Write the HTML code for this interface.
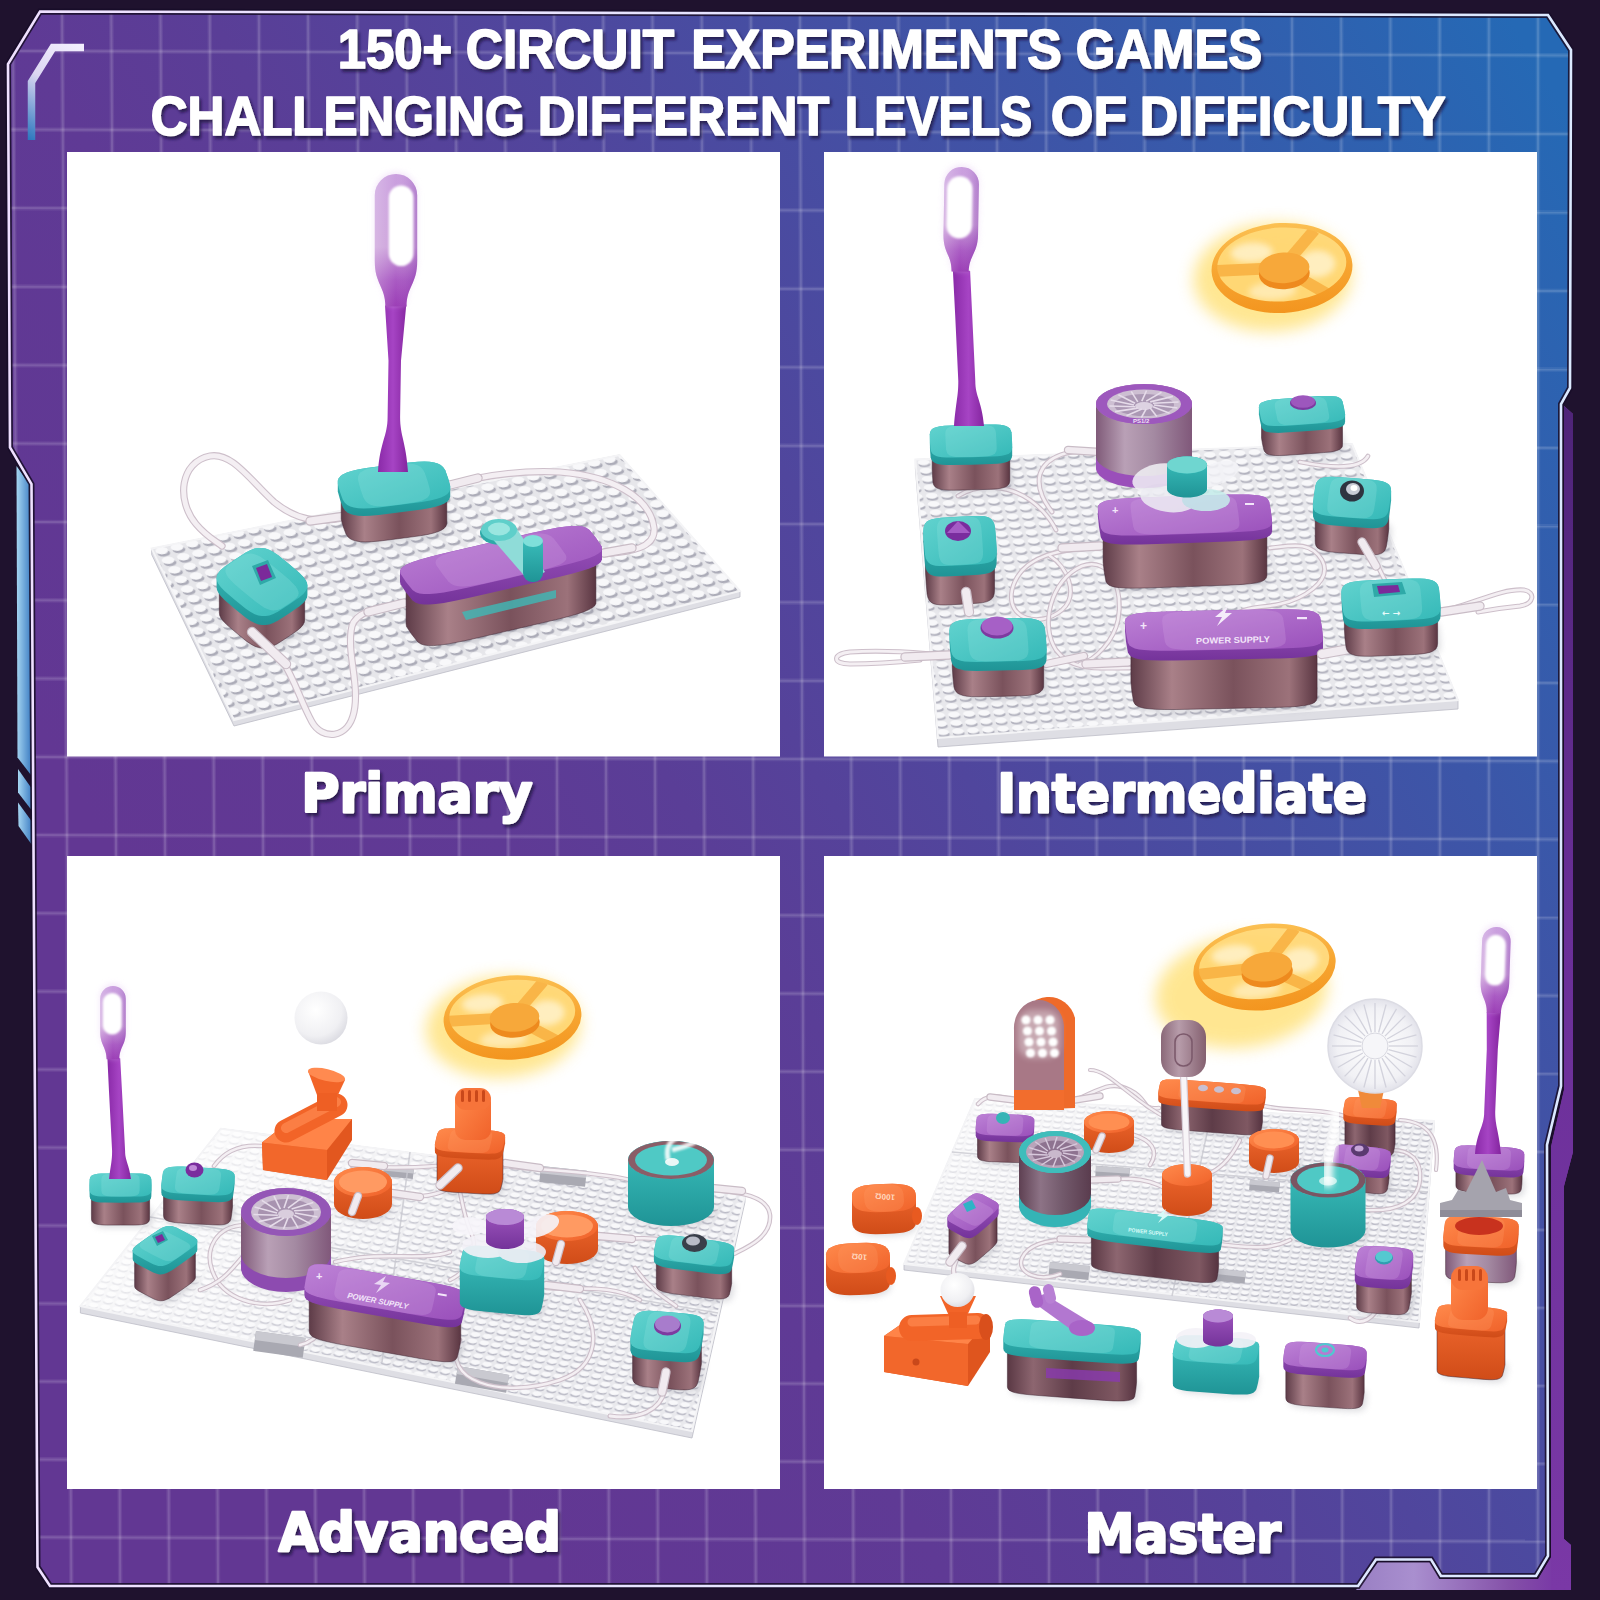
<!DOCTYPE html>
<html lang="en"><head><meta charset="utf-8"><title>150+ Circuit Experiments Games</title>
<style>
html,body{margin:0;padding:0;background:#1f122e;}
body{width:1600px;height:1600px;overflow:hidden;position:relative;font-family:"Liberation Sans",sans-serif;}
svg{position:absolute;left:0;top:0;display:block;}
.t{font-family:"Liberation Sans",sans-serif;font-weight:bold;fill:#fff;}
.lbl{font-family:"DejaVu Sans","Liberation Sans",sans-serif;font-weight:bold;fill:#fff;}
</style></head><body>
<svg width="1600" height="1600" viewBox="0 0 1600 1600">
<defs>
<linearGradient id="bgG" gradientUnits="userSpaceOnUse" x1="-294.1" y1="176.5" x2="1102.9" y2="-661.8">
<stop offset="0.000" stop-color="#623793"/><stop offset="0.211" stop-color="#5f3a95"/><stop offset="0.316" stop-color="#5a3e97"/><stop offset="0.474" stop-color="#50469d"/><stop offset="0.737" stop-color="#3c56a8"/><stop offset="1.000" stop-color="#2569b5"/>
</linearGradient>
<linearGradient id="edgeG" gradientUnits="userSpaceOnUse" x1="0" y1="0" x2="1600" y2="0">
<stop offset="0" stop-color="#efe0ff"/><stop offset="1" stop-color="#dbe9ff"/>
</linearGradient>
<clipPath id="frameClip"><polygon points="40,11.5 1548,15 1571,50 1570,388 1561,404 1561,1086 1547,1145 1548,1556 1536,1576 1441,1576 1431,1559.5 1376,1559.5 1358,1586 50,1586 37.5,1567 31.5,484 10,447.5 8,64"/></clipPath>
<linearGradient id="blueStrip" x1="0" y1="0" x2="1" y2="0">
<stop offset="0" stop-color="#a6d6f2"/><stop offset="1" stop-color="#3f7fc4"/>
</linearGradient>
<linearGradient id="brk" gradientUnits="userSpaceOnUse" x1="85" y1="45" x2="30" y2="140">
<stop offset="0" stop-color="#f4f0ff"/><stop offset="0.45" stop-color="#dcd6f2"/><stop offset="1" stop-color="#2d78be"/>
</linearGradient>
<linearGradient id="purStrip" gradientUnits="userSpaceOnUse" x1="1360" y1="0" x2="1575" y2="0">
<stop offset="0" stop-color="#9a80c4"/><stop offset="0.25" stop-color="#a98fcf"/><stop offset="0.7" stop-color="#8450a8"/><stop offset="0.89" stop-color="#7a3aa6"/><stop offset="1" stop-color="#7a38a6"/>
</linearGradient>
<linearGradient id="purV" gradientUnits="userSpaceOnUse" x1="0" y1="400" x2="0" y2="1590"><stop offset="0" stop-color="#4e2478"/><stop offset="0.45" stop-color="#6a2f98"/><stop offset="1" stop-color="#7a38a6"/></linearGradient>
<filter id="ts" x="-5%" y="-20%" width="110%" height="150%">
<feDropShadow dx="2" dy="3" stdDeviation="1.6" flood-color="#1a0a3a" flood-opacity="0.75"/>
</filter>
<filter id="blur1" x="-30%" y="-30%" width="160%" height="160%"><feGaussianBlur stdDeviation="1.2"/></filter>
<filter id="blur3" x="-30%" y="-30%" width="160%" height="160%"><feGaussianBlur stdDeviation="3"/></filter>
<filter id="blur8" x="-40%" y="-40%" width="180%" height="180%"><feGaussianBlur stdDeviation="8"/></filter>
<linearGradient id="gTealT" x1="0" y1="0" x2="1" y2="1"><stop offset="0" stop-color="#62d3cf"/><stop offset="1" stop-color="#35b9b8"/></linearGradient>
<linearGradient id="gTealS" x1="0" y1="0" x2="0" y2="1"><stop offset="0" stop-color="#3cc0bd"/><stop offset="1" stop-color="#1f9496"/></linearGradient>
<linearGradient id="gPurT" x1="0" y1="0" x2="1" y2="1"><stop offset="0" stop-color="#bd82d6"/><stop offset="1" stop-color="#9a50bb"/></linearGradient>
<linearGradient id="gPurS" x1="0" y1="0" x2="0" y2="1"><stop offset="0" stop-color="#a158c0"/><stop offset="1" stop-color="#74339a"/></linearGradient>
<linearGradient id="gOrT" x1="0" y1="0" x2="1" y2="1"><stop offset="0" stop-color="#ff8a4c"/><stop offset="1" stop-color="#f0622a"/></linearGradient>
<linearGradient id="gOrS" x1="0" y1="0" x2="0" y2="1"><stop offset="0" stop-color="#f26a30"/><stop offset="1" stop-color="#d04c18"/></linearGradient>
<linearGradient id="gBrown" x1="0" y1="0" x2="1" y2="0"><stop offset="0" stop-color="#5e3c48"/><stop offset="0.22" stop-color="#a98088"/><stop offset="0.55" stop-color="#7a525c"/><stop offset="0.85" stop-color="#9c727a"/><stop offset="1" stop-color="#5a3642"/></linearGradient>
<linearGradient id="gLampStem" x1="0" y1="0" x2="1" y2="0"><stop offset="0" stop-color="#8a2aa8"/><stop offset="0.5" stop-color="#a644c4"/><stop offset="1" stop-color="#84259f"/></linearGradient>
<linearGradient id="gMauve" x1="0" y1="0" x2="1" y2="0"><stop offset="0" stop-color="#7f5a78"/><stop offset="0.3" stop-color="#b9a0b6"/><stop offset="0.6" stop-color="#a48aa2"/><stop offset="1" stop-color="#80587a"/></linearGradient>
<radialGradient id="gBall" cx="0.4" cy="0.35" r="0.7"><stop offset="0" stop-color="#ffffff"/><stop offset="0.7" stop-color="#f0f0f3"/><stop offset="1" stop-color="#d9d9e0"/></radialGradient>
<linearGradient id="gMauveD" x1="0" y1="0" x2="1" y2="0"><stop offset="0" stop-color="#5e4052"/><stop offset="0.3" stop-color="#8d7386"/><stop offset="0.6" stop-color="#735a6c"/><stop offset="1" stop-color="#5a3c4e"/></linearGradient>
<linearGradient id="gBrownD" x1="0" y1="0" x2="1" y2="0"><stop offset="0" stop-color="#5a3844"/><stop offset="0.2" stop-color="#8d6670"/><stop offset="0.5" stop-color="#5e3c48"/><stop offset="0.85" stop-color="#7f5862"/><stop offset="1" stop-color="#553340"/></linearGradient>
<radialGradient id="gFanW" cx="0.5" cy="0.5" r="0.5"><stop offset="0" stop-color="#ffffff"/><stop offset="0.8" stop-color="#f1f1f5"/><stop offset="1" stop-color="#e2e2ea"/></radialGradient>
<linearGradient id="gMic" x1="0" y1="0" x2="1" y2="0"><stop offset="0" stop-color="#8a6878"/><stop offset="0.4" stop-color="#b79caa"/><stop offset="1" stop-color="#84606f"/></linearGradient>
<linearGradient id="gDisc" x1="0" y1="0" x2="0" y2="1"><stop offset="0" stop-color="#fbc052"/><stop offset="0.5" stop-color="#f7a632"/><stop offset="1" stop-color="#f3951f"/></linearGradient>
<linearGradient id="gLampHead" x1="0" y1="0" x2="0" y2="1"><stop offset="0" stop-color="#c79add"/><stop offset="0.55" stop-color="#c89ad8"/><stop offset="0.8" stop-color="#a552c0"/><stop offset="1" stop-color="#9634b2"/></linearGradient>
<linearGradient id="gLampHeadX" x1="0" y1="0" x2="1" y2="0"><stop offset="0" stop-color="#ffffff" stop-opacity="0.28"/><stop offset="0.5" stop-color="#ffffff" stop-opacity="0.05"/><stop offset="1" stop-color="#6a1f9a" stop-opacity="0.22"/></linearGradient>

</defs>
<rect width="1600" height="1600" fill="#1f122e"/>
<!-- outer purple strip right/bottom -->
<path d="M1564,406 L1573,414 L1573,1152 L1564,1186 L1564,1539 L1571,1545 L1571,1590 L1356,1590 L1378,1562 L1430,1562 L1440,1579 L1538,1579 L1551,1557 L1551,1147 L1564,1090 Z" fill="url(#purStrip)"/>
<path d="M1564,406 L1573,414 L1573,1152 L1564,1186 L1564,1539 L1571,1545 L1571,1590 L1551,1590 L1551,1557 L1551,1147 L1564,1090 Z" fill="url(#purV)"/>
<!-- left blue strip -->
<path d="M16.5,466 L29.5,484 L31,775 L17.5,757.5 Z" fill="url(#blueStrip)"/>
<path d="M18,769 L31,787.5 L31.5,810 L18,792.5 Z" fill="url(#blueStrip)"/>
<path d="M18,802.5 L31.5,821 L32,845 L18.5,826 Z" fill="url(#blueStrip)"/>
<!-- main frame -->
<polygon points="40,11.5 1548,15 1571,50 1570,388 1561,404 1561,1086 1547,1145 1548,1556 1536,1576 1441,1576 1431,1559.5 1376,1559.5 1358,1586 50,1586 37.5,1567 31.5,484 10,447.5 8,64" fill="url(#bgG)"/>
<g clip-path="url(#frameClip)" stroke="#ffffff" stroke-opacity="0.075" stroke-width="4.6">
<line x1="12.8" y1="0" x2="22.6" y2="1600"/>
<line x1="62.0" y1="0" x2="71.4" y2="1600"/>
<line x1="111.2" y1="0" x2="120.3" y2="1600"/>
<line x1="160.4" y1="0" x2="169.2" y2="1600"/>
<line x1="209.6" y1="0" x2="218.1" y2="1600"/>
<line x1="258.8" y1="0" x2="267.0" y2="1600"/>
<line x1="308.0" y1="0" x2="315.8" y2="1600"/>
<line x1="357.2" y1="0" x2="364.7" y2="1600"/>
<line x1="406.4" y1="0" x2="413.6" y2="1600"/>
<line x1="455.6" y1="0" x2="462.5" y2="1600"/>
<line x1="504.8" y1="0" x2="511.4" y2="1600"/>
<line x1="554.0" y1="0" x2="560.2" y2="1600"/>
<line x1="603.2" y1="0" x2="609.1" y2="1600"/>
<line x1="652.4" y1="0" x2="658.0" y2="1600"/>
<line x1="701.6" y1="0" x2="706.9" y2="1600"/>
<line x1="750.8" y1="0" x2="755.8" y2="1600"/>
<line x1="800.0" y1="0" x2="804.6" y2="1600"/>
<line x1="849.2" y1="0" x2="853.5" y2="1600"/>
<line x1="898.4" y1="0" x2="902.4" y2="1600"/>
<line x1="947.6" y1="0" x2="951.3" y2="1600"/>
<line x1="996.8" y1="0" x2="1000.2" y2="1600"/>
<line x1="1046.0" y1="0" x2="1049.0" y2="1600"/>
<line x1="1095.2" y1="0" x2="1097.9" y2="1600"/>
<line x1="1144.4" y1="0" x2="1146.8" y2="1600"/>
<line x1="1193.6" y1="0" x2="1195.7" y2="1600"/>
<line x1="1242.8" y1="0" x2="1244.6" y2="1600"/>
<line x1="1292.0" y1="0" x2="1293.4" y2="1600"/>
<line x1="1341.2" y1="0" x2="1342.3" y2="1600"/>
<line x1="1390.4" y1="0" x2="1391.2" y2="1600"/>
<line x1="1439.6" y1="0" x2="1440.1" y2="1600"/>
<line x1="1488.8" y1="0" x2="1489.0" y2="1600"/>
<line x1="1538.0" y1="0" x2="1537.8" y2="1600"/>
<line x1="1587.2" y1="0" x2="1586.7" y2="1600"/>
<line x1="0" y1="51.0" x2="1600" y2="55.5"/>
<line x1="0" y1="129.6" x2="1600" y2="134.1"/>
<line x1="0" y1="208.1" x2="1600" y2="212.6"/>
<line x1="0" y1="286.6" x2="1600" y2="291.1"/>
<line x1="0" y1="365.1" x2="1600" y2="369.6"/>
<line x1="0" y1="443.5" x2="1600" y2="448.0"/>
<line x1="0" y1="521.9" x2="1600" y2="526.4"/>
<line x1="0" y1="600.2" x2="1600" y2="604.7"/>
<line x1="0" y1="678.5" x2="1600" y2="683.0"/>
<line x1="0" y1="756.8" x2="1600" y2="761.3"/>
<line x1="0" y1="835.0" x2="1600" y2="839.5"/>
<line x1="0" y1="913.2" x2="1600" y2="917.7"/>
<line x1="0" y1="991.3" x2="1600" y2="995.8"/>
<line x1="0" y1="1069.4" x2="1600" y2="1073.9"/>
<line x1="0" y1="1147.5" x2="1600" y2="1152.0"/>
<line x1="0" y1="1225.5" x2="1600" y2="1230.0"/>
<line x1="0" y1="1303.5" x2="1600" y2="1308.0"/>
<line x1="0" y1="1381.4" x2="1600" y2="1385.9"/>
<line x1="0" y1="1459.3" x2="1600" y2="1463.8"/>
<line x1="0" y1="1537.2" x2="1600" y2="1541.7"/>
</g>
<g clip-path="url(#frameClip)" stroke="#ffffff" stroke-opacity="0.115" stroke-width="2">
<line x1="12.8" y1="0" x2="22.6" y2="1600"/>
<line x1="62.0" y1="0" x2="71.4" y2="1600"/>
<line x1="111.2" y1="0" x2="120.3" y2="1600"/>
<line x1="160.4" y1="0" x2="169.2" y2="1600"/>
<line x1="209.6" y1="0" x2="218.1" y2="1600"/>
<line x1="258.8" y1="0" x2="267.0" y2="1600"/>
<line x1="308.0" y1="0" x2="315.8" y2="1600"/>
<line x1="357.2" y1="0" x2="364.7" y2="1600"/>
<line x1="406.4" y1="0" x2="413.6" y2="1600"/>
<line x1="455.6" y1="0" x2="462.5" y2="1600"/>
<line x1="504.8" y1="0" x2="511.4" y2="1600"/>
<line x1="554.0" y1="0" x2="560.2" y2="1600"/>
<line x1="603.2" y1="0" x2="609.1" y2="1600"/>
<line x1="652.4" y1="0" x2="658.0" y2="1600"/>
<line x1="701.6" y1="0" x2="706.9" y2="1600"/>
<line x1="750.8" y1="0" x2="755.8" y2="1600"/>
<line x1="800.0" y1="0" x2="804.6" y2="1600"/>
<line x1="849.2" y1="0" x2="853.5" y2="1600"/>
<line x1="898.4" y1="0" x2="902.4" y2="1600"/>
<line x1="947.6" y1="0" x2="951.3" y2="1600"/>
<line x1="996.8" y1="0" x2="1000.2" y2="1600"/>
<line x1="1046.0" y1="0" x2="1049.0" y2="1600"/>
<line x1="1095.2" y1="0" x2="1097.9" y2="1600"/>
<line x1="1144.4" y1="0" x2="1146.8" y2="1600"/>
<line x1="1193.6" y1="0" x2="1195.7" y2="1600"/>
<line x1="1242.8" y1="0" x2="1244.6" y2="1600"/>
<line x1="1292.0" y1="0" x2="1293.4" y2="1600"/>
<line x1="1341.2" y1="0" x2="1342.3" y2="1600"/>
<line x1="1390.4" y1="0" x2="1391.2" y2="1600"/>
<line x1="1439.6" y1="0" x2="1440.1" y2="1600"/>
<line x1="1488.8" y1="0" x2="1489.0" y2="1600"/>
<line x1="1538.0" y1="0" x2="1537.8" y2="1600"/>
<line x1="1587.2" y1="0" x2="1586.7" y2="1600"/>
<line x1="0" y1="51.0" x2="1600" y2="55.5"/>
<line x1="0" y1="129.6" x2="1600" y2="134.1"/>
<line x1="0" y1="208.1" x2="1600" y2="212.6"/>
<line x1="0" y1="286.6" x2="1600" y2="291.1"/>
<line x1="0" y1="365.1" x2="1600" y2="369.6"/>
<line x1="0" y1="443.5" x2="1600" y2="448.0"/>
<line x1="0" y1="521.9" x2="1600" y2="526.4"/>
<line x1="0" y1="600.2" x2="1600" y2="604.7"/>
<line x1="0" y1="678.5" x2="1600" y2="683.0"/>
<line x1="0" y1="756.8" x2="1600" y2="761.3"/>
<line x1="0" y1="835.0" x2="1600" y2="839.5"/>
<line x1="0" y1="913.2" x2="1600" y2="917.7"/>
<line x1="0" y1="991.3" x2="1600" y2="995.8"/>
<line x1="0" y1="1069.4" x2="1600" y2="1073.9"/>
<line x1="0" y1="1147.5" x2="1600" y2="1152.0"/>
<line x1="0" y1="1225.5" x2="1600" y2="1230.0"/>
<line x1="0" y1="1303.5" x2="1600" y2="1308.0"/>
<line x1="0" y1="1381.4" x2="1600" y2="1385.9"/>
<line x1="0" y1="1459.3" x2="1600" y2="1463.8"/>
<line x1="0" y1="1537.2" x2="1600" y2="1541.7"/>
</g>
<polygon points="40,11.5 1548,15 1571,50 1570,388 1561,404 1561,1086 1547,1145 1548,1556 1536,1576 1441,1576 1431,1559.5 1376,1559.5 1358,1586 50,1586 37.5,1567 31.5,484 10,447.5 8,64" fill="none" stroke="#170d28" stroke-width="6" stroke-linejoin="miter" opacity="0.85"/>
<polygon points="40,11.5 1548,15 1571,50 1570,388 1561,404 1561,1086 1547,1145 1548,1556 1536,1576 1441,1576 1431,1559.5 1376,1559.5 1358,1586 50,1586 37.5,1567 31.5,484 10,447.5 8,64" fill="none" stroke="url(#edgeG)" stroke-width="2.6" stroke-linejoin="miter"/>
<!-- corner bracket -->
<polyline points="84,47.5 53,47.5 31.5,82 31.5,140" fill="none" stroke="url(#brk)" stroke-width="7.5" stroke-linejoin="miter"/>
<!-- white panels -->
<rect x="67" y="152" width="713" height="604.5" fill="#fff"/>
<rect x="824" y="152" width="713" height="604.5" fill="#fff"/>
<rect x="67" y="856" width="713" height="633" fill="#fff"/>
<rect x="824" y="856" width="713" height="633" fill="#fff"/>
<!-- PANEL CONTENT -->
<svg x="67" y="152" width="713" height="604.5" viewBox="67 152 713 604.5"><pattern id="st1" width="10" height="10" patternUnits="userSpaceOnUse" patternTransform="matrix(1.5217 -0.3478 0.6334 0.9606 151.7 548.6)"><rect width="10" height="10" fill="#e6e6ea"/><rect x="1.3" y="3.6" width="7.8" height="6.2" rx="3.6" fill="#acacb8"/><ellipse cx="5" cy="3.9" rx="3.9" ry="3.5" fill="#f8f8fa"/></pattern><polygon points="151.7,548.6 619.6,455 740,591 740,597 234,726 151.7,554.6" fill="#dedee4" /><polygon points="151.7,548.6 619.6,455 740,591 740,597 234,726 151.7,554.6" fill="none" stroke="#bdbdc6" stroke-width="0.8"/><polygon points="151.7,548.6 619.6,455 740,591 234,720" fill="url(#st1)" /><polygon points="151.7,548.6 619.6,455 740,591 234,720" fill="none" stroke="#f4f4f6" stroke-width="2"/><path d="M346,517 C318,524 296,520 274,502 C250,480 232,452 210,456 C180,462 176,500 196,524 C206,536 214,540 222,546" fill="none" stroke="#cdbfca" stroke-width="7.199999999999999" stroke-linecap="round" stroke-linejoin="round"/><path d="M346,517 C318,524 296,520 274,502 C250,480 232,452 210,456 C180,462 176,500 196,524 C206,536 214,540 222,546" fill="none" stroke="#f4eff3" stroke-width="5.0" stroke-linecap="round" stroke-linejoin="round"/><line x1="310" y1="521" x2="346" y2="516" stroke="#c9bcc6" stroke-width="9.4" stroke-linecap="round"/><line x1="310" y1="521" x2="346" y2="516" stroke="#f1ebf0" stroke-width="7" stroke-linecap="round"/><path d="M446,486 C480,476 520,470 560,472 C610,476 650,496 654,528 C656,548 630,552 604,554" fill="none" stroke="#cdbfca" stroke-width="7.199999999999999" stroke-linecap="round" stroke-linejoin="round"/><path d="M446,486 C480,476 520,470 560,472 C610,476 650,496 654,528 C656,548 630,552 604,554" fill="none" stroke="#f4eff3" stroke-width="5.0" stroke-linecap="round" stroke-linejoin="round"/><line x1="446" y1="486" x2="478" y2="478" stroke="#c9bcc6" stroke-width="9.4" stroke-linecap="round"/><line x1="446" y1="486" x2="478" y2="478" stroke="#f1ebf0" stroke-width="7" stroke-linecap="round"/><line x1="604" y1="553" x2="632" y2="548" stroke="#c9bcc6" stroke-width="9.4" stroke-linecap="round"/><line x1="604" y1="553" x2="632" y2="548" stroke="#f1ebf0" stroke-width="7" stroke-linecap="round"/><polygon points="344.2,519 345.1,516.6 346.8,514.6 349.3,512.8 352.8,511.2 357.2,509.8 363,508.4 371,507 391.1,504.3 411.2,501.8 419.4,501.1 425.6,500.9 430.6,501.1 434.7,501.7 438.1,502.7 440.9,504.2 443.2,506.1 445.1,509 447.8,516.3 449.8,523.7 449.8,526.8 448.9,529.2 447.2,531.3 444.7,533 441.2,534.6 436.8,536 431,537.4 423,538.8 402.9,541.5 382.8,544 374.6,544.7 368.4,544.9 363.4,544.7 359.3,544.1 355.9,543.1 353.1,541.7 350.8,539.7 348.9,536.8 346.2,529.5 344.2,522.1" fill="#8a8a96" opacity="0.28" filter="url(#blur3)"/><polygon points="341.2,485.6 342.1,483.2 343.8,481.1 346.3,479.4 349.8,477.8 354.2,476.4 360,475 368,473.6 388.1,470.9 408.2,468.4 416.4,467.7 422.6,467.5 427.6,467.7 431.7,468.3 435.1,469.3 437.9,470.8 440.2,472.7 442.1,475.6 444.8,482.9 446.8,490.3 446.8,523.8 445.9,526.2 444.2,528.3 441.7,530 438.2,531.6 433.8,533 428,534.4 420,535.8 399.9,538.5 379.8,541 371.6,541.7 365.4,541.9 360.4,541.7 356.3,541.1 352.9,540.1 350.1,538.7 347.8,536.7 345.9,533.8 343.2,526.5 341.2,519.1" fill="url(#gBrown)" stroke="#3d2330" stroke-width="0.9" stroke-opacity="0.55"/><polygon points="337.8,480.8 338.8,478.3 340.6,476.1 343.3,474.2 346.9,472.6 351.7,471 357.8,469.6 366.4,468.1 387.7,465.2 409.1,462.6 417.9,461.8 424.4,461.6 429.7,461.8 434.1,462.5 437.7,463.5 440.7,465.1 443.2,467.2 445.2,470.2 448,478 450.2,485.9 450.2,496.7 449.2,499.2 447.4,501.4 444.7,503.3 441.1,504.9 436.3,506.5 430.2,507.9 421.6,509.4 400.3,512.3 378.9,515 370.1,515.7 363.6,515.9 358.3,515.7 353.9,515 350.3,514 347.3,512.5 344.8,510.3 342.8,507.3 340,499.5 337.8,491.6" fill="url(#gTealS)" /><polygon points="448,478 450.2,485.9 450.2,489.2 449.2,491.7 447.4,493.9 444.7,495.8 441.1,497.4 436.3,499 430.2,500.4 421.6,501.9 400.3,504.8 378.9,507.4 370.1,508.2 363.6,508.4 358.3,508.2 353.9,507.5 350.3,506.5 347.3,504.9 344.8,502.8 342.8,499.8 340,492 337.8,484.1 337.8,480.8 338.8,478.3 340.6,476.1 343.3,474.2 346.9,472.6 351.7,471 357.8,469.6 366.4,468.1 387.7,465.2 409.1,462.6 417.9,461.8 424.4,461.6 429.7,461.8 434.1,462.5 437.7,463.5 440.7,465.1 443.2,467.2 445.2,470.2" fill="url(#gTealT)" /><polygon points="427.5,480.7 429.7,488.4 430.1,491.6 429.8,494 428.8,496 427.3,497.7 425.2,499.1 422.4,500.4 418.6,501.5 413.4,502.6 400.2,504.4 386.9,506 381.4,506.3 377.3,506.2 373.9,505.8 371,505 368.6,503.8 366.6,502.2 364.8,500 363.2,497 360.5,489.3 358.3,481.6 357.9,478.4 358.2,476 359.2,474 360.7,472.3 362.8,470.9 365.6,469.6 369.4,468.5 374.6,467.4 387.8,465.6 401.1,464 406.6,463.7 410.7,463.8 414.1,464.2 417,465 419.4,466.2 421.4,467.8 423.2,470 424.8,473" fill="#8fe4df" opacity="0.28"/><path d="M282,660 C296,682 300,700 312,722 C322,740 348,740 354,712 C360,684 346,652 352,626 C356,612 380,606 404,604" fill="none" stroke="#cdbfca" stroke-width="7.199999999999999" stroke-linecap="round" stroke-linejoin="round"/><path d="M282,660 C296,682 300,700 312,722 C322,740 348,740 354,712 C360,684 346,652 352,626 C356,612 380,606 404,604" fill="none" stroke="#f4eff3" stroke-width="5.0" stroke-linecap="round" stroke-linejoin="round"/><line x1="368" y1="612" x2="404" y2="603" stroke="#c9bcc6" stroke-width="9.4" stroke-linecap="round"/><line x1="368" y1="612" x2="404" y2="603" stroke="#f1ebf0" stroke-width="7" stroke-linecap="round"/><polygon points="409.1,626.9 410.1,624.7 412.4,622.7 415.9,620.7 420.9,618.6 427.6,616.4 436.6,613.8 449.7,610.5 492.2,600.6 534.7,590.8 548.2,588 557.8,586.2 565.3,585.2 571.4,584.7 576.5,584.7 580.6,585.2 584.1,586.3 587.2,588.4 593.3,596 598.5,603.7 598.9,606.4 597.9,608.6 595.6,610.6 592,612.6 587.1,614.7 580.4,616.9 571.4,619.5 558.3,622.8 515.8,632.7 473.3,642.5 459.8,645.3 450.2,647.1 442.7,648.1 436.6,648.6 431.5,648.6 427.4,648.1 423.9,647 420.8,644.9 414.7,637.3 409.5,629.6" fill="#8a8a96" opacity="0.28" filter="url(#blur3)"/><polygon points="406.1,576.5 407.1,574.3 409.4,572.3 412.9,570.3 417.9,568.2 424.6,566 433.6,563.5 446.7,560.1 489.2,550.2 531.7,540.5 545.2,537.6 554.8,535.9 562.3,534.8 568.4,534.3 573.5,534.3 577.6,534.8 581.1,536 584.2,538.1 590.3,545.6 595.5,553.4 595.9,556.1 595.9,603.4 594.9,605.6 592.6,607.6 589,609.6 584.1,611.7 577.4,613.9 568.4,616.5 555.3,619.8 512.8,629.7 470.3,639.5 456.8,642.3 447.2,644.1 439.7,645.1 433.6,645.6 428.5,645.6 424.4,645.1 420.9,644 417.8,641.9 411.7,634.3 406.5,626.6 406.1,623.9" fill="url(#gBrown)" stroke="#3d2330" stroke-width="0.9" stroke-opacity="0.55"/><polygon points="400,570.9 401.1,568.5 403.5,566.4 407.3,564.3 412.6,562.1 419.7,559.7 429.3,557 443.2,553.5 488.4,542.9 533.7,532.5 548,529.5 558.2,527.6 566.2,526.5 572.7,526 578.1,526 582.5,526.5 586.2,527.8 589.5,530 596,538 601.5,546.2 602,549.1 602,559.6 600.9,562 598.5,564.1 594.7,566.2 589.4,568.4 582.3,570.8 572.7,573.5 558.8,577 513.6,587.6 468.3,598 454,601 443.8,602.9 435.8,604 429.3,604.5 423.9,604.5 419.5,604 415.8,602.8 412.5,600.5 406,592.5 400.5,584.2 400,581.4" fill="url(#gPurS)" /><polygon points="596,538 601.5,546.3 602,549.1 600.9,551.5 598.5,553.6 594.7,555.7 589.4,557.9 582.3,560.3 572.7,563 558.8,566.5 513.6,577.1 468.3,587.5 454,590.5 443.8,592.4 435.8,593.5 429.3,594 423.9,594 419.5,593.5 415.8,592.3 412.5,590 406,582 400.5,573.7 400,570.9 401.1,568.5 403.5,566.4 407.3,564.3 412.6,562.1 419.7,559.7 429.3,557 443.2,553.5 488.4,542.9 533.7,532.5 548,529.5 558.2,527.6 566.2,526.5 572.7,526 578.1,526 582.5,526.5 586.2,527.7 589.5,530" fill="url(#gPurT)" /><polygon points="559.9,546.4 565.5,554.4 566.4,557.1 566.2,559.2 565.1,561 563,562.7 560,564.4 555.7,566.1 549.9,567.9 541.3,570.2 513.3,576.8 485.2,583.2 476.3,585 469.8,585.9 464.7,586.4 460.5,586.5 456.9,586.1 453.8,585.2 451,583.8 448.3,581.6 442.1,573.6 436.5,565.6 435.6,562.9 435.8,560.8 436.9,559 439,557.3 442,555.6 446.3,553.9 452.1,552.1 460.7,549.8 488.7,543.2 516.8,536.8 525.7,535 532.2,534.1 537.3,533.6 541.5,533.5 545.1,533.9 548.2,534.8 551,536.2 553.7,538.4" fill="#cfa0e4" opacity="0.28"/><ellipse cx="499" cy="533" rx="19" ry="11.5" fill="#2fa9a8"/><path d="M483,528 L515,526 L545,572 L528,580 Z" fill="#8fdcd8"/><ellipse cx="499" cy="530" rx="18" ry="11" fill="#5fcfca"/><ellipse cx="499" cy="529" rx="11" ry="6.5" fill="#9ae6e0"/><rect x="523" y="536" width="20" height="46" rx="9" fill="url(#gTealS)"/><ellipse cx="533" cy="541" rx="10" ry="6" fill="#7fe0da"/><path d="M462,612 L556,590 L556,598 L466,620 Z" fill="#3fb9b6" opacity="0.8"/><polygon points="222.3,615.6 222.7,613.1 223.9,610.6 226.1,608 229.7,604.9 239.6,598 249.8,591.5 254.4,589.1 258.1,587.8 261.6,587.2 265,587.2 268.4,587.7 271.9,589 275.6,590.9 280.2,594 290.4,602.2 300.3,610.7 303.9,614.4 306.1,617.5 307.3,620.2 307.7,622.7 307.3,625.2 306.1,627.7 303.9,630.4 300.3,633.5 290.4,640.3 280.2,646.9 275.6,649.2 271.9,650.5 268.4,651.2 265,651.2 261.6,650.6 258.1,649.4 254.4,647.4 249.8,644.4 239.6,636.1 229.7,627.6 226.1,623.9 223.9,620.9 222.7,618.2" fill="#8a8a96" opacity="0.28" filter="url(#blur3)"/><polygon points="219.3,583.8 219.7,581.4 220.9,578.8 223.1,576.2 226.7,573.1 236.6,566.2 246.8,559.7 251.4,557.4 255.1,556 258.6,555.4 262,555.4 265.4,556 268.9,557.2 272.6,559.1 277.2,562.2 287.4,570.5 297.3,579 300.9,582.7 303.1,585.7 304.3,588.4 304.7,591 304.7,619.7 304.3,622.2 303.1,624.7 300.9,627.4 297.3,630.5 287.4,637.3 277.2,643.9 272.6,646.2 268.9,647.5 265.4,648.2 262,648.2 258.6,647.6 255.1,646.4 251.4,644.4 246.8,641.4 236.6,633.1 226.7,624.6 223.1,620.9 220.9,617.9 219.7,615.2 219.3,612.6" fill="url(#gBrown)" stroke="#3d2330" stroke-width="0.9" stroke-opacity="0.55"/><polygon points="216.6,578.2 217,575.6 218.3,572.9 220.7,570.1 224.5,566.8 235,559.5 245.8,552.5 250.7,550 254.7,548.6 258.4,548 262,547.9 265.6,548.6 269.3,549.9 273.3,551.9 278.1,555.2 289,564 299.5,573 303.3,577 305.7,580.2 307,583.1 307.4,585.8 307.4,594.8 307,597.4 305.7,600.1 303.3,602.9 299.5,606.2 289,613.5 278.1,620.5 273.3,623 269.3,624.4 265.6,625 262,625.1 258.4,624.4 254.7,623.1 250.7,621.1 245.8,617.8 235,609 224.5,600 220.7,596 218.3,592.8 217,589.9 216.6,587.2" fill="url(#gTealS)" /><polygon points="289,564 299.5,573 303.3,577 305.7,580.2 307,583.1 307.4,585.8 307,588.4 305.7,591.1 303.3,593.9 299.5,597.2 289,604.5 278.2,611.5 273.3,613.9 269.3,615.4 265.6,616 262,616.1 258.4,615.4 254.7,614.2 250.7,612.1 245.8,608.8 235,600 224.5,591 220.7,587 218.3,583.8 217,580.9 216.6,578.2 217,575.6 218.3,572.9 220.7,570.1 224.5,566.8 235,559.5 245.8,552.5 250.7,550.1 254.7,548.6 258.4,548 262,547.9 265.6,548.6 269.3,549.8 273.3,551.9 278.2,555.2" fill="url(#gTealT)" /><polygon points="278.7,570.8 289.1,579.6 293,583.4 295.6,586.3 297.3,588.9 298.3,591.2 298.6,593.3 298.3,595.3 297.1,597.3 294.9,599.5 288.5,604 281.7,608.3 278.5,609.7 275.7,610.3 273,610.4 270.2,609.9 267.2,608.9 264,607.4 260.4,605.1 255.8,601.8 245.3,593.2 234.9,584.4 231,580.6 228.4,577.7 226.7,575.1 225.7,572.8 225.4,570.7 225.7,568.7 226.9,566.7 229.1,564.5 235.5,560 242.3,555.7 245.5,554.3 248.3,553.7 251,553.6 253.8,554.1 256.8,555.1 260,556.6 263.6,558.9 268.2,562.2" fill="#8fe4df" opacity="0.28"/><polygon points="252,566 268,560 276,578 260,585" fill="#2fa9a8"/><polygon points="256,568 267,564 272,577 261,581" fill="#7b2a9a"/><line x1="252" y1="632" x2="286" y2="664" stroke="#c9bcc6" stroke-width="10.4" stroke-linecap="round"/><line x1="252" y1="632" x2="286" y2="664" stroke="#f1ebf0" stroke-width="8" stroke-linecap="round"/><path d="M378,472 C380,441.8 387.6,436.2 387.6,417 L388.5,360.8 L385,305.5 L406.2,305.5 L401,360.8 L400.1,417 C400.1,436.2 406,441.8 408,472 Z" fill="url(#gLampStem)"/><g><path d="M374.8,195.2 A21.2,21.2 0 0 1 417.2,195.2 L417.2,260.9 C417.2,284.2 406.6,286.4 406.6,306.5 L385.4,306.5 C385.4,286.4 374.8,284.2 374.8,260.9 Z" fill="#ecd6f6" opacity="0.6" filter="url(#blur3)" transform="translate(0 -2)"/><path d="M374.8,195.2 A21.2,21.2 0 0 1 417.2,195.2 L417.2,260.9 C417.2,284.2 406.6,286.4 406.6,306.5 L385.4,306.5 C385.4,286.4 374.8,284.2 374.8,260.9 Z" fill="url(#gLampHead)"/><path d="M374.8,195.2 A21.2,21.2 0 0 1 417.2,195.2 L417.2,260.9 C417.2,284.2 406.6,286.4 406.6,306.5 L385.4,306.5 C385.4,286.4 374.8,284.2 374.8,260.9 Z" fill="url(#gLampHeadX)"/><rect x="388.8" y="185.5" width="24.6" height="80.5" rx="12.3" fill="#ffffff" filter="url(#blur1)"/></g></svg>
<svg x="824" y="152" width="713" height="604.5" viewBox="824 152 713 604.5"><pattern id="st2" width="10" height="10" patternUnits="userSpaceOnUse" patternTransform="matrix(1.4947 -0.0836 0.2009 0.8352 915.4 459.5)"><rect width="10" height="10" fill="#e8e8ec"/><rect x="1.3" y="3.6" width="7.8" height="6.2" rx="3.6" fill="#b2b2be"/><ellipse cx="5" cy="3.9" rx="3.9" ry="3.5" fill="#f8f8fa"/></pattern><polygon points="915.4,459.5 1352,444 1458,700 1458,709 938,747 915.4,468.5" fill="#dedee4" /><polygon points="915.4,459.5 1352,444 1458,700 1458,709 938,747 915.4,468.5" fill="none" stroke="#bdbdc6" stroke-width="0.8"/><polygon points="915.4,459.5 1352,444 1458,700 938,738" fill="url(#st2)" /><polygon points="915.4,459.5 1352,444 1458,700 938,738" fill="none" stroke="#f4f4f6" stroke-width="2"/><path d="M949,656 C920,652 880,650 850,652 C832,654 832,664 850,664 C880,664 900,662 920,660" fill="none" stroke="#cdbfca" stroke-width="5.0" stroke-linecap="round" stroke-linejoin="round"/><path d="M949,656 C920,652 880,650 850,652 C832,654 832,664 850,664 C880,664 900,662 920,660" fill="none" stroke="#f4eff3" stroke-width="2.8" stroke-linecap="round" stroke-linejoin="round"/><line x1="905" y1="657" x2="949" y2="655" stroke="#c9bcc6" stroke-width="9.4" stroke-linecap="round"/><line x1="905" y1="657" x2="949" y2="655" stroke="#f1ebf0" stroke-width="7" stroke-linecap="round"/><path d="M1441,611 C1470,606 1500,588 1524,590 C1536,592 1534,604 1520,606 C1500,608 1490,610 1478,612" fill="none" stroke="#cdbfca" stroke-width="5.0" stroke-linecap="round" stroke-linejoin="round"/><path d="M1441,611 C1470,606 1500,588 1524,590 C1536,592 1534,604 1520,606 C1500,608 1490,610 1478,612" fill="none" stroke="#f4eff3" stroke-width="2.8" stroke-linecap="round" stroke-linejoin="round"/><line x1="1441" y1="612" x2="1480" y2="606" stroke="#c9bcc6" stroke-width="9.4" stroke-linecap="round"/><line x1="1441" y1="612" x2="1480" y2="606" stroke="#f1ebf0" stroke-width="7" stroke-linecap="round"/><path d="M1100,452 C1070,448 1046,456 1040,474 C1036,490 1046,504 1052,512" fill="none" stroke="#cdbfca" stroke-width="5.0" stroke-linecap="round" stroke-linejoin="round"/><path d="M1100,452 C1070,448 1046,456 1040,474 C1036,490 1046,504 1052,512" fill="none" stroke="#f4eff3" stroke-width="2.8" stroke-linecap="round" stroke-linejoin="round"/><line x1="1068" y1="450" x2="1100" y2="452" stroke="#c9bcc6" stroke-width="8.4" stroke-linecap="round"/><line x1="1068" y1="450" x2="1100" y2="452" stroke="#f1ebf0" stroke-width="6" stroke-linecap="round"/><path d="M958,496 C980,482 1010,486 1030,500 C1044,510 1052,522 1056,530" fill="none" stroke="#cdbfca" stroke-width="4.800000000000001" stroke-linecap="round" stroke-linejoin="round"/><path d="M958,496 C980,482 1010,486 1030,500 C1044,510 1052,522 1056,530" fill="none" stroke="#f4eff3" stroke-width="2.6" stroke-linecap="round" stroke-linejoin="round"/><path d="M1100,548 C1060,548 1020,556 1012,590 C1006,620 1040,628 1062,610 C1080,594 1066,566 1050,556" fill="none" stroke="#cdbfca" stroke-width="4.800000000000001" stroke-linecap="round" stroke-linejoin="round"/><path d="M1100,548 C1060,548 1020,556 1012,590 C1006,620 1040,628 1062,610 C1080,594 1066,566 1050,556" fill="none" stroke="#f4eff3" stroke-width="2.6" stroke-linecap="round" stroke-linejoin="round"/><path d="M1130,668 C1100,668 1072,672 1056,650 C1040,626 1050,580 1082,566 C1110,556 1124,590 1118,620 C1114,640 1096,660 1080,664" fill="none" stroke="#cdbfca" stroke-width="4.800000000000001" stroke-linecap="round" stroke-linejoin="round"/><path d="M1130,668 C1100,668 1072,672 1056,650 C1040,626 1050,580 1082,566 C1110,556 1124,590 1118,620 C1114,640 1096,660 1080,664" fill="none" stroke="#f4eff3" stroke-width="2.6" stroke-linecap="round" stroke-linejoin="round"/><line x1="1062" y1="548" x2="1100" y2="546" stroke="#c9bcc6" stroke-width="9.4" stroke-linecap="round"/><line x1="1062" y1="548" x2="1100" y2="546" stroke="#f1ebf0" stroke-width="7" stroke-linecap="round"/><line x1="1086" y1="664" x2="1128" y2="662" stroke="#c9bcc6" stroke-width="9.4" stroke-linecap="round"/><line x1="1086" y1="664" x2="1128" y2="662" stroke="#f1ebf0" stroke-width="7" stroke-linecap="round"/><line x1="1046" y1="664" x2="1084" y2="656" stroke="#c9bcc6" stroke-width="8.4" stroke-linecap="round"/><line x1="1046" y1="664" x2="1084" y2="656" stroke="#f1ebf0" stroke-width="6" stroke-linecap="round"/><path d="M1270,548 C1290,546 1310,540 1322,560 C1334,582 1300,600 1280,604 C1262,608 1250,606 1240,612" fill="none" stroke="#cdbfca" stroke-width="4.800000000000001" stroke-linecap="round" stroke-linejoin="round"/><path d="M1270,548 C1290,546 1310,540 1322,560 C1334,582 1300,600 1280,604 C1262,608 1250,606 1240,612" fill="none" stroke="#f4eff3" stroke-width="2.6" stroke-linecap="round" stroke-linejoin="round"/><path d="M1300,462 C1330,468 1360,470 1368,456" fill="none" stroke="#cdbfca" stroke-width="4.800000000000001" stroke-linecap="round" stroke-linejoin="round"/><path d="M1300,462 C1330,468 1360,470 1368,456" fill="none" stroke="#f4eff3" stroke-width="2.6" stroke-linecap="round" stroke-linejoin="round"/><path d="M1375,560 C1384,580 1392,592 1394,600" fill="none" stroke="#cdbfca" stroke-width="5.0" stroke-linecap="round" stroke-linejoin="round"/><path d="M1375,560 C1384,580 1392,592 1394,600" fill="none" stroke="#f4eff3" stroke-width="2.8" stroke-linecap="round" stroke-linejoin="round"/><polygon points="1099,469 1099.7,465.5 1101.9,462.2 1105.4,459 1110.2,456.1 1116.2,453.7 1123,451.7 1130.6,450.2 1138.7,449.3 1147,449 1155.3,449.3 1163.4,450.2 1171,451.7 1177.8,453.7 1183.8,456.1 1188.6,459 1192.1,462.2 1194.3,465.5 1195,469 1194.3,472.5 1192.1,475.8 1188.6,479 1183.8,481.9 1177.8,484.3 1171,486.3 1163.4,487.8 1155.3,488.7 1147,489 1138.7,488.7 1130.6,487.8 1123,486.3 1116.2,484.3 1110.2,481.9 1105.4,479 1101.9,475.8 1099.7,472.5" fill="#8a8a96" opacity="0.22" filter="url(#blur3)"/><polygon points="1096,404 1096.7,400.5 1098.9,397.2 1102.4,394 1107.2,391.1 1113.2,388.7 1120,386.7 1127.6,385.2 1135.7,384.3 1144,384 1152.3,384.3 1160.4,385.2 1168,386.7 1174.8,388.7 1180.8,391.1 1185.6,394 1189.1,397.2 1191.3,400.5 1192,404 1192,466 1191.3,469.5 1189.1,472.8 1185.6,476 1180.8,478.9 1174.8,481.3 1168,483.3 1160.4,484.8 1152.3,485.7 1144,486 1135.7,485.7 1127.6,484.8 1120,483.3 1113.2,481.3 1107.2,478.9 1102.4,476 1098.9,472.8 1096.7,469.5 1096,466" fill="url(#gMauve)" /><polygon points="1192,404 1191.3,407.5 1189.1,410.8 1185.6,414 1180.8,416.9 1174.9,419.3 1168,421.3 1160.4,422.8 1152.3,423.7 1144,424 1135.7,423.7 1127.6,422.8 1120,421.3 1113.1,419.3 1107.2,416.9 1102.4,414 1098.9,410.8 1096.7,407.5 1096,404 1096.7,400.5 1098.9,397.2 1102.4,394 1107.2,391.1 1113.1,388.7 1120,386.7 1127.6,385.2 1135.7,384.3 1144,384 1152.3,384.3 1160.4,385.2 1168,386.7 1174.9,388.7 1180.8,391.1 1185.6,394 1189.1,397.2 1191.3,400.5" fill="url(#gPurT)" /><path d="M1096,456 A48,20 0 0 0 1192,456 L1192,468 A48,20 0 0 1 1096,468 Z" fill="#9a4fba"/><ellipse cx="1144" cy="404" rx="48" ry="20" fill="#9d58bd"/><ellipse cx="1144" cy="404" rx="37" ry="14.5" fill="#cdbfd2"/><ellipse cx="1144" cy="405" rx="30" ry="11" fill="#ab98b4"/><ellipse cx="1144" cy="406" rx="9" ry="4" fill="#ddd2e2"/><line x1="1154" y1="405" x2="1177.4" y2="408" stroke="#e6dcea" stroke-width="1.6"/><line x1="1153" y1="406.7" x2="1169.6" y2="413.2" stroke="#e6dcea" stroke-width="1.6"/><line x1="1150.2" y1="408.1" x2="1156.8" y2="416.6" stroke="#e6dcea" stroke-width="1.6"/><line x1="1146.2" y1="408.9" x2="1141.4" y2="417.5" stroke="#e6dcea" stroke-width="1.6"/><line x1="1141.8" y1="408.9" x2="1126.5" y2="415.7" stroke="#e6dcea" stroke-width="1.6"/><line x1="1137.8" y1="408.1" x2="1115.1" y2="411.6" stroke="#e6dcea" stroke-width="1.6"/><line x1="1135" y1="406.7" x2="1109.4" y2="406" stroke="#e6dcea" stroke-width="1.6"/><line x1="1134" y1="405" x2="1110.6" y2="400" stroke="#e6dcea" stroke-width="1.6"/><line x1="1135" y1="403.3" x2="1118.4" y2="394.8" stroke="#e6dcea" stroke-width="1.6"/><line x1="1137.8" y1="401.9" x2="1131.2" y2="391.4" stroke="#e6dcea" stroke-width="1.6"/><line x1="1141.8" y1="401.1" x2="1146.6" y2="390.5" stroke="#e6dcea" stroke-width="1.6"/><line x1="1146.2" y1="401.1" x2="1161.5" y2="392.3" stroke="#e6dcea" stroke-width="1.6"/><line x1="1150.2" y1="401.9" x2="1172.9" y2="396.4" stroke="#e6dcea" stroke-width="1.6"/><line x1="1153" y1="403.3" x2="1178.6" y2="402" stroke="#e6dcea" stroke-width="1.6"/><text x="1133" y="422.5" font-family="Liberation Sans,sans-serif" font-size="6" font-weight="bold" fill="#f0e4f6">PS1/2</text><polygon points="935.2,471.2 935.7,469 936.6,467.4 937.9,466.1 939.7,465.1 942.1,464.3 945.1,463.7 949.1,463.2 954.8,462.9 973.1,462.3 991.5,462 997.3,462.1 1001.3,462.3 1004.4,462.8 1006.8,463.5 1008.7,464.4 1010.2,465.6 1011.2,467.1 1012,469.4 1012.5,476.6 1012.8,483.9 1012.3,486.2 1011.4,487.8 1010.1,489 1008.3,490 1005.9,490.8 1002.9,491.4 998.9,491.9 993.2,492.3 974.9,492.8 956.5,493.2 950.7,493.1 946.7,492.8 943.6,492.3 941.2,491.6 939.3,490.7 937.8,489.6 936.8,488 936,485.8 935.5,478.5" fill="#8a8a96" opacity="0.28" filter="url(#blur3)"/><polygon points="932.2,439.2 932.7,436.9 933.6,435.3 934.9,434.1 936.7,433.1 939.1,432.3 942.1,431.6 946.1,431.2 951.8,430.8 970.1,430.3 988.5,429.9 994.3,430 998.3,430.3 1001.4,430.8 1003.8,431.4 1005.7,432.3 1007.2,433.5 1008.2,435.1 1009,437.3 1009.5,444.6 1009.8,451.8 1009.8,480.9 1009.3,483.2 1008.4,484.8 1007.1,486 1005.3,487 1002.9,487.8 999.9,488.4 995.9,488.9 990.2,489.3 971.9,489.8 953.5,490.2 947.7,490.1 943.7,489.8 940.6,489.3 938.2,488.6 936.3,487.7 934.8,486.6 933.8,485 933,482.8 932.5,475.5 932.2,468.2" fill="url(#gBrown)" stroke="#3d2330" stroke-width="0.9" stroke-opacity="0.55"/><polygon points="929.8,434.3 930.2,431.9 931.2,430.1 932.6,428.8 934.5,427.8 937,426.9 940.2,426.3 944.5,425.8 950.6,425.4 970.1,424.8 989.6,424.4 995.8,424.5 1000,424.8 1003.3,425.3 1005.9,426 1007.9,427 1009.5,428.2 1010.6,429.9 1011.4,432.3 1012,440 1012.2,447.7 1012.2,455.2 1011.8,457.6 1010.8,459.4 1009.4,460.7 1007.5,461.7 1005,462.6 1001.8,463.2 997.5,463.8 991.4,464.1 971.9,464.7 952.4,465.1 946.2,465 942,464.7 938.7,464.2 936.1,463.5 934.1,462.5 932.5,461.3 931.4,459.6 930.6,457.2 930,449.5 929.8,441.8" fill="url(#gTealS)" /><polygon points="1012,440 1012.2,447.7 1011.7,450.1 1010.8,451.9 1009.4,453.2 1007.5,454.2 1005,455.1 1001.8,455.7 997.5,456.3 991.4,456.6 971.9,457.2 952.4,457.6 946.3,457.5 942,457.2 938.7,456.7 936.1,456 934.1,455 932.5,453.8 931.4,452.1 930.6,449.7 930,442 929.8,434.3 930.3,431.9 931.2,430.1 932.6,428.8 934.5,427.8 937,426.9 940.2,426.3 944.5,425.7 950.6,425.4 970.1,424.8 989.6,424.4 995.7,424.5 1000,424.8 1003.3,425.3 1005.9,426 1007.9,427 1009.5,428.2 1010.6,429.9 1011.4,432.3" fill="url(#gTealT)" /><polygon points="996.4,440.4 996.7,447.9 996.5,450.3 995.9,452 995.1,453.3 993.9,454.3 992.4,455.1 990.4,455.7 987.8,456.2 984,456.5 971.9,456.9 959.8,457.1 956,456.9 953.3,456.6 951.3,456.1 949.6,455.4 948.4,454.4 947.4,453.2 946.6,451.5 946.1,449.2 945.6,441.6 945.3,434.1 945.5,431.7 946.1,430 946.9,428.7 948.1,427.7 949.6,426.9 951.6,426.3 954.2,425.8 958,425.5 970.1,425.1 982.2,424.9 986,425.1 988.7,425.4 990.7,425.9 992.4,426.6 993.6,427.6 994.6,428.8 995.4,430.5 995.9,432.8" fill="#8fe4df" opacity="0.28"/><polygon points="1264.5,441.1 1264.7,439.1 1265.5,437.7 1266.7,436.6 1268.4,435.7 1270.8,434.9 1273.8,434.2 1277.8,433.6 1283.7,433 1302.5,431.6 1321.3,430.3 1327.2,430.1 1331.4,430.1 1334.6,430.4 1337.2,430.8 1339.2,431.4 1340.8,432.4 1342.1,433.6 1343.1,435.5 1344.5,441.5 1345.5,447.5 1345.3,449.5 1344.5,450.9 1343.3,452 1341.6,452.9 1339.2,453.7 1336.2,454.4 1332.2,455 1326.3,455.6 1307.5,457 1288.7,458.3 1282.8,458.5 1278.6,458.5 1275.4,458.2 1272.8,457.8 1270.8,457.2 1269.2,456.2 1267.9,455 1266.9,453.1 1265.5,447.1" fill="#8a8a96" opacity="0.28" filter="url(#blur3)"/><polygon points="1261.5,411.8 1261.7,409.9 1262.5,408.5 1263.7,407.4 1265.4,406.5 1267.8,405.7 1270.8,405 1274.8,404.4 1280.7,403.8 1299.5,402.4 1318.3,401.1 1324.2,400.9 1328.4,400.9 1331.6,401.1 1334.2,401.6 1336.2,402.2 1337.8,403.1 1339.1,404.4 1340.1,406.2 1341.5,412.2 1342.5,418.3 1342.5,444.5 1342.3,446.5 1341.5,447.9 1340.3,449 1338.6,449.9 1336.2,450.7 1333.2,451.4 1329.2,452 1323.3,452.6 1304.5,454 1285.7,455.3 1279.8,455.5 1275.6,455.5 1272.4,455.2 1269.8,454.8 1267.8,454.2 1266.2,453.2 1264.9,452 1263.9,450.1 1262.5,444.1 1261.5,438.1" fill="url(#gBrown)" stroke="#3d2330" stroke-width="0.9" stroke-opacity="0.55"/><polygon points="1258.9,407.6 1259.2,405.5 1259.9,404 1261.2,402.8 1263.1,401.9 1265.6,401 1268.8,400.3 1273.1,399.6 1279.3,399 1299.3,397.5 1319.3,396.1 1325.6,395.9 1330,395.9 1333.5,396.2 1336.2,396.6 1338.4,397.3 1340.1,398.3 1341.5,399.6 1342.5,401.6 1344,408 1345.1,414.4 1345.1,421.2 1344.8,423.2 1344.1,424.7 1342.8,425.9 1340.9,426.9 1338.4,427.7 1335.2,428.4 1330.9,429.1 1324.7,429.8 1304.7,431.2 1284.7,432.6 1278.4,432.9 1274,432.8 1270.5,432.6 1267.8,432.1 1265.6,431.4 1263.9,430.5 1262.5,429.1 1261.5,427.2 1260,420.8 1258.9,414.3" fill="url(#gTealS)" /><polygon points="1344,408 1345.1,414.4 1344.9,416.5 1344.1,418 1342.8,419.2 1340.9,420.1 1338.4,421 1335.2,421.7 1330.9,422.4 1324.7,423 1304.7,424.5 1284.7,425.9 1278.4,426.1 1274,426.1 1270.5,425.8 1267.8,425.4 1265.6,424.7 1263.9,423.7 1262.5,422.4 1261.5,420.4 1260,414 1258.9,407.6 1259.1,405.5 1259.9,404 1261.2,402.8 1263.1,401.9 1265.6,401 1268.8,400.3 1273.1,399.6 1279.3,399 1299.3,397.5 1319.3,396.1 1325.6,395.9 1330,395.9 1333.5,396.2 1336.2,396.6 1338.4,397.3 1340.1,398.3 1341.5,399.6 1342.5,401.6" fill="url(#gTealT)" /><polygon points="1328,409.1 1329.2,415.4 1329.2,417.4 1328.8,418.9 1328.1,420 1327,420.9 1325.5,421.7 1323.5,422.3 1320.9,422.8 1317,423.3 1304.6,424.2 1292.2,425.1 1288.3,425.1 1285.5,425 1283.4,424.7 1281.6,424.1 1280.2,423.4 1279.1,422.4 1278.1,421.1 1277.3,419.2 1276,412.9 1274.8,406.6 1274.8,404.6 1275.2,403.1 1275.9,402 1277,401.1 1278.5,400.3 1280.5,399.7 1283.1,399.2 1287,398.7 1299.4,397.8 1311.8,396.9 1315.7,396.9 1318.5,397 1320.6,397.3 1322.4,397.9 1323.8,398.6 1324.9,399.6 1325.9,400.9 1326.7,402.8" fill="#8fe4df" opacity="0.28"/><ellipse cx="1303" cy="403" rx="13" ry="7" fill="#7d3aa0"/><ellipse cx="1303" cy="401.5" rx="12" ry="6.3" fill="#9d57bd"/><polygon points="1106.1,565.1 1106.8,562.6 1108.3,560.9 1110.5,559.6 1113.7,558.5 1117.9,557.6 1123.4,556.9 1130.8,556.3 1141.9,555.6 1185.5,554.1 1229,552.6 1240.2,552.5 1247.7,552.6 1253.3,552.9 1257.8,553.5 1261.2,554.3 1263.8,555.5 1265.8,557 1267.1,559.5 1268.8,569 1269.9,578.6 1269.2,581.1 1267.7,582.8 1265.5,584.1 1262.3,585.1 1258.1,586 1252.6,586.8 1245.2,587.4 1234.1,588 1190.5,589.6 1147,591 1135.8,591.2 1128.3,591.1 1122.7,590.7 1118.2,590.2 1114.8,589.3 1112.2,588.2 1110.2,586.6 1108.9,584.2 1107.2,574.6" fill="#8a8a96" opacity="0.28" filter="url(#blur3)"/><polygon points="1103.1,513.6 1103.8,511.2 1105.3,509.5 1107.5,508.1 1110.7,507.1 1114.9,506.2 1120.4,505.5 1127.8,504.8 1138.9,504.2 1182.5,502.6 1226,501.2 1237.2,501 1244.7,501.1 1250.3,501.5 1254.8,502.1 1258.2,502.9 1260.8,504 1262.8,505.6 1264.1,508 1265.8,517.6 1266.9,527.2 1266.9,575.6 1266.2,578.1 1264.7,579.8 1262.5,581.1 1259.3,582.1 1255.1,583 1249.6,583.8 1242.2,584.4 1231.1,585 1187.5,586.6 1144,588 1132.8,588.2 1125.3,588.1 1119.7,587.7 1115.2,587.2 1111.8,586.3 1109.2,585.2 1107.2,583.6 1105.9,581.2 1104.2,571.6 1103.1,562.1" fill="url(#gBrown)" stroke="#3d2330" stroke-width="0.9" stroke-opacity="0.55"/><polygon points="1097.9,507.8 1098.6,505.2 1100.2,503.4 1102.6,502 1106,500.8 1110.4,499.9 1116.3,499.1 1124.2,498.4 1136,497.8 1182.3,496.1 1228.7,494.6 1240.5,494.4 1248.5,494.5 1254.5,494.9 1259.2,495.5 1262.9,496.4 1265.7,497.6 1267.8,499.3 1269.2,501.8 1271,512 1272.1,522.2 1272.1,531.2 1271.4,533.8 1269.8,535.6 1267.4,537 1264,538.2 1259.6,539.1 1253.7,539.9 1245.8,540.6 1234,541.2 1187.7,542.9 1141.3,544.4 1129.5,544.6 1121.5,544.5 1115.5,544.1 1110.8,543.5 1107.1,542.6 1104.3,541.4 1102.2,539.7 1100.8,537.2 1099,527 1097.9,516.8" fill="url(#gPurS)" /><polygon points="1271,512 1272.1,522.2 1271.4,524.8 1269.8,526.6 1267.4,528 1264,529.2 1259.6,530.1 1253.7,530.9 1245.8,531.6 1234,532.2 1187.7,533.9 1141.4,535.4 1129.5,535.6 1121.5,535.5 1115.5,535.1 1110.8,534.5 1107.1,533.6 1104.3,532.4 1102.3,530.7 1100.8,528.2 1099,518 1097.9,507.8 1098.6,505.2 1100.2,503.4 1102.6,502 1106,500.8 1110.4,499.9 1116.3,499.1 1124.2,498.4 1136,497.8 1182.3,496.1 1228.6,494.6 1240.5,494.4 1248.5,494.5 1254.5,494.9 1259.2,495.5 1262.9,496.4 1265.7,497.6 1267.7,499.3 1269.2,501.8" fill="url(#gPurT)" /><polygon points="1238.3,513.1 1239.5,523.1 1239.2,525.7 1238.3,527.4 1236.9,528.8 1234.9,529.8 1232.1,530.7 1228.5,531.4 1223.7,532 1216.4,532.4 1187.6,533.5 1158.9,534.4 1151.6,534.5 1146.6,534.3 1142.8,533.8 1139.9,533.2 1137.5,532.2 1135.7,531 1134.4,529.4 1133.3,526.8 1131.7,516.9 1130.5,506.9 1130.8,504.3 1131.7,502.6 1133.1,501.2 1135.1,500.2 1137.9,499.3 1141.5,498.6 1146.3,498 1153.6,497.6 1182.4,496.5 1211.1,495.6 1218.4,495.5 1223.4,495.7 1227.2,496.2 1230.1,496.8 1232.5,497.8 1234.3,499 1235.6,500.6 1236.7,503.2" fill="#cfa0e4" opacity="0.28"/><g opacity="0.85"><ellipse cx="1158" cy="478" rx="26" ry="14" fill="#f2f2f6" transform="rotate(-12 1158 478)"/><ellipse cx="1168" cy="498" rx="28" ry="14" fill="#eeeef4" transform="rotate(8 1168 498)"/><ellipse cx="1206" cy="500" rx="24" ry="11" fill="#c7efec"/><ellipse cx="1216" cy="474" rx="24" ry="11" fill="#f4f4f8" transform="rotate(-20 1216 474)"/></g><polygon points="1167,465 1167.3,463.5 1168.2,462.1 1169.7,460.8 1171.7,459.5 1174.1,458.5 1177,457.6 1180.2,457 1183.5,456.6 1187,456.5 1190.5,456.6 1193.8,457 1197,457.6 1199.9,458.5 1202.3,459.5 1204.3,460.8 1205.8,462.1 1206.7,463.5 1207,465 1207,489 1206.7,490.5 1205.8,491.9 1204.3,493.2 1202.3,494.5 1199.9,495.5 1197,496.4 1193.8,497 1190.5,497.4 1187,497.5 1183.5,497.4 1180.2,497 1177,496.4 1174.1,495.5 1171.7,494.5 1169.7,493.2 1168.2,491.9 1167.3,490.5 1167,489" fill="url(#gTealS)" /><polygon points="1207,465 1206.7,466.5 1205.8,467.9 1204.3,469.2 1202.3,470.5 1199.9,471.5 1197,472.4 1193.8,473 1190.5,473.4 1187,473.5 1183.5,473.4 1180.2,473 1177,472.4 1174.1,471.5 1171.7,470.5 1169.7,469.2 1168.2,467.9 1167.3,466.5 1167,465 1167.3,463.5 1168.2,462.1 1169.7,460.8 1171.7,459.5 1174.1,458.5 1177,457.6 1180.2,457 1183.5,456.6 1187,456.5 1190.5,456.6 1193.8,457 1197,457.6 1199.9,458.5 1202.3,459.5 1204.3,460.8 1205.8,462.1 1206.7,463.5" fill="url(#gTealT)" /><ellipse cx="1187" cy="465" rx="20" ry="8.5" fill="#6fd6d0"/><text x="1112" y="514" font-family="Liberation Sans,sans-serif" font-size="11" font-weight="bold" fill="#f3e6fa">+</text><rect x="1245" y="503" width="9" height="2" fill="#f3e6fa"/><polygon points="928.5,575.3 928.8,571.9 929.5,569.5 930.5,567.6 932.1,566.1 934.1,564.9 936.7,563.9 940.2,563.1 945.2,562.5 961.3,561.5 977.4,560.7 982.5,560.8 986.1,561.2 988.8,561.8 991,562.8 992.7,564.1 994.1,565.9 995.1,568.2 995.9,571.6 996.8,582.5 997.5,593.4 997.2,596.8 996.5,599.2 995.5,601.1 993.9,602.6 991.9,603.8 989.3,604.8 985.8,605.6 980.8,606.2 964.7,607.2 948.6,608 943.5,607.9 939.9,607.5 937.2,606.9 935,605.9 933.3,604.5 931.9,602.8 930.9,600.5 930.1,597.1 929.2,586.2" fill="#8a8a96" opacity="0.28" filter="url(#blur3)"/><polygon points="925.5,538.3 925.8,534.9 926.5,532.4 927.5,530.6 929.1,529 931.1,527.8 933.7,526.9 937.2,526.1 942.2,525.5 958.3,524.5 974.4,523.7 979.5,523.7 983.1,524.1 985.8,524.8 988,525.8 989.7,527.1 991.1,528.9 992.1,531.2 992.9,534.5 993.8,545.4 994.5,556.3 994.5,590.4 994.2,593.8 993.5,596.2 992.5,598.1 990.9,599.6 988.9,600.8 986.3,601.8 982.8,602.6 977.8,603.2 961.7,604.2 945.6,605 940.5,604.9 936.9,604.5 934.2,603.9 932,602.9 930.3,601.5 928.9,599.8 927.9,597.5 927.1,594.1 926.2,583.2 925.5,572.3" fill="url(#gBrown)" stroke="#3d2330" stroke-width="0.9" stroke-opacity="0.55"/><polygon points="923.3,531.4 923.6,527.8 924.3,525.2 925.5,523.2 927.1,521.6 929.2,520.3 932,519.2 935.7,518.4 941.1,517.8 958.2,516.7 975.4,515.9 980.7,515.9 984.5,516.3 987.5,517.1 989.8,518.1 991.6,519.5 993.1,521.4 994.2,523.9 995,527.4 996,539 996.7,550.6 996.7,561.1 996.4,564.7 995.7,567.3 994.5,569.3 992.9,570.9 990.8,572.2 988,573.2 984.3,574.1 978.9,574.7 961.8,575.8 944.6,576.6 939.3,576.6 935.5,576.2 932.5,575.4 930.2,574.4 928.4,573 926.9,571.1 925.8,568.6 925,565.1 924,553.5 923.3,541.9" fill="url(#gTealS)" /><polygon points="996,539 996.7,550.6 996.4,554.2 995.7,556.8 994.5,558.8 992.9,560.4 990.8,561.7 988,562.7 984.3,563.6 978.9,564.2 961.8,565.3 944.7,566.1 939.3,566.1 935.5,565.7 932.5,564.9 930.2,563.9 928.4,562.5 926.9,560.6 925.8,558.2 925,554.6 924,543 923.3,531.4 923.6,527.8 924.3,525.2 925.5,523.2 927.1,521.6 929.2,520.3 932,519.3 935.7,518.4 941.1,517.8 958.2,516.7 975.3,515.9 980.7,515.9 984.5,516.3 987.5,517.1 989.8,518.1 991.6,519.5 993.1,521.4 994.2,523.8 995,527.4" fill="url(#gTealT)" /><polygon points="982.3,539.8 983,551.1 983,554.7 982.6,557.2 981.9,559.1 981,560.7 979.7,561.9 978,562.8 975.7,563.6 972.4,564.1 961.8,564.8 951.1,565.3 947.8,565.1 945.4,564.6 943.6,563.9 942.1,562.8 940.9,561.4 940,559.5 939.2,557.1 938.6,553.6 937.7,542.2 937,530.9 937,527.3 937.4,524.8 938.1,522.9 939,521.3 940.3,520.1 942,519.2 944.3,518.4 947.6,517.9 958.2,517.2 968.9,516.7 972.2,516.9 974.6,517.4 976.4,518.1 977.9,519.2 979.1,520.6 980,522.5 980.8,524.9 981.4,528.4" fill="#8fe4df" opacity="0.28"/><ellipse cx="958" cy="531" rx="13" ry="10" fill="#7a2d9e"/><path d="M947,533 L958,521 L970,533 Z" fill="#a55cc6"/><line x1="966" y1="592" x2="969" y2="612" stroke="#c9bcc6" stroke-width="10.4" stroke-linecap="round"/><line x1="966" y1="592" x2="969" y2="612" stroke="#f1ebf0" stroke-width="8" stroke-linecap="round"/><polygon points="1318.2,544 1319.3,535.1 1320.7,526.2 1321.6,523.5 1322.7,521.6 1324.2,520.3 1326.1,519.3 1328.5,518.5 1331.4,518.1 1335.2,517.9 1340.5,518 1357.5,519.3 1374.5,520.7 1379.8,521.4 1383.5,522.2 1386.2,523.1 1388.3,524.2 1389.9,525.5 1391,527 1391.6,529 1391.8,531.9 1390.7,540.7 1389.3,549.6 1388.4,552.3 1387.3,554.2 1385.8,555.5 1383.9,556.6 1381.5,557.3 1378.6,557.7 1374.8,557.9 1369.5,557.8 1352.5,556.5 1335.5,555.1 1330.2,554.4 1326.5,553.6 1323.8,552.7 1321.7,551.7 1320.1,550.4 1319,548.8 1318.4,546.8" fill="#8a8a96" opacity="0.28" filter="url(#blur3)"/><polygon points="1315.2,509.5 1316.3,500.6 1317.7,491.7 1318.6,489 1319.7,487.1 1321.2,485.8 1323.1,484.7 1325.5,484 1328.4,483.6 1332.2,483.4 1337.5,483.5 1354.5,484.8 1371.5,486.2 1376.8,486.9 1380.5,487.7 1383.2,488.6 1385.3,489.6 1386.9,490.9 1388,492.5 1388.6,494.5 1388.8,497.3 1388.8,528.9 1387.7,537.7 1386.3,546.6 1385.4,549.3 1384.3,551.2 1382.8,552.5 1380.9,553.6 1378.5,554.3 1375.6,554.7 1371.8,554.9 1366.5,554.8 1349.5,553.5 1332.5,552.1 1327.2,551.4 1323.5,550.6 1320.8,549.7 1318.7,548.7 1317.1,547.4 1316,545.8 1315.4,543.8 1315.2,541" fill="url(#gBrown)" stroke="#3d2330" stroke-width="0.9" stroke-opacity="0.55"/><polygon points="1312.9,504.4 1314,495 1315.5,485.6 1316.4,482.7 1317.7,480.7 1319.3,479.2 1321.3,478.1 1323.8,477.4 1326.9,476.9 1330.9,476.7 1336.6,476.9 1354.7,478.2 1372.8,479.7 1378.4,480.5 1382.3,481.3 1385.2,482.2 1387.4,483.4 1389.1,484.8 1390.2,486.4 1390.9,488.6 1391.1,491.6 1391.1,500.6 1390,510 1388.5,519.4 1387.6,522.3 1386.3,524.3 1384.7,525.8 1382.7,526.9 1380.2,527.6 1377.1,528.1 1373.1,528.3 1367.4,528.1 1349.3,526.8 1331.2,525.3 1325.6,524.5 1321.7,523.7 1318.8,522.8 1316.6,521.6 1314.9,520.2 1313.8,518.6 1313.1,516.4 1312.9,513.4" fill="url(#gTealS)" /><polygon points="1390,501 1388.5,510.4 1387.6,513.3 1386.3,515.3 1384.7,516.8 1382.7,517.8 1380.2,518.6 1377.1,519.1 1373.1,519.3 1367.4,519.1 1349.3,517.8 1331.2,516.3 1325.6,515.5 1321.7,514.7 1318.8,513.8 1316.6,512.6 1314.9,511.3 1313.7,509.6 1313.1,507.4 1312.9,504.4 1314,495 1315.5,485.6 1316.4,482.7 1317.7,480.7 1319.3,479.2 1321.3,478.2 1323.8,477.4 1326.9,476.9 1330.9,476.7 1336.6,476.9 1354.7,478.2 1372.8,479.7 1378.4,480.5 1382.3,481.3 1385.2,482.2 1387.4,483.4 1389.1,484.7 1390.3,486.4 1390.9,488.6 1391.1,491.6" fill="url(#gTealT)" /><polygon points="1375.6,499.9 1374.2,509.1 1373.4,512 1372.6,513.9 1371.5,515.4 1370.2,516.5 1368.6,517.3 1366.7,517.9 1364.1,518.2 1360.6,518.2 1349.4,517.4 1338.1,516.4 1334.7,515.9 1332.3,515.2 1330.5,514.3 1329.2,513.3 1328.2,512 1327.6,510.4 1327.3,508.3 1327.3,505.4 1328.4,496.1 1329.8,486.9 1330.6,484 1331.4,482.1 1332.5,480.6 1333.8,479.5 1335.4,478.7 1337.3,478.1 1339.9,477.8 1343.4,477.8 1354.6,478.6 1365.9,479.6 1369.3,480.1 1371.7,480.8 1373.5,481.7 1374.8,482.7 1375.8,484 1376.4,485.6 1376.7,487.7 1376.7,490.6" fill="#8fe4df" opacity="0.28"/><ellipse cx="1352" cy="491" rx="12" ry="10.5" fill="#2f3440"/><ellipse cx="1353" cy="489" rx="7" ry="6" fill="#c9ccd6"/><ellipse cx="1354" cy="488" rx="3.5" ry="3" fill="#ffffff"/><line x1="1362" y1="542" x2="1376" y2="566" stroke="#c9bcc6" stroke-width="9.4" stroke-linecap="round"/><line x1="1362" y1="542" x2="1376" y2="566" stroke="#f1ebf0" stroke-width="7" stroke-linecap="round"/><polygon points="955.3,670.4 955.7,667.3 956.7,665.2 958.2,663.5 960.2,662.2 963,661.2 966.5,660.4 971.1,659.8 977.8,659.3 999.3,658.8 1020.8,658.4 1027.5,658.6 1032.3,659 1035.9,659.7 1038.8,660.6 1041.1,661.8 1042.8,663.4 1044.2,665.5 1045.1,668.5 1046.1,678.1 1046.7,687.8 1046.3,690.9 1045.3,693 1043.8,694.6 1041.8,696 1039,697 1035.5,697.8 1030.9,698.4 1024.2,698.8 1002.7,699.4 981.2,699.7 974.5,699.6 969.7,699.2 966.1,698.5 963.2,697.6 960.9,696.4 959.1,694.8 957.8,692.7 956.9,689.7 955.9,680" fill="#8a8a96" opacity="0.28" filter="url(#blur3)"/><polygon points="952.3,636.7 952.7,633.6 953.7,631.5 955.2,629.9 957.2,628.5 960,627.5 963.5,626.7 968.1,626.1 974.8,625.6 996.3,625.1 1017.8,624.8 1024.5,624.9 1029.3,625.3 1032.9,626 1035.8,626.9 1038.1,628.1 1039.8,629.7 1041.2,631.8 1042.1,634.8 1043.1,644.5 1043.7,654.1 1043.7,684.8 1043.3,687.9 1042.3,690 1040.8,691.6 1038.8,693 1036,694 1032.5,694.8 1027.9,695.4 1021.2,695.8 999.7,696.4 978.2,696.7 971.5,696.6 966.7,696.2 963.1,695.5 960.2,694.6 957.9,693.4 956.1,691.8 954.8,689.7 953.9,686.7 952.9,677 952.3,667.4" fill="url(#gBrown)" stroke="#3d2330" stroke-width="0.9" stroke-opacity="0.55"/><polygon points="949.4,630.7 949.8,627.5 950.9,625.2 952.5,623.5 954.6,622.1 957.5,621 961.3,620.1 966.2,619.5 973.4,619 996.2,618.4 1019.1,618 1026.2,618.2 1031.3,618.6 1035.2,619.4 1038.2,620.3 1040.6,621.6 1042.5,623.3 1043.9,625.5 1044.9,628.7 1046,639 1046.6,649.3 1046.6,658.3 1046.2,661.5 1045.2,663.8 1043.5,665.5 1041.3,666.9 1038.5,668 1034.7,668.9 1029.8,669.5 1022.6,670 999.8,670.6 976.9,671 969.8,670.8 964.7,670.4 960.9,669.6 957.8,668.7 955.4,667.4 953.5,665.7 952.1,663.5 951.1,660.3 950,650 949.4,639.7" fill="url(#gTealS)" /><polygon points="1046,639 1046.6,649.3 1046.2,652.5 1045.1,654.8 1043.6,656.5 1041.4,657.9 1038.5,659 1034.7,659.9 1029.8,660.5 1022.6,661 999.8,661.6 976.9,662 969.8,661.8 964.7,661.4 960.8,660.7 957.8,659.7 955.4,658.4 953.5,656.7 952.1,654.5 951.1,651.3 950,641 949.4,630.7 949.8,627.5 950.9,625.2 952.4,623.5 954.6,622.1 957.5,621 961.3,620.1 966.2,619.5 973.4,619 996.2,618.4 1019.1,618 1026.2,618.2 1031.3,618.6 1035.2,619.3 1038.2,620.3 1040.6,621.6 1042.5,623.3 1043.9,625.5 1044.9,628.7" fill="url(#gTealT)" /><polygon points="1027.8,639.4 1028.5,649.5 1028.3,652.6 1027.7,654.8 1026.8,656.5 1025.4,657.9 1023.7,658.9 1021.4,659.8 1018.3,660.4 1013.9,660.8 999.8,661.2 985.6,661.4 981.1,661.1 978,660.7 975.6,659.9 973.6,659 972.1,657.7 970.9,656 969.9,653.8 969.2,650.7 968.2,640.6 967.5,630.5 967.7,627.4 968.3,625.2 969.2,623.5 970.6,622.1 972.3,621.1 974.6,620.2 977.7,619.6 982.1,619.2 996.2,618.8 1010.4,618.6 1014.9,618.9 1018,619.3 1020.4,620.1 1022.4,621 1023.9,622.3 1025.1,624 1026.1,626.2 1026.8,629.3" fill="#8fe4df" opacity="0.28"/><ellipse cx="997" cy="628" rx="16.5" ry="10.5" fill="#7d3aa0"/><ellipse cx="997" cy="626" rx="15.5" ry="9.5" fill="#a660c6"/><polygon points="1133.9,684.8 1134.7,682.2 1136.4,680.4 1139,679.1 1142.7,678 1147.5,677.1 1153.8,676.5 1162.2,675.9 1174.8,675.4 1224.5,674.3 1274.1,673.4 1286.8,673.3 1295.4,673.6 1301.8,674 1306.8,674.7 1310.7,675.6 1313.7,676.8 1315.9,678.5 1317.4,681 1319.1,691 1320.1,701.1 1319.3,703.6 1317.6,705.4 1315,706.8 1311.3,707.8 1306.5,708.7 1300.2,709.4 1291.8,710 1279.2,710.4 1229.5,711.5 1179.9,712.5 1167.2,712.5 1158.6,712.3 1152.2,711.8 1147.2,711.2 1143.3,710.3 1140.3,709 1138.1,707.4 1136.6,704.8 1134.9,694.8" fill="#8a8a96" opacity="0.28" filter="url(#blur3)"/><polygon points="1130.9,627.7 1131.7,625.1 1133.4,623.4 1136,622 1139.7,620.9 1144.5,620.1 1150.8,619.4 1159.2,618.8 1171.8,618.3 1221.5,617.2 1271.1,616.3 1283.8,616.3 1292.4,616.5 1298.8,616.9 1303.8,617.6 1307.7,618.5 1310.7,619.7 1312.9,621.4 1314.4,624 1316.1,634 1317.1,644 1317.1,698.1 1316.3,700.6 1314.6,702.4 1312,703.8 1308.3,704.8 1303.5,705.7 1297.2,706.4 1288.8,707 1276.2,707.4 1226.5,708.5 1176.9,709.5 1164.2,709.5 1155.6,709.3 1149.2,708.8 1144.2,708.2 1140.3,707.3 1137.3,706 1135.1,704.4 1133.6,701.8 1131.9,691.8 1130.9,681.8" fill="url(#gBrown)" stroke="#3d2330" stroke-width="0.9" stroke-opacity="0.55"/><polygon points="1125,621.3 1125.8,618.6 1127.6,616.7 1130.4,615.3 1134.3,614.1 1139.4,613.2 1146.1,612.5 1155.1,611.9 1168.5,611.4 1221.3,610.2 1274.1,609.2 1287.6,609.2 1296.7,609.4 1303.6,609.9 1308.9,610.6 1313,611.5 1316.2,612.9 1318.5,614.6 1320.1,617.3 1322,628 1323,638.7 1323,648.4 1322.2,651.2 1320.4,653 1317.6,654.5 1313.7,655.6 1308.6,656.5 1301.9,657.3 1292.9,657.9 1279.5,658.4 1226.7,659.5 1173.9,660.5 1160.4,660.6 1151.3,660.3 1144.4,659.9 1139.1,659.2 1135,658.2 1131.8,656.9 1129.5,655.1 1127.9,652.4 1126,641.8 1125,631.1" fill="url(#gPurS)" /><polygon points="1322,628 1323.1,638.7 1322.2,641.4 1320.4,643.3 1317.6,644.7 1313.7,645.9 1308.6,646.8 1301.9,647.5 1292.9,648.1 1279.5,648.6 1226.7,649.8 1173.9,650.8 1160.4,650.8 1151.3,650.6 1144.4,650.1 1139.1,649.4 1134.9,648.4 1131.8,647.1 1129.5,645.4 1127.9,642.7 1126,632 1124.9,621.3 1125.8,618.6 1127.6,616.7 1130.4,615.3 1134.3,614.1 1139.4,613.2 1146.1,612.5 1155.1,611.9 1168.5,611.4 1221.3,610.2 1274.1,609.2 1287.6,609.2 1296.7,609.4 1303.6,609.9 1308.9,610.6 1313.1,611.6 1316.2,612.9 1318.5,614.6 1320.1,617.3" fill="url(#gPurT)" /><polygon points="1284.8,628.8 1285.9,639.2 1285.5,641.9 1284.5,643.7 1282.8,645.1 1280.5,646.2 1277.4,647 1273.2,647.7 1267.7,648.2 1259.4,648.7 1226.6,649.4 1193.9,650 1185.5,649.9 1179.8,649.6 1175.6,649.1 1172.2,648.4 1169.6,647.4 1167.6,646.1 1166,644.3 1164.9,641.7 1163.2,631.2 1162.1,620.8 1162.5,618.1 1163.5,616.3 1165.2,614.9 1167.5,613.8 1170.6,613 1174.8,612.3 1180.3,611.8 1188.6,611.3 1221.4,610.6 1254.1,610 1262.5,610.1 1268.2,610.4 1272.4,610.9 1275.8,611.6 1278.4,612.6 1280.4,613.9 1282,615.7 1283.1,618.3" fill="#cfa0e4" opacity="0.28"/><text x="1196" y="643" font-family="Liberation Sans,sans-serif" font-size="8.6" font-weight="bold" fill="#f3e6fa" textLength="74" lengthAdjust="spacingAndGlyphs" transform="rotate(-1.5 1233 641)">POWER SUPPLY</text><path d="M1228,606 L1215,617 L1222,617 L1217,626 L1232,613 L1225,613 Z" fill="#f5ecfa"/><text x="1140" y="630" font-family="Liberation Sans,sans-serif" font-size="12" font-weight="bold" fill="#f3e6fa">+</text><rect x="1297" y="617" width="10" height="2.2" fill="#f3e6fa"/><line x1="1322" y1="654" x2="1366" y2="646" stroke="#c9bcc6" stroke-width="10.4" stroke-linecap="round"/><line x1="1322" y1="654" x2="1366" y2="646" stroke="#f1ebf0" stroke-width="8" stroke-linecap="round"/><polygon points="1347.4,631.6 1347.8,628.7 1348.8,626.6 1350.3,625 1352.4,623.7 1355.2,622.6 1358.8,621.8 1363.5,621.1 1370.4,620.5 1392.3,619.5 1414.2,618.7 1421.1,618.8 1426,619 1429.7,619.6 1432.6,620.4 1435,621.5 1436.8,623 1438.1,625 1439,627.9 1440.1,637.1 1440.6,646.4 1440.2,649.3 1439.2,651.4 1437.7,653 1435.6,654.3 1432.8,655.4 1429.2,656.2 1424.5,656.9 1417.6,657.5 1395.7,658.5 1373.8,659.3 1366.9,659.2 1362,659 1358.3,658.4 1355.4,657.6 1353,656.5 1351.2,655 1349.9,653 1349,650.1 1347.9,640.9" fill="#8a8a96" opacity="0.28" filter="url(#blur3)"/><polygon points="1344.4,597.1 1344.8,594.2 1345.8,592.1 1347.3,590.5 1349.4,589.2 1352.2,588.1 1355.8,587.3 1360.5,586.6 1367.4,586 1389.3,585 1411.2,584.2 1418.1,584.2 1423,584.5 1426.7,585.1 1429.6,585.9 1432,587 1433.8,588.5 1435.1,590.5 1436,593.4 1437.1,602.6 1437.6,611.9 1437.6,643.4 1437.2,646.3 1436.2,648.4 1434.7,650 1432.6,651.3 1429.8,652.4 1426.2,653.2 1421.5,653.9 1414.6,654.5 1392.7,655.5 1370.8,656.3 1363.9,656.2 1359,656 1355.3,655.4 1352.4,654.6 1350,653.5 1348.2,652 1346.9,650 1346,647.1 1344.9,637.9 1344.4,628.6" fill="url(#gBrown)" stroke="#3d2330" stroke-width="0.9" stroke-opacity="0.55"/><polygon points="1341.4,592.1 1341.8,589 1342.9,586.8 1344.5,585.1 1346.8,583.7 1349.7,582.6 1353.5,581.7 1358.6,581 1365.9,580.4 1389.2,579.3 1412.5,578.5 1419.9,578.5 1425,578.8 1429,579.4 1432.1,580.2 1434.6,581.4 1436.5,583 1437.9,585.1 1438.9,588.1 1440,598 1440.6,607.9 1440.6,615.4 1440.2,618.5 1439.1,620.7 1437.5,622.4 1435.2,623.8 1432.3,624.9 1428.5,625.8 1423.4,626.5 1416.1,627.1 1392.8,628.2 1369.5,629 1362.1,629 1357,628.7 1353,628.1 1349.9,627.3 1347.4,626.1 1345.5,624.5 1344.1,622.4 1343.1,619.4 1342,609.5 1341.4,599.6" fill="url(#gTealS)" /><polygon points="1440,598 1440.6,607.9 1440.2,611 1439.1,613.2 1437.5,614.9 1435.2,616.3 1432.3,617.4 1428.4,618.3 1423.4,619 1416.1,619.6 1392.8,620.7 1369.5,621.5 1362.1,621.5 1357,621.2 1353,620.6 1349.9,619.8 1347.4,618.6 1345.5,617 1344.1,614.9 1343.1,611.8 1342,602 1341.4,592.1 1341.8,589 1342.9,586.8 1344.5,585.1 1346.8,583.7 1349.7,582.6 1353.6,581.7 1358.6,581 1365.9,580.4 1389.2,579.3 1412.5,578.5 1419.9,578.5 1425,578.8 1429,579.4 1432.1,580.2 1434.6,581.4 1436.5,583 1437.9,585.1 1438.9,588.2" fill="url(#gTealT)" /><polygon points="1421.4,598.8 1422.1,608.4 1421.9,611.5 1421.3,613.6 1420.3,615.3 1419,616.6 1417.2,617.6 1414.8,618.5 1411.7,619.1 1407.2,619.6 1392.8,620.3 1378.3,620.8 1373.7,620.7 1370.5,620.3 1368.1,619.6 1366.1,618.7 1364.5,617.5 1363.3,616 1362.3,613.9 1361.6,610.9 1360.6,601.2 1359.9,591.6 1360.1,588.5 1360.7,586.4 1361.7,584.7 1363,583.4 1364.8,582.4 1367.2,581.5 1370.3,580.9 1374.8,580.4 1389.2,579.7 1403.7,579.2 1408.3,579.3 1411.5,579.7 1413.9,580.4 1415.9,581.3 1417.5,582.5 1418.7,584 1419.7,586.1 1420.4,589.1" fill="#8fe4df" opacity="0.28"/><polygon points="1372,584 1402,582 1406,594 1374,597" fill="#2fa9a8"/><polygon points="1377,586 1398,585 1400,592 1379,594" fill="#7b2a9a"/><text x="1382" y="616" font-family="DejaVu Sans,sans-serif" font-size="9" font-weight="bold" fill="#e6fbfa">← →</text><path d="M954,426 C956,401.2 958.3,396.8 958.3,381 L955.2,315.6 L952.9,270.7 L970.1,270.7 L972.2,315.6 L975.3,381 C975.3,396.8 982,401.2 984,426 Z" fill="url(#gLampStem)"/><g transform="rotate(1 960.5 250)"><path d="M943.2,184.2 A17.2,17.2 0 0 1 977.8,184.2 L977.8,234.5 C977.8,253.4 969.1,255.2 969.1,271.7 L951.9,271.7 C951.9,255.2 943.2,253.4 943.2,234.5 Z" fill="#ecd6f6" opacity="0.6" filter="url(#blur3)" transform="translate(0 -2)"/><path d="M943.2,184.2 A17.2,17.2 0 0 1 977.8,184.2 L977.8,234.5 C977.8,253.4 969.1,255.2 969.1,271.7 L951.9,271.7 C951.9,255.2 943.2,253.4 943.2,234.5 Z" fill="url(#gLampHead)"/><path d="M943.2,184.2 A17.2,17.2 0 0 1 977.8,184.2 L977.8,234.5 C977.8,253.4 969.1,255.2 969.1,271.7 L951.9,271.7 C951.9,255.2 943.2,253.4 943.2,234.5 Z" fill="url(#gLampHeadX)"/><rect x="946" y="176.3" width="25.5" height="62.3" rx="12.8" fill="#ffffff" filter="url(#blur1)"/></g><g transform="rotate(-3 1282 268)"><ellipse cx="1272" cy="277" rx="79" ry="54" fill="#ffd84f" opacity="0.62" filter="url(#blur8)"/><ellipse cx="1282" cy="268" rx="68.4" ry="42.8" fill="#ffd672" opacity="0.92"/><ellipse cx="1252.4" cy="250.9" rx="21.1" ry="9.9" fill="#fff6d8" opacity="0.75" filter="url(#blur3)"/><ellipse cx="1317.2" cy="265.8" rx="18.3" ry="13.5" fill="#fff6d8" opacity="0.75" filter="url(#blur3)"/><ellipse cx="1271.4" cy="290.5" rx="24" ry="9" fill="#fff6d8" opacity="0.6" filter="url(#blur3)"/><line x1="1282" y1="268" x2="1217.2" y2="267.4" stroke="#f8b040" stroke-width="11.7" opacity="0.85"/><line x1="1282" y1="268" x2="1316.4" y2="231.7" stroke="#f8b040" stroke-width="11.7" opacity="0.85"/><line x1="1282" y1="268" x2="1325.4" y2="296.1" stroke="#f8b040" stroke-width="11.7" opacity="0.85"/><path fill-rule="evenodd" fill="url(#gDisc)" d="M1211.5,268 a70.5,45 0 1 0 141,0 a70.5,45 0 1 0 -141,0 Z M1217.5,264.5 a64.5,37 0 1 0 129,0 a64.5,37 0 1 0 -129,0 Z"/><ellipse cx="1284" cy="274" rx="25.4" ry="15.3" fill="#ee8a1e"/><ellipse cx="1284" cy="268" rx="25.4" ry="15.3" fill="#f7a83a"/></g></svg>
<svg x="67" y="856" width="713" height="633" viewBox="67 856 713 633"><pattern id="st3" width="10" height="10" patternUnits="userSpaceOnUse" patternTransform="matrix(1.1832 0.1993 -0.3020 0.6458 220.7 1128.7)"><rect width="10" height="10" fill="#e9e9ed"/><rect x="1.3" y="3.6" width="7.8" height="6.2" rx="3.6" fill="#babac6"/><ellipse cx="5" cy="3.9" rx="3.9" ry="3.5" fill="#f8f8fa"/></pattern><polygon points="80.4,1306 220.7,1128.7 745,1195 745,1202 692,1438 80.4,1313" fill="#dedee4" /><polygon points="80.4,1306 220.7,1128.7 745,1195 745,1202 692,1438 80.4,1313" fill="none" stroke="#bdbdc6" stroke-width="0.8"/><polygon points="220.7,1128.7 745,1195 692,1431 80.4,1306" fill="url(#st3)" /><linearGradient id="st3f" gradientUnits="userSpaceOnUse" x1="230" y1="1120" x2="420" y2="1330"><stop offset="0" stop-color="#fff" stop-opacity="0.8"/><stop offset="1" stop-color="#fff" stop-opacity="0"/></linearGradient><polygon points="220.7,1128.7 745,1195 692,1431 80.4,1306" fill="url(#st3f)" /><polygon points="220.7,1128.7 745,1195 692,1431 80.4,1306" fill="none" stroke="#f4f4f6" stroke-width="2"/><rect x="541" y="1166" width="46" height="16" fill="#a9a9b2" transform="rotate(6 541 1166)"/><rect x="541" y="1166" width="46" height="7.2" fill="#c9c9d0" transform="rotate(6 541 1166)"/><rect x="256" y="1331" width="50" height="20" fill="#a9a9b2" transform="rotate(8 256 1331)"/><rect x="256" y="1331" width="50" height="9.0" fill="#c9c9d0" transform="rotate(8 256 1331)"/><rect x="458" y="1366" width="52" height="18" fill="#a9a9b2" transform="rotate(10 458 1366)"/><rect x="458" y="1366" width="52" height="8.1" fill="#c9c9d0" transform="rotate(10 458 1366)"/><rect x="384" y="1166" width="30" height="10" fill="#a9a9b2" transform="rotate(6 384 1166)"/><rect x="384" y="1166" width="30" height="4.5" fill="#c9c9d0" transform="rotate(6 384 1166)"/><path d="M150,1217 L718,1313 M410,1152 L382,1362" stroke="#c8c8d0" stroke-width="1.6" fill="none" opacity="0.8"/><g transform="rotate(-4 512.5 1017.5)"><ellipse cx="502.5" cy="1026.5" rx="77.3" ry="50.4" fill="#ffd84f" opacity="0.62" filter="url(#blur8)"/><ellipse cx="512.5" cy="1017.5" rx="66.9" ry="39.9" fill="#ffd672" opacity="0.92"/><ellipse cx="483.5" cy="1001.5" rx="20.7" ry="9.2" fill="#fff6d8" opacity="0.75" filter="url(#blur3)"/><ellipse cx="547" cy="1015.4" rx="17.9" ry="12.6" fill="#fff6d8" opacity="0.75" filter="url(#blur3)"/><ellipse cx="502.1" cy="1038.5" rx="23.5" ry="8.4" fill="#fff6d8" opacity="0.6" filter="url(#blur3)"/><line x1="512.5" y1="1017.5" x2="449.1" y2="1016.8" stroke="#f8b040" stroke-width="10.9" opacity="0.85"/><line x1="512.5" y1="1017.5" x2="546.1" y2="983.4" stroke="#f8b040" stroke-width="10.9" opacity="0.85"/><line x1="512.5" y1="1017.5" x2="555" y2="1043.6" stroke="#f8b040" stroke-width="10.9" opacity="0.85"/><path fill-rule="evenodd" fill="url(#gDisc)" d="M443.5,1017.5 a69,42 0 1 0 138,0 a69,42 0 1 0 -138,0 Z M449.5,1014 a63,34 0 1 0 126,0 a63,34 0 1 0 -126,0 Z"/><ellipse cx="514.5" cy="1023.5" rx="24.8" ry="14.3" fill="#ee8a1e"/><ellipse cx="514.5" cy="1017.5" rx="24.8" ry="14.3" fill="#f7a83a"/></g><path d="M262,1146 C240,1144 224,1152 214,1166" fill="none" stroke="#cdbfca" stroke-width="4.6" stroke-linecap="round" stroke-linejoin="round"/><path d="M262,1146 C240,1144 224,1152 214,1166" fill="none" stroke="#f4eff3" stroke-width="2.4" stroke-linecap="round" stroke-linejoin="round"/><path d="M352,1166 C380,1168 410,1168 436,1166" fill="none" stroke="#cdbfca" stroke-width="4.6" stroke-linecap="round" stroke-linejoin="round"/><path d="M352,1166 C380,1168 410,1168 436,1166" fill="none" stroke="#f4eff3" stroke-width="2.4" stroke-linecap="round" stroke-linejoin="round"/><line x1="352" y1="1163" x2="384" y2="1166" stroke="#c9bcc6" stroke-width="8.4" stroke-linecap="round"/><line x1="352" y1="1163" x2="384" y2="1166" stroke="#f1ebf0" stroke-width="6" stroke-linecap="round"/><path d="M505,1166 C540,1170 600,1172 630,1180" fill="none" stroke="#cdbfca" stroke-width="4.6" stroke-linecap="round" stroke-linejoin="round"/><path d="M505,1166 C540,1170 600,1172 630,1180" fill="none" stroke="#f4eff3" stroke-width="2.4" stroke-linecap="round" stroke-linejoin="round"/><line x1="505" y1="1163" x2="540" y2="1168" stroke="#c9bcc6" stroke-width="8.4" stroke-linecap="round"/><line x1="505" y1="1163" x2="540" y2="1168" stroke="#f1ebf0" stroke-width="6" stroke-linecap="round"/><path d="M712,1190 C740,1192 768,1196 770,1215 C772,1240 740,1250 730,1256" fill="none" stroke="#cdbfca" stroke-width="4.6" stroke-linecap="round" stroke-linejoin="round"/><path d="M712,1190 C740,1192 768,1196 770,1215 C772,1240 740,1250 730,1256" fill="none" stroke="#f4eff3" stroke-width="2.4" stroke-linecap="round" stroke-linejoin="round"/><line x1="712" y1="1188" x2="742" y2="1191" stroke="#c9bcc6" stroke-width="8.4" stroke-linecap="round"/><line x1="712" y1="1188" x2="742" y2="1191" stroke="#f1ebf0" stroke-width="6" stroke-linecap="round"/><path d="M392,1196 C420,1198 440,1196 452,1186 C462,1176 458,1200 470,1230 C480,1250 470,1270 450,1280" fill="none" stroke="#cdbfca" stroke-width="4.6" stroke-linecap="round" stroke-linejoin="round"/><path d="M392,1196 C420,1198 440,1196 452,1186 C462,1176 458,1200 470,1230 C480,1250 470,1270 450,1280" fill="none" stroke="#f4eff3" stroke-width="2.4" stroke-linecap="round" stroke-linejoin="round"/><line x1="392" y1="1193" x2="420" y2="1197" stroke="#c9bcc6" stroke-width="8.4" stroke-linecap="round"/><line x1="392" y1="1193" x2="420" y2="1197" stroke="#f1ebf0" stroke-width="6" stroke-linecap="round"/><path d="M245,1225 C215,1226 205,1250 212,1270 C222,1300 260,1310 290,1300" fill="none" stroke="#cdbfca" stroke-width="4.6" stroke-linecap="round" stroke-linejoin="round"/><path d="M245,1225 C215,1226 205,1250 212,1270 C222,1300 260,1310 290,1300" fill="none" stroke="#f4eff3" stroke-width="2.4" stroke-linecap="round" stroke-linejoin="round"/><path d="M200,1290 C230,1280 236,1260 250,1250" fill="none" stroke="#cdbfca" stroke-width="4.6" stroke-linecap="round" stroke-linejoin="round"/><path d="M200,1290 C230,1280 236,1260 250,1250" fill="none" stroke="#f4eff3" stroke-width="2.4" stroke-linecap="round" stroke-linejoin="round"/><path d="M335,1262 C380,1250 420,1262 450,1252" fill="none" stroke="#cdbfca" stroke-width="4.6" stroke-linecap="round" stroke-linejoin="round"/><path d="M335,1262 C380,1250 420,1262 450,1252" fill="none" stroke="#f4eff3" stroke-width="2.4" stroke-linecap="round" stroke-linejoin="round"/><path d="M598,1238 C640,1240 650,1236 660,1240" fill="none" stroke="#cdbfca" stroke-width="4.6" stroke-linecap="round" stroke-linejoin="round"/><path d="M598,1238 C640,1240 650,1236 660,1240" fill="none" stroke="#f4eff3" stroke-width="2.4" stroke-linecap="round" stroke-linejoin="round"/><line x1="598" y1="1236" x2="632" y2="1239" stroke="#c9bcc6" stroke-width="8.4" stroke-linecap="round"/><line x1="598" y1="1236" x2="632" y2="1239" stroke="#f1ebf0" stroke-width="6" stroke-linecap="round"/><path d="M546,1288 C580,1290 610,1284 640,1300" fill="none" stroke="#cdbfca" stroke-width="4.6" stroke-linecap="round" stroke-linejoin="round"/><path d="M546,1288 C580,1290 610,1284 640,1300" fill="none" stroke="#f4eff3" stroke-width="2.4" stroke-linecap="round" stroke-linejoin="round"/><line x1="546" y1="1285" x2="580" y2="1289" stroke="#c9bcc6" stroke-width="8.4" stroke-linecap="round"/><line x1="546" y1="1285" x2="580" y2="1289" stroke="#f1ebf0" stroke-width="6" stroke-linecap="round"/><path d="M460,1340 C440,1380 500,1400 560,1380 C600,1366 600,1330 580,1300" fill="none" stroke="#cdbfca" stroke-width="4.6" stroke-linecap="round" stroke-linejoin="round"/><path d="M460,1340 C440,1380 500,1400 560,1380 C600,1366 600,1330 580,1300" fill="none" stroke="#f4eff3" stroke-width="2.4" stroke-linecap="round" stroke-linejoin="round"/><path d="M665,1390 C660,1410 640,1420 610,1416" fill="none" stroke="#cdbfca" stroke-width="5.0" stroke-linecap="round" stroke-linejoin="round"/><path d="M665,1390 C660,1410 640,1420 610,1416" fill="none" stroke="#f4eff3" stroke-width="2.8" stroke-linecap="round" stroke-linejoin="round"/><path d="M635,1268 C650,1290 668,1300 676,1306" fill="none" stroke="#cdbfca" stroke-width="4.6" stroke-linecap="round" stroke-linejoin="round"/><path d="M635,1268 C650,1290 668,1300 676,1306" fill="none" stroke="#f4eff3" stroke-width="2.4" stroke-linecap="round" stroke-linejoin="round"/><path d="M300,1345 C320,1340 330,1322 318,1312" fill="none" stroke="#cdbfca" stroke-width="4.6" stroke-linecap="round" stroke-linejoin="round"/><path d="M300,1345 C320,1340 330,1322 318,1312" fill="none" stroke="#f4eff3" stroke-width="2.4" stroke-linecap="round" stroke-linejoin="round"/><g transform="translate(262 1117) scale(1.0)"><polygon points="0,25.5 30,2 90,2 90,23 65,63 1,53" fill="#e2571f"/><polygon points="0,25.5 65,33 65,63 1,53" fill="#f2672b"/><polygon points="0,25.5 30,2 90,2 65,33" fill="#ff8448"/><line x1="24" y1="14" x2="74" y2="-12" stroke="#f26428" stroke-width="23" stroke-linecap="round"/><line x1="24" y1="11" x2="74" y2="-15" stroke="#ff8a50" stroke-width="10" stroke-linecap="round" opacity="0.7"/><polygon points="46,-46 83,-37 75,-20 55,-22" fill="#f26428"/><ellipse cx="64.5" cy="-42" rx="19" ry="6" fill="#ff8a50" transform="rotate(13 64.5 -42)"/><rect x="55" y="-24" width="20" height="18" fill="#ee5f24"/></g><circle cx="321" cy="1018" r="26.5" fill="url(#gBall)"/><polygon points="440,1188.5 441,1183.2 442.4,1178 443.3,1176.4 444.3,1175.3 445.7,1174.5 447.4,1173.9 449.5,1173.5 452.1,1173.3 455.5,1173.2 460.3,1173.3 475.5,1174.1 490.7,1175.1 495.5,1175.5 498.7,1176 501.2,1176.5 503,1177.2 504.4,1178 505.4,1178.9 505.9,1180.1 506,1181.8 505,1187 503.6,1192.2 502.7,1193.8 501.7,1195 500.3,1195.8 498.6,1196.3 496.5,1196.8 493.9,1197 490.5,1197.1 485.7,1197 470.5,1196.1 455.3,1195.2 450.5,1194.7 447.3,1194.3 444.8,1193.7 443,1193.1 441.6,1192.3 440.6,1191.4 440.1,1190.2" fill="#8a8a96" opacity="0.28" filter="url(#blur3)"/><polygon points="437,1148 438,1142.7 439.4,1137.5 440.3,1135.9 441.3,1134.8 442.7,1134 444.4,1133.4 446.5,1133 449.1,1132.7 452.5,1132.7 457.3,1132.8 472.5,1133.6 487.7,1134.5 492.5,1135 495.7,1135.5 498.2,1136 500,1136.7 501.4,1137.4 502.4,1138.4 502.9,1139.6 503,1141.2 503,1178.8 502,1184 500.6,1189.2 499.7,1190.8 498.7,1192 497.3,1192.8 495.6,1193.3 493.5,1193.8 490.9,1194 487.5,1194.1 482.7,1194 467.5,1193.1 452.3,1192.2 447.5,1191.7 444.3,1191.3 441.8,1190.7 440,1190.1 438.6,1189.3 437.6,1188.4 437.1,1187.2 437,1185.5" fill="url(#gOrS)" stroke="#3d2330" stroke-width="0.9" stroke-opacity="0.55"/><polygon points="434.9,1144.6 436,1139 437.4,1133.4 438.4,1131.7 439.5,1130.6 440.9,1129.7 442.8,1129.1 445,1128.6 447.8,1128.4 451.4,1128.3 456.5,1128.4 472.7,1129.3 488.9,1130.3 493.9,1130.8 497.4,1131.3 500,1131.9 501.9,1132.6 503.4,1133.4 504.4,1134.4 505,1135.7 505.1,1137.4 505.1,1143.4 504,1149 502.6,1154.6 501.6,1156.3 500.5,1157.4 499.1,1158.3 497.2,1158.9 495,1159.4 492.2,1159.6 488.6,1159.7 483.5,1159.6 467.3,1158.7 451.1,1157.7 446.1,1157.2 442.6,1156.7 440,1156.1 438.1,1155.4 436.6,1154.6 435.6,1153.6 435,1152.3 434.9,1150.6" fill="url(#gOrS)" /><polygon points="504,1143 502.5,1148.6 501.6,1150.3 500.5,1151.4 499.1,1152.3 497.2,1152.9 495,1153.4 492.2,1153.6 488.6,1153.7 483.5,1153.6 467.3,1152.7 451.1,1151.7 446.1,1151.2 442.6,1150.7 440,1150.1 438.1,1149.4 436.6,1148.6 435.6,1147.6 435,1146.4 434.9,1144.6 436,1139 437.5,1133.4 438.4,1131.7 439.5,1130.6 440.9,1129.7 442.8,1129.1 445,1128.6 447.8,1128.4 451.4,1128.3 456.5,1128.4 472.7,1129.3 488.9,1130.3 493.9,1130.8 497.4,1131.3 500,1131.9 501.9,1132.6 503.4,1133.4 504.4,1134.4 505,1135.6 505.1,1137.4" fill="url(#gOrT)" /><polygon points="491.1,1142.2 489.7,1147.7 489,1149.4 488.2,1150.5 487.2,1151.4 486,1152.1 484.6,1152.5 482.8,1152.9 480.6,1153 477.4,1153 467.4,1152.5 457.3,1151.8 454.2,1151.5 452.1,1151 450.5,1150.5 449.3,1149.9 448.5,1149.1 447.9,1148.2 447.7,1147 447.8,1145.2 448.9,1139.8 450.3,1134.3 451,1132.6 451.8,1131.5 452.8,1130.6 454,1129.9 455.4,1129.5 457.2,1129.1 459.4,1129 462.6,1129 472.6,1129.5 482.7,1130.2 485.8,1130.5 487.9,1131 489.5,1131.5 490.7,1132.1 491.5,1132.9 492.1,1133.8 492.3,1135 492.2,1136.8" fill="#ff9a66" opacity="0.28"/><rect x="455" y="1092" width="36" height="48" rx="10" fill="url(#gOrT)"/><rect x="455" y="1088" width="36" height="22" rx="11" fill="#f7743a"/><rect x="461" y="1090" width="3" height="12" rx="1.5" fill="#c9481a"/><rect x="468" y="1090" width="3" height="12" rx="1.5" fill="#c9481a"/><rect x="475" y="1090" width="3" height="12" rx="1.5" fill="#c9481a"/><rect x="482" y="1090" width="3" height="12" rx="1.5" fill="#c9481a"/><line x1="440" y1="1185" x2="458" y2="1168" stroke="#c9bcc6" stroke-width="9.4" stroke-linecap="round"/><line x1="440" y1="1185" x2="458" y2="1168" stroke="#f1ebf0" stroke-width="7" stroke-linecap="round"/><polygon points="337,1207 337.4,1204.4 338.8,1201.9 340.9,1199.5 343.8,1197.4 347.4,1195.5 351.5,1194 356.1,1192.9 361,1192.2 366,1192 371,1192.2 375.9,1192.9 380.5,1194 384.6,1195.5 388.2,1197.4 391.1,1199.5 393.2,1201.9 394.6,1204.4 395,1207 394.6,1209.6 393.2,1212.1 391.1,1214.5 388.2,1216.6 384.6,1218.5 380.5,1220 375.9,1221.1 371,1221.8 366,1222 361,1221.8 356.1,1221.1 351.5,1220 347.4,1218.5 343.8,1216.6 340.9,1214.5 338.8,1212.1 337.4,1209.6" fill="#8a8a96" opacity="0.22" filter="url(#blur3)"/><polygon points="334,1182 334.4,1179.4 335.8,1176.9 337.9,1174.5 340.8,1172.4 344.4,1170.5 348.5,1169 353.1,1167.9 358,1167.2 363,1167 368,1167.2 372.9,1167.9 377.5,1169 381.6,1170.5 385.2,1172.4 388.1,1174.5 390.2,1176.9 391.6,1179.4 392,1182 392,1204 391.6,1206.6 390.2,1209.1 388.1,1211.5 385.2,1213.6 381.6,1215.5 377.5,1217 372.9,1218.1 368,1218.8 363,1219 358,1218.8 353.1,1218.1 348.5,1217 344.4,1215.5 340.8,1213.6 337.9,1211.5 335.8,1209.1 334.4,1206.6 334,1204" fill="url(#gOrS)" /><polygon points="392,1182 391.6,1184.6 390.3,1187.1 388.1,1189.5 385.2,1191.6 381.6,1193.5 377.5,1195 372.9,1196.1 368,1196.8 363,1197 358,1196.8 353.1,1196.1 348.5,1195 344.4,1193.5 340.8,1191.6 337.9,1189.5 335.7,1187.1 334.4,1184.6 334,1182 334.4,1179.4 335.7,1176.9 337.9,1174.5 340.8,1172.4 344.4,1170.5 348.5,1169 353.1,1167.9 358,1167.2 363,1167 368,1167.2 372.9,1167.9 377.5,1169 381.6,1170.5 385.2,1172.4 388.1,1174.5 390.3,1176.9 391.6,1179.4" fill="url(#gOrT)" /><ellipse cx="363" cy="1182" rx="24" ry="11.5" fill="#ff9a62"/><line x1="352" y1="1212" x2="358" y2="1196" stroke="#c9bcc6" stroke-width="8.4" stroke-linecap="round"/><line x1="352" y1="1212" x2="358" y2="1196" stroke="#f1ebf0" stroke-width="6" stroke-linecap="round"/><polygon points="631,1210 631.6,1206.7 633.6,1203.5 636.8,1200.5 641.1,1197.8 646.4,1195.5 652.5,1193.5 659.3,1192.2 666.5,1191.3 674,1191 681.5,1191.3 688.7,1192.2 695.5,1193.5 701.6,1195.5 706.9,1197.8 711.2,1200.5 714.4,1203.5 716.4,1206.7 717,1210 716.4,1213.3 714.4,1216.5 711.2,1219.5 706.9,1222.2 701.6,1224.5 695.5,1226.5 688.7,1227.8 681.5,1228.7 674,1229 666.5,1228.7 659.3,1227.8 652.5,1226.5 646.4,1224.5 641.1,1222.2 636.8,1219.5 633.6,1216.5 631.6,1213.3" fill="#8a8a96" opacity="0.22" filter="url(#blur3)"/><polygon points="628,1160 628.6,1156.7 630.6,1153.5 633.8,1150.5 638.1,1147.8 643.4,1145.5 649.5,1143.5 656.3,1142.2 663.5,1141.3 671,1141 678.5,1141.3 685.7,1142.2 692.5,1143.5 698.6,1145.5 703.9,1147.8 708.2,1150.5 711.4,1153.5 713.4,1156.7 714,1160 714,1207 713.4,1210.3 711.4,1213.5 708.2,1216.5 703.9,1219.2 698.6,1221.5 692.5,1223.5 685.7,1224.8 678.5,1225.7 671,1226 663.5,1225.7 656.3,1224.8 649.5,1223.5 643.4,1221.5 638.1,1219.2 633.8,1216.5 630.6,1213.5 628.6,1210.3 628,1207" fill="url(#gTealS)" /><polygon points="714,1160 713.3,1163.3 711.4,1166.5 708.2,1169.5 703.9,1172.2 698.6,1174.6 692.5,1176.5 685.7,1177.9 678.5,1178.7 671,1179 663.5,1178.7 656.3,1177.9 649.5,1176.5 643.4,1174.6 638.1,1172.2 633.8,1169.5 630.6,1166.5 628.7,1163.3 628,1160 628.7,1156.7 630.6,1153.5 633.8,1150.5 638.1,1147.8 643.4,1145.4 649.5,1143.5 656.3,1142.1 663.5,1141.3 671,1141 678.5,1141.3 685.7,1142.1 692.5,1143.5 698.6,1145.4 703.9,1147.8 708.2,1150.5 711.4,1153.5 713.3,1156.7" fill="url(#gTealT)" /><ellipse cx="671" cy="1160" rx="43" ry="19" fill="#8a5d67"/><ellipse cx="671" cy="1160" rx="36" ry="15.5" fill="#4fc9c5"/><ellipse cx="672" cy="1162" rx="7" ry="4" fill="#e8f7f6"/><path d="M668,1160 C664,1140 676,1138 690,1132 M672,1150 C690,1146 700,1140 706,1134" stroke="#ffffff" stroke-width="5" fill="none" opacity="0.85" filter="url(#blur1)"/><polygon points="244,1269 244.7,1264.8 246.7,1260.8 250,1257 254.5,1253.6 260.1,1250.6 266.5,1248.2 273.6,1246.5 281.2,1245.4 289,1245 296.8,1245.4 304.4,1246.5 311.5,1248.2 317.9,1250.6 323.5,1253.6 328,1257 331.3,1260.8 333.3,1264.8 334,1269 333.3,1273.2 331.3,1277.2 328,1281 323.5,1284.4 317.9,1287.4 311.5,1289.8 304.4,1291.5 296.8,1292.6 289,1293 281.2,1292.6 273.6,1291.5 266.5,1289.8 260.1,1287.4 254.5,1284.4 250,1281 246.7,1277.2 244.7,1273.2" fill="#8a8a96" opacity="0.22" filter="url(#blur3)"/><polygon points="241,1212 241.7,1207.8 243.7,1203.8 247,1200 251.5,1196.6 257.1,1193.6 263.5,1191.2 270.6,1189.5 278.2,1188.4 286,1188 293.8,1188.4 301.4,1189.5 308.5,1191.2 314.9,1193.6 320.5,1196.6 325,1200 328.3,1203.8 330.3,1207.8 331,1212 331,1266 330.3,1270.2 328.3,1274.2 325,1278 320.5,1281.4 314.9,1284.4 308.5,1286.8 301.4,1288.5 293.8,1289.6 286,1290 278.2,1289.6 270.6,1288.5 263.5,1286.8 257.1,1284.4 251.5,1281.4 247,1278 243.7,1274.2 241.7,1270.2 241,1266" fill="url(#gMauve)" /><polygon points="331,1212 330.3,1216.2 328.3,1220.2 325,1224 320.5,1227.4 314.9,1230.4 308.5,1232.8 301.4,1234.6 293.8,1235.6 286,1236 278.2,1235.6 270.6,1234.6 263.5,1232.8 257.1,1230.4 251.5,1227.4 247,1224 243.7,1220.2 241.7,1216.2 241,1212 241.7,1207.8 243.7,1203.8 247,1200 251.5,1196.6 257.1,1193.6 263.5,1191.2 270.6,1189.4 278.2,1188.4 286,1188 293.8,1188.4 301.4,1189.4 308.5,1191.2 314.9,1193.6 320.5,1196.6 325,1200 328.3,1203.8 330.3,1207.8" fill="url(#gPurT)" /><path d="M241,1254 A45,24 0 0 0 331,1254 L331,1268 A45,24 0 0 1 241,1268 Z" fill="#8d4bb0"/><ellipse cx="286" cy="1212" rx="45" ry="24" fill="#9456b6"/><ellipse cx="286" cy="1212" rx="35" ry="18" fill="#cdbfd2"/><ellipse cx="286" cy="1213" rx="28" ry="14" fill="#a893b0"/><ellipse cx="286" cy="1214" rx="8" ry="4.5" fill="#d9cddd"/><line x1="295" y1="1213" x2="317.5" y2="1217" stroke="#e6dcea" stroke-width="1.6"/><line x1="294.1" y1="1215.2" x2="310.2" y2="1223.6" stroke="#e6dcea" stroke-width="1.6"/><line x1="291.6" y1="1216.9" x2="298" y2="1227.8" stroke="#e6dcea" stroke-width="1.6"/><line x1="288" y1="1217.9" x2="283.5" y2="1229" stroke="#e6dcea" stroke-width="1.6"/><line x1="284" y1="1217.9" x2="269.5" y2="1226.7" stroke="#e6dcea" stroke-width="1.6"/><line x1="280.4" y1="1216.9" x2="258.7" y2="1221.6" stroke="#e6dcea" stroke-width="1.6"/><line x1="277.9" y1="1215.2" x2="253.4" y2="1214.5" stroke="#e6dcea" stroke-width="1.6"/><line x1="277" y1="1213" x2="254.5" y2="1207" stroke="#e6dcea" stroke-width="1.6"/><line x1="277.9" y1="1210.8" x2="261.8" y2="1200.4" stroke="#e6dcea" stroke-width="1.6"/><line x1="280.4" y1="1209.1" x2="274" y2="1196.2" stroke="#e6dcea" stroke-width="1.6"/><line x1="284" y1="1208.1" x2="288.5" y2="1195" stroke="#e6dcea" stroke-width="1.6"/><line x1="288" y1="1208.1" x2="302.5" y2="1197.3" stroke="#e6dcea" stroke-width="1.6"/><line x1="291.6" y1="1209.1" x2="313.3" y2="1202.4" stroke="#e6dcea" stroke-width="1.6"/><line x1="294.1" y1="1210.8" x2="318.6" y2="1209.5" stroke="#e6dcea" stroke-width="1.6"/><polygon points="539,1252 539.5,1249.4 540.9,1246.9 543.1,1244.5 546.2,1242.4 550.1,1240.5 554.5,1239 559.4,1237.9 564.6,1237.2 570,1237 575.4,1237.2 580.6,1237.9 585.5,1239 589.9,1240.5 593.8,1242.4 596.9,1244.5 599.1,1246.9 600.5,1249.4 601,1252 600.5,1254.6 599.1,1257.1 596.9,1259.5 593.8,1261.6 589.9,1263.5 585.5,1265 580.6,1266.1 575.4,1266.8 570,1267 564.6,1266.8 559.4,1266.1 554.5,1265 550.1,1263.5 546.2,1261.6 543.1,1259.5 540.9,1257.1 539.5,1254.6" fill="#8a8a96" opacity="0.22" filter="url(#blur3)"/><polygon points="536,1226 536.5,1223.4 537.9,1220.9 540.1,1218.5 543.2,1216.4 547.1,1214.5 551.5,1213 556.4,1211.9 561.6,1211.2 567,1211 572.4,1211.2 577.6,1211.9 582.5,1213 586.9,1214.5 590.8,1216.4 593.9,1218.5 596.1,1220.9 597.5,1223.4 598,1226 598,1249 597.5,1251.6 596.1,1254.1 593.9,1256.5 590.8,1258.6 586.9,1260.5 582.5,1262 577.6,1263.1 572.4,1263.8 567,1264 561.6,1263.8 556.4,1263.1 551.5,1262 547.1,1260.5 543.2,1258.6 540.1,1256.5 537.9,1254.1 536.5,1251.6 536,1249" fill="url(#gOrS)" /><polygon points="598,1226 597.5,1228.6 596.1,1231.1 593.8,1233.5 590.7,1235.6 586.9,1237.5 582.5,1239 577.6,1240.1 572.4,1240.8 567,1241 561.6,1240.8 556.4,1240.1 551.5,1239 547.1,1237.5 543.3,1235.6 540.2,1233.5 537.9,1231.1 536.5,1228.6 536,1226 536.5,1223.4 537.9,1220.9 540.2,1218.5 543.3,1216.4 547.1,1214.5 551.5,1213 556.4,1211.9 561.6,1211.2 567,1211 572.4,1211.2 577.6,1211.9 582.5,1213 586.9,1214.5 590.7,1216.4 593.8,1218.5 596.1,1220.9 597.5,1223.4" fill="url(#gOrT)" /><ellipse cx="567" cy="1226" rx="26" ry="11.5" fill="#ff9a62"/><line x1="556" y1="1262" x2="561" y2="1244" stroke="#c9bcc6" stroke-width="8.4" stroke-linecap="round"/><line x1="556" y1="1262" x2="561" y2="1244" stroke="#f1ebf0" stroke-width="6" stroke-linecap="round"/><polygon points="94.4,1217.1 94.5,1211.9 94.9,1210.3 95.7,1209.1 96.7,1208.2 98.1,1207.6 99.9,1207 102.2,1206.6 105.3,1206.3 109.6,1206.2 123.5,1206.1 137.4,1206.2 141.7,1206.3 144.8,1206.6 147.1,1207 148.9,1207.6 150.3,1208.2 151.3,1209.1 152.1,1210.3 152.5,1211.9 152.6,1217.1 152.5,1222.4 152.1,1224 151.3,1225.2 150.3,1226 148.9,1226.7 147.1,1227.2 144.8,1227.6 141.7,1227.9 137.4,1228.1 123.5,1228.1 109.6,1228.1 105.3,1227.9 102.2,1227.6 99.9,1227.2 98.1,1226.7 96.7,1226 95.7,1225.2 94.9,1224 94.5,1222.4" fill="#8a8a96" opacity="0.28" filter="url(#blur3)"/><polygon points="91.4,1188.6 91.5,1183.4 91.9,1181.7 92.7,1180.6 93.7,1179.7 95.1,1179 96.9,1178.5 99.2,1178.1 102.3,1177.8 106.6,1177.7 120.5,1177.6 134.4,1177.7 138.7,1177.8 141.8,1178.1 144.1,1178.5 145.9,1179 147.3,1179.7 148.3,1180.6 149.1,1181.7 149.5,1183.4 149.6,1188.6 149.6,1214.1 149.5,1219.4 149.1,1221 148.3,1222.2 147.3,1223 145.9,1223.7 144.1,1224.2 141.8,1224.6 138.7,1224.9 134.4,1225.1 120.5,1225.1 106.6,1225.1 102.3,1224.9 99.2,1224.6 96.9,1224.2 95.1,1223.7 93.7,1223 92.7,1222.2 91.9,1221 91.5,1219.4 91.4,1214.1" fill="url(#gBrown)" stroke="#3d2330" stroke-width="0.9" stroke-opacity="0.55"/><polygon points="89.5,1185 89.7,1179.4 90.1,1177.7 90.9,1176.5 92,1175.5 93.5,1174.8 95.4,1174.2 97.9,1173.8 101.1,1173.5 105.7,1173.4 120.5,1173.3 135.3,1173.4 139.9,1173.5 143.1,1173.8 145.6,1174.2 147.5,1174.8 149,1175.5 150.1,1176.5 150.9,1177.7 151.3,1179.4 151.5,1185 151.5,1191 151.3,1196.6 150.9,1198.3 150.1,1199.5 149,1200.5 147.5,1201.2 145.6,1201.8 143.1,1202.2 139.9,1202.5 135.3,1202.6 120.5,1202.7 105.7,1202.6 101.1,1202.5 97.9,1202.2 95.4,1201.8 93.5,1201.2 92,1200.5 90.9,1199.5 90.1,1198.3 89.7,1196.6 89.5,1191" fill="url(#gTealS)" /><polygon points="151.5,1185 151.3,1190.6 150.9,1192.3 150.1,1193.5 149,1194.5 147.5,1195.2 145.6,1195.7 143.1,1196.2 139.9,1196.5 135.3,1196.6 120.5,1196.7 105.7,1196.6 101.1,1196.5 97.9,1196.2 95.4,1195.7 93.5,1195.2 92,1194.5 90.9,1193.5 90.1,1192.3 89.7,1190.6 89.5,1185 89.7,1179.4 90.1,1177.7 90.9,1176.5 92,1175.5 93.5,1174.8 95.4,1174.3 97.9,1173.8 101.1,1173.5 105.7,1173.4 120.5,1173.3 135.3,1173.4 139.9,1173.5 143.1,1173.8 145.6,1174.3 147.5,1174.8 149,1175.5 150.1,1176.5 150.9,1177.7 151.3,1179.4" fill="url(#gTealT)" /><polygon points="139.7,1185 139.6,1190.5 139.3,1192.2 138.9,1193.4 138.2,1194.3 137.2,1195 136,1195.5 134.5,1195.9 132.5,1196.2 129.7,1196.4 120.5,1196.5 111.3,1196.4 108.5,1196.2 106.5,1195.9 105,1195.5 103.8,1195 102.8,1194.3 102.1,1193.4 101.7,1192.2 101.4,1190.5 101.3,1185 101.4,1179.5 101.7,1177.8 102.1,1176.6 102.8,1175.7 103.8,1175 105,1174.5 106.5,1174.1 108.5,1173.8 111.3,1173.6 120.5,1173.5 129.7,1173.6 132.5,1173.8 134.5,1174.1 136,1174.5 137.2,1175 138.2,1175.7 138.9,1176.6 139.3,1177.8 139.6,1179.5" fill="#8fe4df" opacity="0.28"/><path d="M109,1179 C111,1163.6 112.1,1160.8 112.1,1151 L109,1091.5 L107.4,1058.3 L120.2,1058.3 L122,1091.5 L125.1,1151 C125.1,1160.8 129,1163.6 131,1179 Z" fill="url(#gLampStem)"/><g><path d="M100.2,998.8 A12.8,12.8 0 0 1 125.8,998.8 L125.8,1031.5 C125.8,1045.5 119.4,1046.8 119.4,1059.3 L106.6,1059.3 C106.6,1046.8 100.2,1045.5 100.2,1031.5 Z" fill="#ecd6f6" opacity="0.6" filter="url(#blur3)" transform="translate(0 -2)"/><path d="M100.2,998.8 A12.8,12.8 0 0 1 125.8,998.8 L125.8,1031.5 C125.8,1045.5 119.4,1046.8 119.4,1059.3 L106.6,1059.3 C106.6,1046.8 100.2,1045.5 100.2,1031.5 Z" fill="url(#gLampHead)"/><path d="M100.2,998.8 A12.8,12.8 0 0 1 125.8,998.8 L125.8,1031.5 C125.8,1045.5 119.4,1046.8 119.4,1059.3 L106.6,1059.3 C106.6,1046.8 100.2,1045.5 100.2,1031.5 Z" fill="url(#gLampHeadX)"/><rect x="102.8" y="992.9" width="18.9" height="41.7" rx="9.4" fill="#ffffff" filter="url(#blur1)"/></g><polygon points="166.5,1218.5 167.2,1212.4 168.1,1206.4 168.9,1204.5 169.9,1203.3 171.3,1202.3 173,1201.6 175.2,1201.1 177.9,1200.8 181.5,1200.7 186.6,1200.8 202.7,1201.6 218.8,1202.6 223.8,1203 227.3,1203.6 229.9,1204.2 231.9,1204.9 233.5,1205.8 234.6,1206.8 235.2,1208.2 235.5,1210.1 234.8,1216.2 233.9,1222.2 233.1,1224.1 232.1,1225.3 230.7,1226.3 229,1227 226.8,1227.5 224.1,1227.8 220.5,1227.9 215.4,1227.8 199.3,1227 183.2,1226 178.2,1225.6 174.7,1225 172.1,1224.4 170.1,1223.7 168.5,1222.8 167.4,1221.8 166.8,1220.4" fill="#8a8a96" opacity="0.28" filter="url(#blur3)"/><polygon points="163.5,1189.2 164.2,1183.2 165.1,1177.1 165.9,1175.3 166.9,1174 168.3,1173.1 170,1172.4 172.2,1171.9 174.9,1171.6 178.5,1171.4 183.6,1171.5 199.7,1172.4 215.8,1173.3 220.8,1173.8 224.3,1174.3 226.9,1174.9 228.9,1175.6 230.5,1176.5 231.6,1177.6 232.2,1179 232.5,1180.9 232.5,1207.1 231.8,1213.2 230.9,1219.2 230.1,1221.1 229.1,1222.3 227.7,1223.3 226,1224 223.8,1224.5 221.1,1224.8 217.5,1224.9 212.4,1224.8 196.3,1224 180.2,1223 175.2,1222.6 171.7,1222 169.1,1221.4 167.1,1220.7 165.5,1219.8 164.4,1218.8 163.8,1217.4 163.5,1215.5" fill="url(#gBrown)" stroke="#3d2330" stroke-width="0.9" stroke-opacity="0.55"/><polygon points="161.3,1185.4 162,1179 163,1172.6 163.8,1170.6 164.9,1169.2 166.4,1168.2 168.2,1167.5 170.6,1167 173.5,1166.7 177.3,1166.5 182.7,1166.6 199.8,1167.5 216.9,1168.5 222.3,1169 226,1169.6 228.8,1170.2 230.9,1171 232.5,1171.9 233.7,1173.1 234.4,1174.5 234.7,1176.6 234.7,1183.3 234,1189.8 233,1196.2 232.2,1198.2 231.1,1199.5 229.6,1200.5 227.8,1201.2 225.4,1201.8 222.5,1202.1 218.7,1202.2 213.3,1202.1 196.2,1201.2 179.1,1200.2 173.7,1199.7 170,1199.2 167.2,1198.5 165.1,1197.8 163.5,1196.8 162.3,1195.7 161.6,1194.2 161.3,1192.2" fill="url(#gTealS)" /><polygon points="234,1183 233,1189.4 232.2,1191.4 231.1,1192.8 229.6,1193.8 227.8,1194.5 225.5,1195 222.5,1195.3 218.7,1195.5 213.3,1195.4 196.2,1194.5 179.1,1193.5 173.7,1193 170,1192.4 167.2,1191.8 165.1,1191 163.5,1190.1 162.3,1188.9 161.6,1187.5 161.3,1185.4 162,1179 163,1172.6 163.8,1170.6 164.9,1169.2 166.4,1168.2 168.2,1167.5 170.5,1167 173.5,1166.7 177.3,1166.5 182.7,1166.6 199.8,1167.5 216.9,1168.5 222.3,1169 226,1169.6 228.8,1170.2 230.9,1171 232.5,1171.9 233.7,1173.1 234.4,1174.5 234.7,1176.6" fill="url(#gTealT)" /><polygon points="220.3,1182.2 219.4,1188.5 218.8,1190.5 218,1191.8 217.1,1192.8 215.9,1193.6 214.4,1194.2 212.6,1194.5 210.2,1194.7 206.9,1194.8 196.2,1194.2 185.6,1193.6 182.3,1193.2 180,1192.7 178.3,1192.2 177,1191.4 176.1,1190.6 175.4,1189.5 175,1188.1 175,1186.1 175.7,1179.8 176.6,1173.5 177.2,1171.5 178,1170.2 178.9,1169.2 180.1,1168.4 181.6,1167.8 183.4,1167.5 185.8,1167.3 189.1,1167.2 199.8,1167.8 210.4,1168.4 213.7,1168.8 216,1169.3 217.7,1169.8 219,1170.6 219.9,1171.4 220.6,1172.5 221,1173.9 221,1175.9" fill="#8fe4df" opacity="0.28"/><ellipse cx="194.5" cy="1170" rx="9" ry="7.5" fill="#7a2d9e"/><ellipse cx="193" cy="1168" rx="4" ry="3" fill="#c08ad8"/><polygon points="137.6,1289 138,1287.7 138.9,1286.4 140.5,1284.8 143.1,1282.7 151.9,1276.4 161,1270.2 164,1268.3 166.4,1267.2 168.4,1266.5 170.4,1266 172.3,1265.9 174.2,1266.1 176.4,1266.7 179.1,1267.8 186.8,1271.7 194.4,1275.8 196.5,1277.3 197.7,1278.5 198.3,1279.6 198.4,1280.8 198,1282 197.1,1283.3 195.5,1284.9 192.9,1287 184.1,1293.3 175,1299.5 172,1301.4 169.6,1302.5 167.6,1303.3 165.6,1303.7 163.7,1303.8 161.8,1303.6 159.6,1303.1 156.9,1302 149.2,1298 141.6,1293.9 139.5,1292.5 138.3,1291.3 137.7,1290.1" fill="#8a8a96" opacity="0.28" filter="url(#blur3)"/><polygon points="134.6,1255 135,1253.8 135.9,1252.5 137.5,1250.9 140.1,1248.8 148.9,1242.5 158,1236.3 161,1234.4 163.4,1233.3 165.4,1232.5 167.4,1232.1 169.3,1232 171.2,1232.2 173.4,1232.8 176.1,1233.8 183.8,1237.8 191.4,1241.9 193.5,1243.3 194.7,1244.5 195.3,1245.7 195.4,1246.9 195.4,1277.8 195,1279 194.1,1280.3 192.5,1281.9 189.9,1284 181.1,1290.3 172,1296.5 169,1298.4 166.6,1299.5 164.6,1300.3 162.6,1300.7 160.7,1300.8 158.8,1300.6 156.6,1300.1 153.9,1299 146.2,1295 138.6,1290.9 136.5,1289.5 135.3,1288.3 134.7,1287.1 134.6,1286" fill="url(#gBrown)" stroke="#3d2330" stroke-width="0.9" stroke-opacity="0.55"/><polygon points="132.7,1250.3 133.1,1249 134.1,1247.6 135.7,1245.9 138.5,1243.7 147.9,1237 157.5,1230.4 160.7,1228.4 163.2,1227.2 165.5,1226.4 167.5,1226 169.6,1225.9 171.6,1226.1 173.9,1226.7 176.8,1227.8 185,1232 193,1236.3 195.3,1237.9 196.6,1239.2 197.2,1240.4 197.3,1241.7 197.3,1249.9 196.9,1251.2 195.9,1252.6 194.3,1254.3 191.5,1256.5 182.1,1263.2 172.5,1269.9 169.3,1271.8 166.8,1273 164.5,1273.8 162.5,1274.3 160.4,1274.4 158.4,1274.2 156.1,1273.6 153.2,1272.5 145,1268.2 137,1263.9 134.7,1262.3 133.4,1261.1 132.8,1259.8 132.7,1258.6" fill="url(#gTealS)" /><polygon points="185,1232 193,1236.4 195.3,1237.9 196.6,1239.2 197.2,1240.4 197.3,1241.6 196.9,1242.9 195.9,1244.4 194.3,1246.1 191.5,1248.3 182.1,1255 172.5,1261.6 169.3,1263.6 166.7,1264.8 164.5,1265.6 162.5,1266 160.5,1266.1 158.4,1265.9 156.1,1265.3 153.2,1264.2 145,1260 137,1255.6 134.7,1254.1 133.4,1252.8 132.8,1251.6 132.7,1250.4 133.1,1249.1 134.1,1247.6 135.7,1245.9 138.5,1243.7 147.9,1237 157.5,1230.4 160.7,1228.4 163.3,1227.2 165.5,1226.4 167.5,1226 169.5,1225.9 171.6,1226.1 173.9,1226.7 176.8,1227.8" fill="url(#gTealT)" /><polygon points="177.4,1237.3 185.3,1241.6 187.6,1243 189.1,1244.1 189.9,1245.2 190.4,1246.1 190.4,1247.1 190,1248.1 189.2,1249.2 187.6,1250.6 181.8,1254.8 175.8,1258.9 173.7,1260.1 172,1260.8 170.4,1261.1 168.8,1261.2 167.2,1261.1 165.4,1260.7 163.3,1260 160.6,1258.8 152.6,1254.7 144.7,1250.4 142.4,1249 140.9,1247.9 140.1,1246.8 139.6,1245.9 139.6,1244.9 140,1243.9 140.8,1242.8 142.4,1241.4 148.2,1237.2 154.2,1233.1 156.3,1231.9 158,1231.2 159.6,1230.9 161.2,1230.8 162.8,1230.9 164.6,1231.3 166.7,1232 169.4,1233.2" fill="#8fe4df" opacity="0.28"/><polygon points="152,1236 163,1231 168,1240 157,1246" fill="#2fa9a8"/><polygon points="155,1237 162,1234 165,1240 158,1243" fill="#7b2a9a"/><polygon points="312.2,1334.2 313.7,1325.5 315.9,1316.9 317.3,1314.8 319.1,1313.6 321.6,1312.9 324.9,1312.6 328.9,1312.7 334.2,1313.1 341.1,1314 351.4,1315.5 391.4,1322.6 431.4,1329.7 441.5,1331.7 448.3,1333.3 453.4,1334.7 457.2,1336.1 460,1337.5 462.1,1339 463.3,1340.7 463.8,1343.1 462.3,1351.8 460.1,1360.4 458.7,1362.5 456.9,1363.7 454.4,1364.4 451.1,1364.7 447.1,1364.7 441.8,1364.2 434.9,1363.4 424.6,1361.8 384.6,1354.7 344.6,1347.6 334.5,1345.6 327.7,1344 322.6,1342.6 318.8,1341.2 316,1339.9 313.9,1338.3 312.7,1336.6" fill="#8a8a96" opacity="0.28" filter="url(#blur3)"/><polygon points="309.2,1292.1 310.7,1283.3 312.9,1274.7 314.3,1272.7 316.1,1271.5 318.6,1270.8 321.9,1270.5 325.9,1270.5 331.2,1270.9 338.1,1271.8 348.4,1273.4 388.4,1280.4 428.4,1287.6 438.5,1289.6 445.3,1291.2 450.4,1292.5 454.2,1293.9 457,1295.3 459.1,1296.8 460.3,1298.6 460.8,1300.9 460.8,1340.1 459.3,1348.8 457.1,1357.4 455.7,1359.5 453.9,1360.7 451.4,1361.4 448.1,1361.7 444.1,1361.7 438.8,1361.2 431.9,1360.4 421.6,1358.8 381.6,1351.7 341.6,1344.6 331.5,1342.6 324.7,1341 319.6,1339.6 315.8,1338.2 313,1336.9 310.9,1335.3 309.7,1333.6 309.2,1331.2" fill="url(#gBrown)" stroke="#3d2330" stroke-width="0.9" stroke-opacity="0.55"/><polygon points="304.4,1287.3 306,1278 308.3,1268.8 309.7,1266.7 311.8,1265.4 314.4,1264.6 317.8,1264.3 322.2,1264.3 327.8,1264.8 335.1,1265.7 346,1267.4 388.6,1274.9 431.1,1282.5 441.9,1284.7 449.2,1286.3 454.5,1287.8 458.6,1289.2 461.6,1290.7 463.8,1292.3 465.1,1294.2 465.6,1296.7 465.6,1304.2 464,1313.5 461.7,1322.7 460.3,1324.8 458.2,1326.1 455.6,1326.9 452.2,1327.2 447.8,1327.2 442.2,1326.7 434.9,1325.8 424,1324.1 381.4,1316.6 338.9,1309 328.1,1306.8 320.8,1305.2 315.5,1303.7 311.4,1302.3 308.4,1300.8 306.2,1299.2 304.9,1297.3 304.4,1294.8" fill="url(#gPurS)" /><polygon points="464,1306 461.7,1315.2 460.3,1317.3 458.3,1318.6 455.6,1319.4 452.2,1319.7 447.8,1319.7 442.3,1319.2 434.9,1318.3 424,1316.6 381.4,1309.1 338.8,1301.5 328,1299.4 320.8,1297.7 315.5,1296.2 311.4,1294.8 308.4,1293.3 306.2,1291.7 304.9,1289.8 304.4,1287.3 306,1278 308.3,1268.8 309.7,1266.7 311.7,1265.4 314.4,1264.6 317.8,1264.3 322.2,1264.3 327.7,1264.8 335.1,1265.7 346,1267.4 388.6,1274.9 431.2,1282.5 442,1284.6 449.2,1286.3 454.5,1287.8 458.6,1289.2 461.6,1290.7 463.8,1292.3 465.1,1294.2 465.6,1296.7" fill="url(#gPurT)" /><polygon points="434,1300.7 431.9,1309.7 430.8,1311.9 429.4,1313.2 427.7,1314.1 425.5,1314.7 422.7,1314.9 419.2,1314.8 414.6,1314.3 407.9,1313.4 381.5,1308.8 355.1,1304 348.4,1302.6 344,1301.5 340.7,1300.3 338.2,1299.2 336.4,1297.9 335.2,1296.5 334.4,1294.8 334.3,1292.4 336,1283.3 338.1,1274.3 339.2,1272.1 340.6,1270.8 342.3,1269.9 344.5,1269.3 347.3,1269.1 350.8,1269.2 355.4,1269.7 362.1,1270.6 388.5,1275.2 414.9,1280 421.6,1281.4 426,1282.5 429.3,1283.7 431.8,1284.8 433.6,1286.1 434.8,1287.5 435.6,1289.2 435.7,1291.6" fill="#cfa0e4" opacity="0.28"/><text x="347" y="1298" font-family="Liberation Sans,sans-serif" font-size="8" font-weight="bold" font-style="italic" fill="#f3e6fa" textLength="62" lengthAdjust="spacingAndGlyphs" transform="rotate(10.5 347 1298)">POWER SUPPLY</text><path d="M386,1276 L374,1284 L381,1285 L376,1293 L390,1283 L383,1282 Z" fill="#e9d6f4"/><text x="316" y="1280" font-family="Liberation Sans,sans-serif" font-size="11" font-weight="bold" fill="#f3e6fa">+</text><rect x="438" y="1293" width="9" height="2" fill="#f3e6fa" transform="rotate(10 438 1293)"/><polygon points="465.3,1304 466.5,1297.2 468,1290.5 469,1288.5 470.2,1287.1 471.9,1286.2 473.9,1285.5 476.4,1285 479.6,1284.8 483.7,1284.8 489.5,1285.2 507.8,1286.9 526.2,1288.8 531.9,1289.5 535.8,1290.3 538.8,1291.1 541,1292 542.7,1293 543.9,1294.3 544.5,1295.9 544.7,1298 543.5,1304.8 542,1311.5 541,1313.5 539.8,1314.9 538.1,1315.8 536.1,1316.5 533.6,1317 530.4,1317.2 526.3,1317.2 520.5,1316.8 502.2,1315.1 483.8,1313.2 478.1,1312.5 474.2,1311.7 471.2,1310.9 469,1310 467.3,1309 466.1,1307.7 465.5,1306.1" fill="#8a8a96" opacity="0.28" filter="url(#blur3)"/><polygon points="459.8,1266.2 461,1259 462.6,1251.9 463.7,1249.7 465,1248.2 466.8,1247.2 468.9,1246.5 471.6,1246 475,1245.8 479.3,1245.8 485.5,1246.2 505,1248 524.5,1250 530.6,1250.8 534.8,1251.6 537.9,1252.5 540.3,1253.4 542.1,1254.5 543.3,1255.9 544.1,1257.5 544.2,1259.8 544.2,1294.8 543,1302 541.4,1309.1 540.3,1311.3 539,1312.8 537.2,1313.8 535.1,1314.5 532.4,1315 529,1315.2 524.7,1315.2 518.5,1314.8 499,1313 479.5,1311 473.4,1310.2 469.2,1309.4 466.1,1308.5 463.7,1307.6 461.9,1306.5 460.7,1305.1 459.9,1303.5 459.8,1301.2" fill="url(#gTealS)" /><polygon points="543,1267 541.4,1274.1 540.3,1276.3 539,1277.8 537.2,1278.8 535.1,1279.5 532.4,1280 529,1280.2 524.7,1280.2 518.5,1279.8 499,1278 479.5,1276 473.4,1275.2 469.2,1274.4 466.1,1273.5 463.7,1272.6 461.9,1271.5 460.7,1270.1 459.9,1268.5 459.8,1266.2 461,1259 462.6,1251.9 463.7,1249.7 465,1248.2 466.8,1247.2 468.9,1246.5 471.6,1246 475,1245.8 479.3,1245.8 485.5,1246.2 505,1248 524.5,1250 530.6,1250.8 534.8,1251.6 537.9,1252.5 540.3,1253.4 542.1,1254.5 543.3,1255.9 544.1,1257.5 544.2,1259.8" fill="url(#gTealT)" /><polygon points="527.4,1265.5 525.9,1272.5 525.1,1274.6 524.1,1276.1 523,1277.2 521.6,1278 519.9,1278.5 517.7,1278.8 515,1279 511.2,1278.8 499.1,1277.7 487,1276.4 483.2,1275.9 480.7,1275.2 478.7,1274.5 477.3,1273.6 476.3,1272.6 475.6,1271.4 475.2,1269.8 475.3,1267.5 476.6,1260.5 478.1,1253.5 478.9,1251.4 479.9,1249.9 481,1248.8 482.4,1248 484.1,1247.5 486.3,1247.2 489,1247 492.8,1247.2 504.9,1248.3 517,1249.6 520.8,1250.1 523.3,1250.8 525.3,1251.5 526.7,1252.4 527.7,1253.4 528.4,1254.6 528.8,1256.2 528.7,1258.5" fill="#8fe4df" opacity="0.28"/><g opacity="0.9"><ellipse cx="488" cy="1246" rx="26" ry="12" fill="#f4f2f8"/><ellipse cx="522" cy="1252" rx="24" ry="11" fill="#f1eff6"/><ellipse cx="540" cy="1226" rx="20" ry="10" fill="#f6f4fa" transform="rotate(-20 540 1226)"/><ellipse cx="470" cy="1226" rx="18" ry="9" fill="#f8f6fb"/></g><polygon points="486,1217 486.3,1215.6 487.1,1214.3 488.6,1213 490.4,1211.9 492.8,1210.9 495.5,1210.1 498.5,1209.5 501.7,1209.1 505,1209 508.3,1209.1 511.5,1209.5 514.5,1210.1 517.2,1210.9 519.5,1211.9 521.5,1213 522.9,1214.3 523.7,1215.6 524,1217 524,1241 523.7,1242.4 522.9,1243.7 521.5,1245 519.5,1246.1 517.2,1247.1 514.5,1247.9 511.5,1248.5 508.3,1248.9 505,1249 501.7,1248.9 498.5,1248.5 495.5,1247.9 492.8,1247.1 490.4,1246.1 488.6,1245 487.1,1243.7 486.3,1242.4 486,1241" fill="url(#gPurS)" /><polygon points="524,1217 523.7,1218.4 522.9,1219.7 521.5,1221 519.6,1222.1 517.2,1223.1 514.5,1223.9 511.5,1224.5 508.3,1224.9 505,1225 501.7,1224.9 498.5,1224.5 495.5,1223.9 492.8,1223.1 490.4,1222.1 488.5,1221 487.1,1219.7 486.3,1218.4 486,1217 486.3,1215.6 487.1,1214.3 488.5,1213 490.4,1211.9 492.8,1210.9 495.5,1210.1 498.5,1209.5 501.7,1209.1 505,1209 508.3,1209.1 511.5,1209.5 514.5,1210.1 517.2,1210.9 519.6,1211.9 521.5,1213 522.9,1214.3 523.7,1215.6" fill="url(#gPurT)" /><ellipse cx="505" cy="1217" rx="19" ry="8" fill="#b98ad6"/><polygon points="659.3,1288.2 660.3,1282.5 661.7,1276.9 662.7,1275.2 663.8,1274.1 665.4,1273.3 667.3,1272.8 669.7,1272.5 672.7,1272.5 676.6,1272.7 682.1,1273.2 699.5,1275.4 717,1277.7 722.4,1278.5 726.1,1279.3 729,1280.1 731.1,1281 732.7,1282 733.9,1283.1 734.5,1284.4 734.7,1286.3 733.7,1291.9 732.3,1297.5 731.3,1299.2 730.2,1300.3 728.6,1301.1 726.7,1301.6 724.3,1301.9 721.3,1302 717.4,1301.8 711.9,1301.2 694.5,1299.1 677,1296.8 671.6,1295.9 667.9,1295.1 665,1294.3 662.9,1293.4 661.3,1292.5 660.1,1291.4 659.5,1290" fill="#8a8a96" opacity="0.28" filter="url(#blur3)"/><polygon points="656.3,1256.5 657.3,1250.8 658.7,1245.2 659.7,1243.5 660.8,1242.4 662.4,1241.6 664.3,1241.1 666.7,1240.8 669.7,1240.8 673.6,1241 679.1,1241.5 696.5,1243.7 714,1246 719.4,1246.8 723.1,1247.6 726,1248.4 728.1,1249.3 729.7,1250.2 730.9,1251.3 731.5,1252.7 731.7,1254.5 731.7,1283.3 730.7,1288.9 729.3,1294.5 728.3,1296.2 727.2,1297.3 725.6,1298.1 723.7,1298.6 721.3,1298.9 718.3,1299 714.4,1298.8 708.9,1298.2 691.5,1296.1 674,1293.8 668.6,1292.9 664.9,1292.1 662,1291.3 659.9,1290.4 658.3,1289.5 657.1,1288.4 656.5,1287 656.3,1285.2" fill="url(#gBrown)" stroke="#3d2330" stroke-width="0.9" stroke-opacity="0.55"/><polygon points="653.9,1252 655,1246 656.5,1240 657.5,1238.2 658.7,1237 660.4,1236.2 662.4,1235.7 665,1235.4 668.1,1235.3 672.3,1235.5 678.1,1236.1 696.7,1238.4 715.3,1240.8 721,1241.8 725,1242.6 728,1243.5 730.3,1244.4 732,1245.4 733.2,1246.6 733.9,1248 734.1,1250 734.1,1257.5 733,1263.5 731.5,1269.5 730.5,1271.3 729.3,1272.5 727.6,1273.3 725.6,1273.8 723,1274.1 719.9,1274.2 715.7,1274 709.9,1273.4 691.3,1271.1 672.7,1268.7 667,1267.7 663,1266.9 660,1266 657.7,1265.1 656,1264.1 654.8,1262.9 654.1,1261.5 653.9,1259.5" fill="url(#gTealS)" /><polygon points="733,1256 731.5,1262 730.5,1263.8 729.3,1265 727.6,1265.8 725.6,1266.3 723.1,1266.6 719.9,1266.7 715.7,1266.5 709.9,1265.9 691.3,1263.6 672.7,1261.2 667,1260.2 663,1259.4 660,1258.5 657.7,1257.6 656,1256.6 654.8,1255.4 654.1,1254 653.9,1252 655,1246 656.5,1240 657.5,1238.2 658.7,1237 660.4,1236.2 662.4,1235.7 664.9,1235.4 668.1,1235.3 672.3,1235.5 678.1,1236.1 696.7,1238.4 715.3,1240.8 721,1241.8 725,1242.6 728,1243.5 730.3,1244.4 732,1245.4 733.2,1246.6 733.9,1248 734.1,1250" fill="url(#gTealT)" /><polygon points="718.2,1254.1 716.8,1260 716,1261.8 715.2,1263 714.1,1263.8 712.7,1264.4 711.1,1264.9 709.1,1265.1 706.5,1265 702.9,1264.8 691.4,1263.3 679.9,1261.8 676.3,1261.2 673.8,1260.5 672,1259.8 670.6,1259.1 669.6,1258.1 669,1257 668.6,1255.7 668.7,1253.8 669.8,1247.9 671.2,1242 672,1240.2 672.8,1239 673.9,1238.2 675.3,1237.6 676.9,1237.1 678.9,1236.9 681.5,1237 685.1,1237.2 696.6,1238.7 708.1,1240.2 711.7,1240.8 714.2,1241.5 716,1242.2 717.4,1242.9 718.4,1243.9 719,1245 719.4,1246.3 719.3,1248.2" fill="#8fe4df" opacity="0.28"/><ellipse cx="694.5" cy="1243" rx="12.5" ry="9" fill="#3a3f4a"/><ellipse cx="693" cy="1241" rx="7" ry="4.5" fill="#b9bcc8"/><polygon points="635.6,1381.8 635.6,1379 637.1,1370.1 638.9,1361.2 639.9,1358.5 641,1356.7 642.5,1355.3 644.3,1354.3 646.5,1353.5 649.2,1353.1 652.8,1352.9 657.7,1353 673.4,1354.3 689,1355.7 693.9,1356.4 697.2,1357.2 699.7,1358.1 701.6,1359.2 703,1360.5 703.9,1362 704.4,1364 704.4,1366.9 702.9,1375.7 701.1,1384.6 700.1,1387.3 699,1389.2 697.5,1390.5 695.7,1391.6 693.5,1392.3 690.8,1392.7 687.2,1392.9 682.3,1392.8 666.6,1391.5 651,1390.1 646.1,1389.4 642.8,1388.6 640.3,1387.7 638.4,1386.7 637,1385.4 636.1,1383.8" fill="#8a8a96" opacity="0.28" filter="url(#blur3)"/><polygon points="632.6,1346.3 632.6,1343.5 634.1,1334.6 635.9,1325.7 636.9,1323 638,1321.1 639.5,1319.8 641.3,1318.7 643.5,1318 646.2,1317.6 649.8,1317.4 654.7,1317.5 670.4,1318.8 686,1320.2 690.9,1320.9 694.2,1321.7 696.7,1322.6 698.6,1323.7 700,1324.9 700.9,1326.5 701.4,1328.5 701.4,1361 701.4,1363.9 699.9,1372.7 698.1,1381.6 697.1,1384.3 696,1386.2 694.5,1387.5 692.7,1388.6 690.5,1389.3 687.8,1389.7 684.2,1389.9 679.3,1389.8 663.6,1388.5 648,1387.1 643.1,1386.4 639.8,1385.6 637.3,1384.7 635.4,1383.7 634,1382.4 633.1,1380.8 632.6,1378.8" fill="url(#gBrown)" stroke="#3d2330" stroke-width="0.9" stroke-opacity="0.55"/><polygon points="630.4,1341.4 630.5,1338.4 632,1329 633.9,1319.6 635,1316.7 636.2,1314.7 637.8,1313.2 639.7,1312.2 642,1311.4 644.9,1310.9 648.6,1310.7 653.9,1310.9 670.6,1312.2 687.2,1313.7 692.4,1314.5 696,1315.3 698.6,1316.2 700.6,1317.4 702.1,1318.8 703,1320.4 703.6,1322.6 703.6,1331.6 703.5,1334.6 702,1344 700.1,1353.4 699,1356.3 697.8,1358.3 696.2,1359.8 694.3,1360.8 692,1361.6 689.1,1362.1 685.4,1362.3 680.1,1362.1 663.4,1360.8 646.8,1359.3 641.6,1358.5 638,1357.7 635.4,1356.8 633.4,1355.6 631.9,1354.2 631,1352.6 630.4,1350.4" fill="url(#gTealS)" /><polygon points="702,1335 700.1,1344.4 699.1,1347.3 697.8,1349.3 696.2,1350.8 694.3,1351.8 692,1352.6 689.1,1353.1 685.4,1353.3 680.1,1353.1 663.4,1351.8 646.8,1350.3 641.6,1349.5 638,1348.7 635.4,1347.8 633.4,1346.6 631.9,1345.3 631,1343.6 630.4,1341.4 630.5,1338.4 632,1329 633.9,1319.6 634.9,1316.7 636.2,1314.7 637.8,1313.2 639.7,1312.2 642,1311.4 644.9,1310.9 648.6,1310.7 653.9,1310.9 670.6,1312.2 687.2,1313.7 692.4,1314.5 696,1315.3 698.6,1316.2 700.6,1317.4 702.1,1318.7 703,1320.4 703.6,1322.6 703.5,1325.6" fill="url(#gTealT)" /><polygon points="688.7,1333.9 686.9,1343.1 686.1,1346 685.1,1347.9 684.1,1349.4 682.8,1350.5 681.3,1351.3 679.5,1351.9 677.1,1352.2 673.8,1352.2 663.5,1351.4 653.2,1350.4 650,1349.9 647.8,1349.2 646.2,1348.3 645,1347.3 644.2,1346 643.7,1344.4 643.5,1342.3 643.7,1339.4 645.3,1330.1 647.1,1320.9 647.9,1318 648.9,1316.1 649.9,1314.6 651.2,1313.5 652.7,1312.7 654.5,1312.1 656.9,1311.8 660.2,1311.8 670.5,1312.6 680.8,1313.6 684,1314.1 686.2,1314.8 687.8,1315.7 689,1316.7 689.8,1318 690.3,1319.6 690.5,1321.7 690.3,1324.6" fill="#8fe4df" opacity="0.28"/><ellipse cx="667.5" cy="1326" rx="13.5" ry="9.5" fill="#7d3aa0"/><ellipse cx="667.5" cy="1324" rx="12.5" ry="8.5" fill="#a87ccc"/><line x1="662" y1="1392" x2="666" y2="1372" stroke="#c9bcc6" stroke-width="9.4" stroke-linecap="round"/><line x1="662" y1="1392" x2="666" y2="1372" stroke="#f1ebf0" stroke-width="7" stroke-linecap="round"/></svg>
<svg x="824" y="856" width="713" height="633" viewBox="824 856 713 633"><pattern id="st4" width="10" height="10" patternUnits="userSpaceOnUse" patternTransform="matrix(1.0146 0.0833 -0.1344 0.5719 975 1099)"><rect width="10" height="10" fill="#e9e9ed"/><rect x="1.3" y="3.6" width="7.8" height="6.2" rx="3.6" fill="#babac6"/><ellipse cx="5" cy="3.9" rx="3.9" ry="3.5" fill="#f8f8fa"/></pattern><polygon points="904,1264 975,1099 1434,1121 1434,1127 1419,1328 904,1270" fill="#dedee4" /><polygon points="904,1264 975,1099 1434,1121 1434,1127 1419,1328 904,1270" fill="none" stroke="#bdbdc6" stroke-width="0.8"/><polygon points="975,1099 1434,1121 1419,1322 904,1264" fill="url(#st4)" /><linearGradient id="st4f" gradientUnits="userSpaceOnUse" x1="1000" y1="1090" x2="1120" y2="1290"><stop offset="0" stop-color="#fff" stop-opacity="0.7"/><stop offset="1" stop-color="#fff" stop-opacity="0"/></linearGradient><polygon points="975,1099 1434,1121 1419,1322 904,1264" fill="url(#st4f)" /><polygon points="975,1099 1434,1121 1419,1322 904,1264" fill="none" stroke="#f4f4f6" stroke-width="2"/><rect x="1096" y="1166" width="34" height="12" fill="#a9a9b2" transform="rotate(4 1096 1166)"/><rect x="1096" y="1166" width="34" height="5.4" fill="#c9c9d0" transform="rotate(4 1096 1166)"/><rect x="1050" y="1262" width="40" height="14" fill="#a9a9b2" transform="rotate(6 1050 1262)"/><rect x="1050" y="1262" width="40" height="6.3" fill="#c9c9d0" transform="rotate(6 1050 1262)"/><rect x="1210" y="1268" width="36" height="12" fill="#a9a9b2" transform="rotate(6 1210 1268)"/><rect x="1210" y="1268" width="36" height="5.4" fill="#c9c9d0" transform="rotate(6 1210 1268)"/><rect x="1250" y="1180" width="30" height="10" fill="#a9a9b2" transform="rotate(5 1250 1180)"/><rect x="1250" y="1180" width="30" height="4.5" fill="#c9c9d0" transform="rotate(5 1250 1180)"/><path d="M952,1152 L1428,1192 M1212,1110 L1172,1296" stroke="#c8c8d0" stroke-width="1.5" fill="none" opacity="0.8"/><g transform="rotate(-7 1264.5 967)"><ellipse cx="1238.5" cy="989" rx="86.5" ry="55.7" fill="#ffd84f" opacity="0.62" filter="url(#blur8)"/><ellipse cx="1264.5" cy="967" rx="69.4" ry="40.9" fill="#ffd672" opacity="0.92"/><ellipse cx="1234.5" cy="950.7" rx="21.4" ry="9.5" fill="#fff6d8" opacity="0.75" filter="url(#blur3)"/><ellipse cx="1300.2" cy="964.9" rx="18.6" ry="12.9" fill="#fff6d8" opacity="0.75" filter="url(#blur3)"/><ellipse cx="1253.8" cy="988.5" rx="24.3" ry="8.6" fill="#fff6d8" opacity="0.6" filter="url(#blur3)"/><line x1="1264.5" y1="967" x2="1198.8" y2="966.4" stroke="#f8b040" stroke-width="11.2" opacity="0.85"/><line x1="1264.5" y1="967" x2="1299.4" y2="932.2" stroke="#f8b040" stroke-width="11.2" opacity="0.85"/><line x1="1264.5" y1="967" x2="1308.5" y2="993.8" stroke="#f8b040" stroke-width="11.2" opacity="0.85"/><path fill-rule="evenodd" fill="url(#gDisc)" d="M1193,967 a71.5,43 0 1 0 143,0 a71.5,43 0 1 0 -143,0 Z M1199,963.5 a65.5,35 0 1 0 131,0 a65.5,35 0 1 0 -131,0 Z"/><ellipse cx="1266.5" cy="973" rx="25.7" ry="14.6" fill="#ee8a1e"/><ellipse cx="1266.5" cy="967" rx="25.7" ry="14.6" fill="#f7a83a"/></g><path d="M1014,1100 C995,1094 985,1096 978,1104" fill="none" stroke="#cdbfca" stroke-width="4.6" stroke-linecap="round" stroke-linejoin="round"/><path d="M1014,1100 C995,1094 985,1096 978,1104" fill="none" stroke="#f4eff3" stroke-width="2.4" stroke-linecap="round" stroke-linejoin="round"/><line x1="990" y1="1097" x2="1014" y2="1100" stroke="#c9bcc6" stroke-width="7.4" stroke-linecap="round"/><line x1="990" y1="1097" x2="1014" y2="1100" stroke="#f1ebf0" stroke-width="5" stroke-linecap="round"/><path d="M1075,1100 C1100,1090 1110,1080 1130,1090 C1150,1100 1140,1110 1159,1108" fill="none" stroke="#cdbfca" stroke-width="4.6" stroke-linecap="round" stroke-linejoin="round"/><path d="M1075,1100 C1100,1090 1110,1080 1130,1090 C1150,1100 1140,1110 1159,1108" fill="none" stroke="#f4eff3" stroke-width="2.4" stroke-linecap="round" stroke-linejoin="round"/><line x1="1075" y1="1100" x2="1100" y2="1096" stroke="#c9bcc6" stroke-width="7.4" stroke-linecap="round"/><line x1="1075" y1="1100" x2="1100" y2="1096" stroke="#f1ebf0" stroke-width="5" stroke-linecap="round"/><path d="M1090,1070 C1110,1070 1130,1100 1170,1120" fill="none" stroke="#cdbfca" stroke-width="4.2" stroke-linecap="round" stroke-linejoin="round"/><path d="M1090,1070 C1110,1070 1130,1100 1170,1120" fill="none" stroke="#f4eff3" stroke-width="2.0" stroke-linecap="round" stroke-linejoin="round"/><path d="M1264,1106 C1290,1112 1320,1108 1344,1116" fill="none" stroke="#cdbfca" stroke-width="4.6" stroke-linecap="round" stroke-linejoin="round"/><path d="M1264,1106 C1290,1112 1320,1108 1344,1116" fill="none" stroke="#f4eff3" stroke-width="2.4" stroke-linecap="round" stroke-linejoin="round"/><path d="M1134,1135 C1150,1140 1160,1150 1150,1165" fill="none" stroke="#cdbfca" stroke-width="4.6" stroke-linecap="round" stroke-linejoin="round"/><path d="M1134,1135 C1150,1140 1160,1150 1150,1165" fill="none" stroke="#f4eff3" stroke-width="2.4" stroke-linecap="round" stroke-linejoin="round"/><path d="M1090,1180 C1110,1180 1130,1176 1150,1182 C1170,1188 1180,1200 1210,1200" fill="none" stroke="#cdbfca" stroke-width="4.6" stroke-linecap="round" stroke-linejoin="round"/><path d="M1090,1180 C1110,1180 1130,1176 1150,1182 C1170,1188 1180,1200 1210,1200" fill="none" stroke="#f4eff3" stroke-width="2.4" stroke-linecap="round" stroke-linejoin="round"/><line x1="1090" y1="1180" x2="1118" y2="1179" stroke="#c9bcc6" stroke-width="7.4" stroke-linecap="round"/><line x1="1090" y1="1180" x2="1118" y2="1179" stroke="#f1ebf0" stroke-width="5" stroke-linecap="round"/><path d="M1089,1240 C1060,1238 1030,1240 1022,1258 C1016,1274 1040,1282 1060,1274" fill="none" stroke="#cdbfca" stroke-width="4.6" stroke-linecap="round" stroke-linejoin="round"/><path d="M1089,1240 C1060,1238 1030,1240 1022,1258 C1016,1274 1040,1282 1060,1274" fill="none" stroke="#f4eff3" stroke-width="2.4" stroke-linecap="round" stroke-linejoin="round"/><line x1="1060" y1="1239" x2="1089" y2="1240" stroke="#c9bcc6" stroke-width="7.4" stroke-linecap="round"/><line x1="1060" y1="1239" x2="1089" y2="1240" stroke="#f1ebf0" stroke-width="5" stroke-linecap="round"/><path d="M960,1252 C955,1262 950,1272 957,1280" fill="none" stroke="#cdbfca" stroke-width="5.2" stroke-linecap="round" stroke-linejoin="round"/><path d="M960,1252 C955,1262 950,1272 957,1280" fill="none" stroke="#f4eff3" stroke-width="3.0" stroke-linecap="round" stroke-linejoin="round"/><path d="M1218,1244 C1250,1248 1270,1250 1290,1240" fill="none" stroke="#cdbfca" stroke-width="4.6" stroke-linecap="round" stroke-linejoin="round"/><path d="M1218,1244 C1250,1248 1270,1250 1290,1240" fill="none" stroke="#f4eff3" stroke-width="2.4" stroke-linecap="round" stroke-linejoin="round"/><path d="M1300,1170 C1290,1160 1285,1156 1280,1160" fill="none" stroke="#cdbfca" stroke-width="4.6" stroke-linecap="round" stroke-linejoin="round"/><path d="M1300,1170 C1290,1160 1285,1156 1280,1160" fill="none" stroke="#f4eff3" stroke-width="2.4" stroke-linecap="round" stroke-linejoin="round"/><path d="M1366,1210 C1400,1212 1418,1200 1420,1180 C1422,1160 1410,1150 1392,1150" fill="none" stroke="#cdbfca" stroke-width="4.4" stroke-linecap="round" stroke-linejoin="round"/><path d="M1366,1210 C1400,1212 1418,1200 1420,1180 C1422,1160 1410,1150 1392,1150" fill="none" stroke="#f4eff3" stroke-width="2.1999999999999997" stroke-linecap="round" stroke-linejoin="round"/><path d="M1380,1300 C1376,1320 1360,1326 1350,1318" fill="none" stroke="#cdbfca" stroke-width="4.800000000000001" stroke-linecap="round" stroke-linejoin="round"/><path d="M1380,1300 C1376,1320 1360,1326 1350,1318" fill="none" stroke="#f4eff3" stroke-width="2.6" stroke-linecap="round" stroke-linejoin="round"/><path d="M1240,1140 C1230,1160 1220,1168 1212,1172" fill="none" stroke="#cdbfca" stroke-width="4.6" stroke-linecap="round" stroke-linejoin="round"/><path d="M1240,1140 C1230,1160 1220,1168 1212,1172" fill="none" stroke="#f4eff3" stroke-width="2.4" stroke-linecap="round" stroke-linejoin="round"/><path d="M1400,1120 C1430,1122 1440,1140 1436,1170" fill="none" stroke="#cdbfca" stroke-width="4.2" stroke-linecap="round" stroke-linejoin="round"/><path d="M1400,1120 C1430,1122 1440,1140 1436,1170" fill="none" stroke="#f4eff3" stroke-width="2.0" stroke-linecap="round" stroke-linejoin="round"/><path d="M1022,1110 L1022,1022 A27,28 0 0 1 1075,1018 L1075,1108 Z" fill="#ee6a2a"/><path d="M1014,1092 L1014,1030 A25,28 0 0 1 1064,1026 L1064,1092 Z" fill="#a87886"/><path d="M1014,1090 L1064,1090 L1064,1110 L1014,1110 Z" fill="#f26d2d"/><circle cx="1026" cy="1020" r="4.6" fill="#ffffff" filter="url(#blur1)"/><circle cx="1038" cy="1020" r="4.6" fill="#ffffff" filter="url(#blur1)"/><circle cx="1050" cy="1020" r="4.6" fill="#ffffff" filter="url(#blur1)"/><circle cx="1027.5" cy="1031" r="4.6" fill="#ffffff" filter="url(#blur1)"/><circle cx="1039.5" cy="1031" r="4.6" fill="#ffffff" filter="url(#blur1)"/><circle cx="1051.5" cy="1031" r="4.6" fill="#ffffff" filter="url(#blur1)"/><circle cx="1029" cy="1042" r="4.6" fill="#ffffff" filter="url(#blur1)"/><circle cx="1041" cy="1042" r="4.6" fill="#ffffff" filter="url(#blur1)"/><circle cx="1053" cy="1042" r="4.6" fill="#ffffff" filter="url(#blur1)"/><circle cx="1030.5" cy="1053" r="4.6" fill="#ffffff" filter="url(#blur1)"/><circle cx="1042.5" cy="1053" r="4.6" fill="#ffffff" filter="url(#blur1)"/><circle cx="1054.5" cy="1053" r="4.6" fill="#ffffff" filter="url(#blur1)"/><rect x="1018" y="1010" width="42" height="48" rx="14" fill="#ffffff" opacity="0.35" filter="url(#blur3)"/><polygon points="980.5,1158.9 980.7,1154.1 981.3,1149.3 981.8,1147.8 982.6,1146.7 983.6,1146 985,1145.4 986.7,1145 988.9,1144.7 991.8,1144.5 995.9,1144.5 1008.9,1144.9 1021.8,1145.4 1025.9,1145.7 1028.7,1146 1030.8,1146.5 1032.5,1147 1033.7,1147.7 1034.7,1148.5 1035.2,1149.6 1035.5,1151.2 1035.3,1156 1034.7,1160.8 1034.2,1162.3 1033.4,1163.3 1032.4,1164.1 1031,1164.7 1029.3,1165.1 1027.1,1165.4 1024.2,1165.6 1020.1,1165.6 1007.1,1165.2 994.2,1164.7 990.1,1164.4 987.3,1164 985.2,1163.6 983.5,1163.1 982.3,1162.4 981.4,1161.5 980.8,1160.5" fill="#8a8a96" opacity="0.28" filter="url(#blur3)"/><polygon points="977.5,1132.5 977.7,1127.7 978.3,1122.8 978.8,1121.3 979.6,1120.3 980.6,1119.5 982,1118.9 983.7,1118.5 985.9,1118.2 988.8,1118.1 992.9,1118 1005.9,1118.5 1018.8,1119 1022.9,1119.2 1025.7,1119.6 1027.8,1120 1029.5,1120.6 1030.7,1121.3 1031.7,1122.1 1032.2,1123.2 1032.5,1124.7 1032.5,1148.2 1032.3,1153 1031.7,1157.8 1031.2,1159.3 1030.4,1160.3 1029.4,1161.1 1028,1161.7 1026.3,1162.1 1024.1,1162.4 1021.2,1162.6 1017.1,1162.6 1004.1,1162.2 991.2,1161.7 987.1,1161.4 984.3,1161 982.2,1160.6 980.5,1160.1 979.3,1159.4 978.4,1158.5 977.8,1157.5 977.5,1155.9" fill="url(#gBrown)" stroke="#3d2330" stroke-width="0.9" stroke-opacity="0.55"/><polygon points="975.7,1129.2 976,1124 976.6,1118.9 977.1,1117.3 978,1116.2 979.1,1115.3 980.5,1114.7 982.4,1114.3 984.7,1114 987.8,1113.8 992.1,1113.8 1005.9,1114.2 1019.7,1114.7 1024,1115 1027,1115.4 1029.3,1115.9 1031,1116.5 1032.4,1117.2 1033.3,1118.1 1034,1119.2 1034.3,1120.8 1034.3,1126.8 1034,1132 1033.4,1137.1 1032.9,1138.7 1032,1139.8 1030.9,1140.7 1029.5,1141.3 1027.6,1141.7 1025.3,1142 1022.2,1142.2 1017.9,1142.2 1004.1,1141.8 990.3,1141.3 986,1141 983,1140.6 980.7,1140.1 979,1139.5 977.6,1138.8 976.6,1137.9 976,1136.8 975.7,1135.2" fill="url(#gPurS)" /><polygon points="1034,1126 1033.4,1131.1 1032.9,1132.7 1032,1133.8 1030.9,1134.7 1029.5,1135.3 1027.6,1135.7 1025.3,1136 1022.2,1136.2 1017.9,1136.2 1004.1,1135.8 990.3,1135.3 986,1135 983,1134.6 980.7,1134.1 979,1133.5 977.6,1132.8 976.7,1131.9 976,1130.8 975.7,1129.1 976,1124 976.6,1118.9 977.1,1117.3 978,1116.2 979.1,1115.3 980.5,1114.7 982.4,1114.3 984.7,1114 987.8,1113.8 992.1,1113.8 1005.9,1114.2 1019.7,1114.7 1024,1115 1027,1115.4 1029.3,1115.9 1031,1116.5 1032.4,1117.2 1033.3,1118.1 1034,1119.2 1034.3,1120.9" fill="url(#gPurT)" /><polygon points="1023,1125.6 1022.5,1130.7 1022.1,1132.2 1021.5,1133.3 1020.8,1134.1 1019.9,1134.8 1018.7,1135.2 1017.3,1135.6 1015.4,1135.8 1012.7,1135.8 1004.1,1135.6 995.6,1135.2 992.9,1135 991,1134.7 989.7,1134.2 988.6,1133.7 987.8,1133 987.2,1132.1 986.8,1131 986.7,1129.4 987,1124.4 987.5,1119.3 987.9,1117.8 988.5,1116.7 989.2,1115.9 990.1,1115.2 991.3,1114.8 992.7,1114.4 994.6,1114.2 997.3,1114.2 1005.9,1114.4 1014.4,1114.8 1017.1,1115 1019,1115.3 1020.3,1115.8 1021.4,1116.3 1022.2,1117 1022.8,1117.9 1023.2,1119 1023.3,1120.6" fill="#cfa0e4" opacity="0.28"/><ellipse cx="1003" cy="1118" rx="7" ry="6" fill="#35b4b6"/><polygon points="1087,1145 1087.4,1143.1 1088.5,1141.2 1090.3,1139.5 1092.8,1137.9 1095.9,1136.6 1099.5,1135.5 1103.5,1134.7 1107.7,1134.2 1112,1134 1116.3,1134.2 1120.5,1134.7 1124.5,1135.5 1128.1,1136.6 1131.2,1137.9 1133.7,1139.5 1135.5,1141.2 1136.6,1143.1 1137,1145 1136.6,1146.9 1135.5,1148.8 1133.7,1150.5 1131.2,1152.1 1128.1,1153.4 1124.5,1154.5 1120.5,1155.3 1116.3,1155.8 1112,1156 1107.7,1155.8 1103.5,1155.3 1099.5,1154.5 1095.9,1153.4 1092.8,1152.1 1090.3,1150.5 1088.5,1148.8 1087.4,1146.9" fill="#8a8a96" opacity="0.22" filter="url(#blur3)"/><polygon points="1084,1122 1084.4,1120.1 1085.5,1118.2 1087.3,1116.5 1089.8,1114.9 1092.9,1113.6 1096.5,1112.5 1100.5,1111.7 1104.7,1111.2 1109,1111 1113.3,1111.2 1117.5,1111.7 1121.5,1112.5 1125.1,1113.6 1128.2,1114.9 1130.7,1116.5 1132.5,1118.2 1133.6,1120.1 1134,1122 1134,1142 1133.6,1143.9 1132.5,1145.8 1130.7,1147.5 1128.2,1149.1 1125.1,1150.4 1121.5,1151.5 1117.5,1152.3 1113.3,1152.8 1109,1153 1104.7,1152.8 1100.5,1152.3 1096.5,1151.5 1092.9,1150.4 1089.8,1149.1 1087.3,1147.5 1085.5,1145.8 1084.4,1143.9 1084,1142" fill="url(#gOrS)" /><polygon points="1134,1122 1133.6,1123.9 1132.5,1125.8 1130.7,1127.5 1128.2,1129.1 1125.1,1130.4 1121.5,1131.5 1117.6,1132.3 1113.3,1132.8 1109,1133 1104.7,1132.8 1100.4,1132.3 1096.5,1131.5 1092.9,1130.4 1089.8,1129.1 1087.3,1127.5 1085.5,1125.8 1084.4,1123.9 1084,1122 1084.4,1120.1 1085.5,1118.2 1087.3,1116.5 1089.8,1114.9 1092.9,1113.6 1096.5,1112.5 1100.4,1111.7 1104.7,1111.2 1109,1111 1113.3,1111.2 1117.6,1111.7 1121.5,1112.5 1125.1,1113.6 1128.2,1114.9 1130.7,1116.5 1132.5,1118.2 1133.6,1120.1" fill="url(#gOrT)" /><ellipse cx="1109" cy="1122" rx="20.5" ry="8.5" fill="#ff8f52"/><line x1="1096" y1="1150" x2="1102" y2="1136" stroke="#c9bcc6" stroke-width="7.4" stroke-linecap="round"/><line x1="1096" y1="1150" x2="1102" y2="1136" stroke="#f1ebf0" stroke-width="5" stroke-linecap="round"/><polygon points="1022,1207 1022.5,1203.3 1024.2,1199.8 1026.8,1196.5 1030.4,1193.5 1034.9,1190.9 1040,1188.8 1045.7,1187.3 1051.8,1186.3 1058,1186 1064.2,1186.3 1070.3,1187.3 1076,1188.8 1081.1,1190.9 1085.6,1193.5 1089.2,1196.5 1091.8,1199.8 1093.5,1203.3 1094,1207 1093.5,1210.7 1091.8,1214.2 1089.2,1217.5 1085.6,1220.5 1081.1,1223.1 1076,1225.2 1070.3,1226.7 1064.2,1227.7 1058,1228 1051.8,1227.7 1045.7,1226.7 1040,1225.2 1034.9,1223.1 1030.4,1220.5 1026.8,1217.5 1024.2,1214.2 1022.5,1210.7" fill="#8a8a96" opacity="0.22" filter="url(#blur3)"/><polygon points="1019,1152 1019.5,1148.3 1021.2,1144.8 1023.8,1141.5 1027.4,1138.5 1031.9,1135.9 1037,1133.8 1042.7,1132.3 1048.8,1131.3 1055,1131 1061.2,1131.3 1067.3,1132.3 1073,1133.8 1078.1,1135.9 1082.6,1138.5 1086.2,1141.5 1088.8,1144.8 1090.5,1148.3 1091,1152 1091,1204 1090.5,1207.7 1088.8,1211.2 1086.2,1214.5 1082.6,1217.5 1078.1,1220.1 1073,1222.2 1067.3,1223.7 1061.2,1224.7 1055,1225 1048.8,1224.7 1042.7,1223.7 1037,1222.2 1031.9,1220.1 1027.4,1217.5 1023.8,1214.5 1021.2,1211.2 1019.5,1207.7 1019,1204" fill="url(#gMauveD)" /><polygon points="1091,1152 1090.5,1155.6 1088.8,1159.2 1086.2,1162.5 1082.6,1165.5 1078.1,1168.1 1073,1170.2 1067.3,1171.7 1061.3,1172.7 1055,1173 1048.7,1172.7 1042.7,1171.7 1037,1170.2 1031.9,1168.1 1027.4,1165.5 1023.8,1162.5 1021.2,1159.2 1019.5,1155.6 1019,1152 1019.5,1148.4 1021.2,1144.8 1023.8,1141.5 1027.4,1138.5 1031.9,1135.9 1037,1133.8 1042.7,1132.3 1048.7,1131.3 1055,1131 1061.3,1131.3 1067.3,1132.3 1073,1133.8 1078.1,1135.9 1082.6,1138.5 1086.2,1141.5 1088.8,1144.8 1090.5,1148.4" fill="url(#gTealT)" /><path d="M1019,1194 A36,21 0 0 0 1091,1194 L1091,1206 A36,21 0 0 1 1019,1206 Z" fill="#35b4b6"/><ellipse cx="1055" cy="1152" rx="36" ry="21" fill="#3fbdbb"/><ellipse cx="1055" cy="1152" rx="29" ry="16" fill="#b9a4ba"/><ellipse cx="1055" cy="1153" rx="23" ry="12.5" fill="#8e7390"/><ellipse cx="1055" cy="1154" rx="7" ry="4" fill="#c9b8cc"/><line x1="1063" y1="1153" x2="1080.8" y2="1156.4" stroke="#d8c9dc" stroke-width="1.4"/><line x1="1062.2" y1="1155" x2="1074.8" y2="1162.2" stroke="#d8c9dc" stroke-width="1.4"/><line x1="1060" y1="1156.5" x2="1064.8" y2="1166" stroke="#d8c9dc" stroke-width="1.4"/><line x1="1056.8" y1="1157.4" x2="1053" y2="1167" stroke="#d8c9dc" stroke-width="1.4"/><line x1="1053.2" y1="1157.4" x2="1041.5" y2="1165" stroke="#d8c9dc" stroke-width="1.4"/><line x1="1050" y1="1156.5" x2="1032.7" y2="1160.4" stroke="#d8c9dc" stroke-width="1.4"/><line x1="1047.8" y1="1155" x2="1028.3" y2="1154.2" stroke="#d8c9dc" stroke-width="1.4"/><line x1="1047" y1="1153" x2="1029.2" y2="1147.6" stroke="#d8c9dc" stroke-width="1.4"/><line x1="1047.8" y1="1151" x2="1035.2" y2="1141.8" stroke="#d8c9dc" stroke-width="1.4"/><line x1="1050" y1="1149.5" x2="1045.2" y2="1138" stroke="#d8c9dc" stroke-width="1.4"/><line x1="1053.2" y1="1148.6" x2="1057" y2="1137" stroke="#d8c9dc" stroke-width="1.4"/><line x1="1056.8" y1="1148.6" x2="1068.5" y2="1139" stroke="#d8c9dc" stroke-width="1.4"/><line x1="1060" y1="1149.5" x2="1077.3" y2="1143.6" stroke="#d8c9dc" stroke-width="1.4"/><line x1="1062.2" y1="1151" x2="1081.7" y2="1149.8" stroke="#d8c9dc" stroke-width="1.4"/><polygon points="951.9,1255.3 952.2,1254.1 952.9,1252.8 954.2,1251.3 956.2,1249.2 963.3,1242.9 970.5,1236.7 973,1234.8 974.9,1233.6 976.5,1232.8 978,1232.3 979.6,1232.1 981.1,1232.2 982.8,1232.6 984.9,1233.4 991,1236.5 997,1239.8 998.7,1241 999.6,1242.1 1000.1,1243.1 1000.1,1244.1 999.8,1245.3 999.1,1246.6 997.8,1248.1 995.8,1250.2 988.7,1256.5 981.5,1262.7 979,1264.6 977.1,1265.8 975.5,1266.5 974,1267 972.4,1267.3 970.9,1267.2 969.2,1266.8 967.1,1266 961,1262.9 955,1259.6 953.3,1258.4 952.4,1257.3 951.9,1256.3" fill="#8a8a96" opacity="0.28" filter="url(#blur3)"/><polygon points="948.9,1222.1 949.2,1220.9 949.9,1219.6 951.2,1218.1 953.2,1216 960.3,1209.7 967.5,1203.5 970,1201.6 971.9,1200.4 973.5,1199.6 975,1199.2 976.6,1198.9 978.1,1199 979.8,1199.4 981.9,1200.2 988,1203.3 994,1206.6 995.7,1207.8 996.6,1208.9 997.1,1209.9 997.1,1210.9 997.1,1241.1 996.8,1242.3 996.1,1243.6 994.8,1245.1 992.8,1247.2 985.7,1253.5 978.5,1259.7 976,1261.6 974.1,1262.8 972.5,1263.5 971,1264 969.4,1264.3 967.9,1264.2 966.2,1263.8 964.1,1263 958,1259.9 952,1256.6 950.3,1255.4 949.4,1254.3 948.9,1253.3 948.9,1252.3" fill="url(#gBrown)" stroke="#3d2330" stroke-width="0.9" stroke-opacity="0.55"/><polygon points="947.3,1217.9 947.7,1216.7 948.4,1215.3 949.8,1213.7 952,1211.5 959.5,1204.8 967.2,1198.2 969.8,1196.2 971.8,1194.9 973.5,1194.1 975.2,1193.5 976.8,1193.3 978.4,1193.4 980.2,1193.8 982.5,1194.6 989,1198 995.4,1201.5 997.1,1202.8 998.1,1203.9 998.6,1205 998.7,1206.1 998.7,1213.6 998.3,1214.8 997.6,1216.2 996.2,1217.8 994,1220 986.5,1226.7 978.8,1233.3 976.2,1235.3 974.2,1236.6 972.5,1237.4 970.8,1238 969.2,1238.2 967.6,1238.1 965.8,1237.7 963.5,1236.9 957,1233.5 950.6,1230 948.9,1228.7 947.9,1227.6 947.4,1226.5 947.3,1225.4" fill="url(#gPurS)" /><polygon points="989,1198 995.3,1201.5 997.1,1202.8 998.1,1203.9 998.6,1205 998.7,1206.1 998.3,1207.3 997.6,1208.7 996.2,1210.3 994.1,1212.5 986.5,1219.2 978.8,1225.8 976.2,1227.8 974.2,1229.1 972.5,1229.9 970.8,1230.5 969.2,1230.7 967.6,1230.6 965.8,1230.2 963.5,1229.4 957,1226 950.7,1222.5 948.9,1221.2 947.9,1220.1 947.4,1219 947.3,1217.9 947.7,1216.7 948.4,1215.3 949.8,1213.7 951.9,1211.5 959.5,1204.8 967.2,1198.2 969.8,1196.2 971.8,1194.9 973.5,1194.1 975.2,1193.5 976.8,1193.3 978.4,1193.4 980.2,1193.8 982.5,1194.6" fill="url(#gPurT)" /><polygon points="982.9,1203.3 989.2,1206.7 991,1207.9 992.1,1208.9 992.8,1209.7 993.2,1210.6 993.2,1211.5 992.9,1212.4 992.2,1213.5 990.9,1214.9 986.2,1219.1 981.4,1223.2 979.8,1224.3 978.4,1225.1 977.1,1225.5 975.9,1225.7 974.6,1225.7 973.2,1225.4 971.5,1224.9 969.4,1224 963.1,1220.7 956.8,1217.3 955,1216.1 953.9,1215.1 953.2,1214.3 952.8,1213.4 952.8,1212.5 953.1,1211.6 953.8,1210.5 955.1,1209.1 959.8,1204.9 964.6,1200.8 966.2,1199.7 967.6,1198.9 968.9,1198.5 970.1,1198.3 971.4,1198.3 972.8,1198.6 974.5,1199.1 976.6,1200" fill="#cfa0e4" opacity="0.28"/><polygon points="963,1204 972,1200 976,1208 967,1212" fill="#2fb3c6"/><line x1="950" y1="1262" x2="962" y2="1246" stroke="#c9bcc6" stroke-width="9.4" stroke-linecap="round"/><line x1="950" y1="1262" x2="962" y2="1246" stroke="#f1ebf0" stroke-width="7" stroke-linecap="round"/><polygon points="856.9,1220.1 857.5,1217.9 858.6,1216.1 860.2,1214.6 862.4,1213.3 865.1,1212.2 868.4,1211.4 872.3,1210.7 877.3,1210.2 886.1,1209.8 894.8,1209.7 899.8,1209.8 903.9,1210.3 907.3,1210.9 910.1,1211.8 912.5,1213 914.3,1214.4 915.7,1216.1 916.6,1218.2 917.1,1222.1 917.1,1225.9 916.5,1228.1 915.4,1229.9 913.8,1231.4 911.6,1232.7 908.9,1233.8 905.6,1234.6 901.7,1235.3 896.7,1235.8 887.9,1236.2 879.2,1236.3 874.2,1236.2 870.1,1235.7 866.7,1235.1 863.9,1234.2 861.5,1233 859.7,1231.6 858.3,1229.9 857.4,1227.8 856.9,1223.9" fill="#8a8a96" opacity="0.28" filter="url(#blur3)"/><polygon points="852,1194.9 852.6,1192.6 853.8,1190.7 855.5,1189 857.8,1187.7 860.7,1186.5 864.2,1185.6 868.4,1184.9 873.7,1184.4 883,1184 892.3,1183.8 897.7,1184 902,1184.5 905.6,1185.1 908.6,1186.1 911.1,1187.3 913,1188.8 914.5,1190.6 915.5,1192.9 916,1197 916,1201.1 916,1223.1 915.4,1225.4 914.2,1227.3 912.5,1229 910.2,1230.3 907.3,1231.5 903.8,1232.4 899.6,1233.1 894.3,1233.6 885,1234 875.7,1234.2 870.3,1234 866,1233.5 862.4,1232.9 859.4,1231.9 856.9,1230.7 855,1229.2 853.5,1227.4 852.5,1225.1 852,1221 852,1216.9" fill="url(#gOrS)" /><polygon points="916,1197 916,1201.1 915.4,1203.4 914.2,1205.3 912.5,1207 910.2,1208.3 907.3,1209.5 903.8,1210.4 899.6,1211.1 894.3,1211.6 885,1212 875.7,1212.2 870.3,1212 866,1211.6 862.4,1210.9 859.4,1209.9 856.9,1208.7 855,1207.2 853.5,1205.4 852.6,1203.1 852,1199 852,1194.9 852.6,1192.6 853.8,1190.7 855.5,1189 857.8,1187.7 860.7,1186.5 864.2,1185.6 868.4,1184.9 873.7,1184.4 883,1184 892.3,1183.8 897.7,1184 902,1184.4 905.6,1185.1 908.6,1186.1 911.1,1187.3 913,1188.8 914.5,1190.6 915.4,1192.9" fill="url(#gOrT)" /><polygon points="903.8,1197.4 904,1201.4 903.6,1203.7 902.9,1205.5 901.9,1207.1 900.5,1208.4 898.8,1209.5 896.6,1210.3 894,1211 890.7,1211.4 885,1211.7 879.2,1211.8 875.9,1211.6 873.2,1211.1 870.9,1210.3 869,1209.4 867.5,1208.2 866.2,1206.7 865.3,1204.9 864.6,1202.6 864.2,1198.6 864,1194.6 864.4,1192.3 865.1,1190.5 866.1,1188.9 867.5,1187.6 869.2,1186.5 871.4,1185.7 874,1185 877.3,1184.6 883,1184.3 888.8,1184.2 892.1,1184.4 894.8,1184.9 897.1,1185.7 899,1186.6 900.5,1187.8 901.8,1189.3 902.7,1191.1 903.4,1193.4" fill="#ff9a66" opacity="0.28"/><text x="-11" y="3" font-family="Liberation Sans,sans-serif" font-size="8" font-weight="bold" fill="#ffd9c0" transform="translate(884 1197) rotate(184)">100Ω</text><ellipse cx="917" cy="1216" rx="5" ry="9" fill="#e85a20"/><polygon points="830.9,1279.8 831.5,1277.5 832.6,1275.5 834.2,1273.9 836.4,1272.5 839.1,1271.4 842.4,1270.5 846.3,1269.8 851.3,1269.3 860.1,1268.9 868.8,1268.7 873.8,1268.9 877.9,1269.4 881.3,1270.1 884.1,1271.1 886.5,1272.3 888.3,1273.8 889.7,1275.7 890.6,1278 891.1,1282.1 891.1,1286.2 890.5,1288.5 889.4,1290.5 887.8,1292.1 885.6,1293.5 882.9,1294.6 879.6,1295.5 875.7,1296.2 870.7,1296.7 861.9,1297.1 853.2,1297.3 848.2,1297.1 844.1,1296.6 840.7,1295.9 837.9,1294.9 835.5,1293.7 833.7,1292.2 832.3,1290.3 831.4,1288 830.9,1283.9" fill="#8a8a96" opacity="0.28" filter="url(#blur3)"/><polygon points="826,1254.6 826.6,1252.1 827.8,1250.1 829.5,1248.3 831.8,1246.9 834.7,1245.7 838.2,1244.7 842.4,1244 847.7,1243.4 857,1243 866.3,1242.8 871.7,1243 876,1243.5 879.6,1244.3 882.6,1245.3 885.1,1246.6 887,1248.2 888.5,1250.2 889.5,1252.7 890,1257 890,1261.4 890,1283.4 889.4,1285.9 888.2,1287.9 886.5,1289.7 884.2,1291.1 881.3,1292.3 877.8,1293.3 873.6,1294 868.3,1294.6 859,1295 849.7,1295.2 844.3,1295 840,1294.5 836.4,1293.7 833.4,1292.7 830.9,1291.4 829,1289.8 827.5,1287.8 826.5,1285.3 826,1281 826,1276.6" fill="url(#gOrS)" /><polygon points="890,1257 890,1261.4 889.4,1263.9 888.2,1265.9 886.5,1267.7 884.2,1269.1 881.3,1270.3 877.8,1271.3 873.6,1272 868.3,1272.6 859,1273 849.7,1273.2 844.3,1273 840,1272.5 836.4,1271.7 833.4,1270.7 830.9,1269.4 829,1267.8 827.5,1265.8 826.6,1263.3 826,1259 826,1254.6 826.6,1252.1 827.8,1250.1 829.5,1248.3 831.8,1246.9 834.7,1245.7 838.2,1244.7 842.4,1244 847.7,1243.4 857,1243 866.3,1242.8 871.7,1243 876,1243.5 879.6,1244.3 882.6,1245.3 885.1,1246.6 887,1248.2 888.5,1250.2 889.4,1252.7" fill="url(#gOrT)" /><polygon points="877.8,1257.4 878,1261.7 877.6,1264.1 876.9,1266.1 875.9,1267.8 874.5,1269.2 872.8,1270.3 870.6,1271.2 868,1271.9 864.7,1272.4 859,1272.7 853.2,1272.8 849.9,1272.5 847.2,1272 844.9,1271.2 843,1270.2 841.5,1268.9 840.2,1267.3 839.3,1265.3 838.6,1262.9 838.2,1258.6 838,1254.3 838.4,1251.9 839.1,1249.9 840.1,1248.2 841.5,1246.8 843.2,1245.7 845.4,1244.8 848,1244.1 851.3,1243.6 857,1243.3 862.8,1243.2 866.1,1243.5 868.8,1244 871.1,1244.8 873,1245.8 874.5,1247.1 875.8,1248.7 876.7,1250.7 877.4,1253.1" fill="#ff9a66" opacity="0.28"/><text x="-9" y="3" font-family="Liberation Sans,sans-serif" font-size="8" font-weight="bold" fill="#ffd9c0" transform="translate(858 1257) rotate(184)">10Ω</text><ellipse cx="891" cy="1276" rx="5" ry="9" fill="#e85a20"/><polygon points="1164.5,1127.2 1165.2,1122.2 1166.3,1117.2 1167.2,1116 1168.4,1115.2 1170,1114.7 1172.1,1114.3 1174.8,1114.1 1178.3,1114.1 1183,1114.3 1189.8,1114.7 1216.7,1116.7 1243.5,1118.7 1250.3,1119.3 1254.9,1119.9 1258.3,1120.4 1260.9,1121 1262.8,1121.7 1264.2,1122.4 1265.1,1123.4 1265.5,1124.7 1264.8,1129.7 1263.7,1134.7 1262.8,1136 1261.6,1136.7 1260,1137.3 1257.9,1137.6 1255.2,1137.8 1251.7,1137.8 1247,1137.7 1240.2,1137.2 1213.3,1135.3 1186.5,1133.2 1179.7,1132.6 1175.1,1132 1171.7,1131.5 1169.1,1130.9 1167.2,1130.2 1165.8,1129.5 1164.9,1128.5" fill="#8a8a96" opacity="0.28" filter="url(#blur3)"/><polygon points="1161.5,1097.3 1162.2,1092.3 1163.3,1087.3 1164.2,1086.1 1165.4,1085.3 1167,1084.8 1169.1,1084.4 1171.8,1084.2 1175.3,1084.2 1180,1084.4 1186.8,1084.8 1213.7,1086.7 1240.5,1088.8 1247.3,1089.4 1251.9,1090 1255.3,1090.5 1257.9,1091.1 1259.8,1091.8 1261.2,1092.5 1262.1,1093.5 1262.5,1094.8 1262.5,1121.7 1261.8,1126.7 1260.7,1131.7 1259.8,1133 1258.6,1133.7 1257,1134.3 1254.9,1134.6 1252.2,1134.8 1248.7,1134.8 1244,1134.7 1237.2,1134.2 1210.3,1132.3 1183.5,1130.2 1176.7,1129.6 1172.1,1129 1168.7,1128.5 1166.1,1127.9 1164.2,1127.2 1162.8,1126.5 1161.9,1125.5 1161.5,1124.2" fill="url(#gBrownD)" stroke="#3d2330" stroke-width="0.9" stroke-opacity="0.55"/><polygon points="1158.2,1093.3 1159,1088 1160.2,1082.7 1161.1,1081.4 1162.4,1080.5 1164.1,1080 1166.4,1079.6 1169.3,1079.4 1173,1079.4 1177.9,1079.6 1185.2,1080 1213.8,1082.1 1242.3,1084.3 1249.6,1085 1254.5,1085.5 1258.1,1086.1 1260.8,1086.7 1262.9,1087.4 1264.4,1088.2 1265.3,1089.2 1265.8,1090.7 1265.8,1097.4 1265,1102.8 1263.8,1108.1 1262.9,1109.4 1261.6,1110.2 1259.9,1110.8 1257.6,1111.1 1254.7,1111.3 1251,1111.3 1246.1,1111.2 1238.8,1110.8 1210.2,1108.7 1181.7,1106.5 1174.4,1105.8 1169.5,1105.2 1165.9,1104.6 1163.2,1104 1161.1,1103.3 1159.6,1102.5 1158.7,1101.5 1158.2,1100.1" fill="url(#gOrS)" /><polygon points="1265,1096 1263.8,1101.3 1262.9,1102.6 1261.6,1103.5 1259.9,1104 1257.6,1104.4 1254.7,1104.6 1251,1104.6 1246.1,1104.4 1238.8,1104 1210.2,1101.9 1181.6,1099.7 1174.4,1099 1169.5,1098.5 1165.9,1097.9 1163.2,1097.3 1161.1,1096.6 1159.6,1095.8 1158.7,1094.8 1158.2,1093.4 1159,1088 1160.2,1082.7 1161.1,1081.4 1162.4,1080.5 1164.1,1080 1166.4,1079.6 1169.3,1079.4 1173,1079.4 1177.9,1079.6 1185.2,1080 1213.8,1082.1 1242.4,1084.3 1249.6,1085 1254.5,1085.5 1258.1,1086.1 1260.8,1086.7 1262.9,1087.4 1264.4,1088.2 1265.3,1089.2 1265.8,1090.6" fill="url(#gOrT)" /><polygon points="1244.9,1094.5 1243.8,1099.7 1243.1,1101 1242.3,1101.8 1241.1,1102.4 1239.7,1102.9 1237.9,1103.1 1235.6,1103.2 1232.5,1103.2 1227.9,1103 1210.2,1101.7 1192.5,1100.3 1188,1099.9 1185,1099.4 1182.8,1099 1181.2,1098.4 1179.9,1097.8 1179,1097.1 1178.5,1096.1 1178.3,1094.8 1179.1,1089.5 1180.2,1084.3 1180.9,1083 1181.7,1082.2 1182.9,1081.6 1184.3,1081.1 1186.1,1080.9 1188.4,1080.8 1191.5,1080.8 1196.1,1081 1213.8,1082.3 1231.5,1083.7 1236,1084.1 1239,1084.6 1241.2,1085 1242.8,1085.6 1244.1,1086.2 1245,1086.9 1245.5,1087.9 1245.7,1089.2" fill="#ff9a66" opacity="0.28"/><ellipse cx="1203" cy="1088.0" rx="5" ry="3.3" fill="#c9bfd0"/><ellipse cx="1219" cy="1089.5" rx="5" ry="3.3" fill="#c9bfd0"/><ellipse cx="1236" cy="1091.0" rx="5" ry="3.3" fill="#c9bfd0"/><polygon points="1347.9,1151.5 1348.6,1147.1 1349.5,1142.7 1350.1,1141.3 1350.9,1140.4 1351.9,1139.7 1353.2,1139.2 1354.8,1138.9 1356.8,1138.7 1359.4,1138.7 1363,1138.8 1374.7,1139.7 1386.3,1140.6 1389.9,1141 1392.4,1141.4 1394.3,1141.9 1395.8,1142.5 1396.8,1143.2 1397.6,1144 1398,1145 1398.1,1146.4 1397.4,1150.8 1396.5,1155.3 1395.9,1156.6 1395.1,1157.5 1394.1,1158.2 1392.8,1158.7 1391.2,1159 1389.2,1159.2 1386.6,1159.2 1383,1159.1 1371.3,1158.3 1359.7,1157.3 1356.1,1156.9 1353.6,1156.5 1351.7,1156 1350.2,1155.4 1349.2,1154.8 1348.4,1154 1348,1152.9" fill="#8a8a96" opacity="0.28" filter="url(#blur3)"/><polygon points="1344.9,1114.6 1345.6,1110.2 1346.5,1105.8 1347.1,1104.4 1347.9,1103.5 1348.9,1102.8 1350.2,1102.3 1351.8,1102 1353.8,1101.8 1356.4,1101.8 1360,1101.9 1371.7,1102.7 1383.3,1103.7 1386.9,1104.1 1389.4,1104.5 1391.3,1105 1392.8,1105.6 1393.8,1106.2 1394.6,1107.1 1395,1108.1 1395.1,1109.5 1395.1,1143.4 1394.4,1147.8 1393.5,1152.3 1392.9,1153.6 1392.1,1154.5 1391.1,1155.2 1389.8,1155.7 1388.2,1156 1386.2,1156.2 1383.6,1156.2 1380,1156.1 1368.3,1155.3 1356.7,1154.3 1353.1,1153.9 1350.6,1153.5 1348.7,1153 1347.2,1152.4 1346.2,1151.8 1345.4,1151 1345,1149.9 1344.9,1148.5" fill="url(#gBrownD)" stroke="#3d2330" stroke-width="0.9" stroke-opacity="0.55"/><polygon points="1343.3,1110.7 1344,1106 1345,1101.3 1345.6,1099.8 1346.5,1098.9 1347.6,1098.2 1348.9,1097.6 1350.6,1097.3 1352.8,1097.1 1355.5,1097 1359.4,1097.2 1371.8,1098.1 1384.2,1099.1 1388,1099.5 1390.7,1100 1392.7,1100.5 1394.2,1101.1 1395.3,1101.8 1396.1,1102.7 1396.6,1103.8 1396.7,1105.3 1396.7,1112 1396,1116.8 1395,1121.5 1394.4,1122.9 1393.5,1123.9 1392.4,1124.6 1391.1,1125.1 1389.4,1125.5 1387.2,1125.7 1384.5,1125.7 1380.6,1125.5 1368.2,1124.7 1355.8,1123.7 1352,1123.2 1349.3,1122.8 1347.3,1122.2 1345.8,1121.6 1344.7,1120.9 1343.9,1120.1 1343.4,1119 1343.3,1117.5" fill="url(#gOrS)" /><polygon points="1396,1110 1395,1114.7 1394.4,1116.1 1393.5,1117.1 1392.4,1117.8 1391.1,1118.4 1389.4,1118.7 1387.2,1118.9 1384.5,1119 1380.6,1118.8 1368.2,1117.9 1355.8,1116.9 1352,1116.5 1349.3,1116 1347.3,1115.5 1345.8,1114.9 1344.7,1114.2 1343.9,1113.3 1343.4,1112.2 1343.3,1110.7 1344,1106 1345,1101.3 1345.6,1099.9 1346.5,1098.9 1347.6,1098.2 1348.9,1097.6 1350.6,1097.3 1352.8,1097.1 1355.5,1097 1359.4,1097.2 1371.8,1098.1 1384.2,1099.1 1388,1099.5 1390.7,1100 1392.7,1100.5 1394.2,1101.1 1395.3,1101.8 1396.1,1102.7 1396.6,1103.8 1396.7,1105.3" fill="url(#gOrT)" /><polygon points="1386.1,1109.2 1385.2,1113.9 1384.7,1115.3 1384.1,1116.3 1383.4,1117 1382.5,1117.5 1381.4,1117.9 1380.1,1118.2 1378.3,1118.3 1375.9,1118.2 1368.2,1117.7 1360.6,1117.1 1358.2,1116.7 1356.6,1116.4 1355.3,1115.9 1354.4,1115.4 1353.8,1114.7 1353.3,1113.9 1353.1,1112.8 1353.1,1111.4 1353.9,1106.8 1354.8,1102.1 1355.3,1100.7 1355.9,1099.7 1356.6,1099 1357.5,1098.5 1358.6,1098.1 1359.9,1097.8 1361.7,1097.7 1364.1,1097.8 1371.8,1098.3 1379.4,1098.9 1381.8,1099.3 1383.4,1099.6 1384.7,1100.1 1385.6,1100.6 1386.2,1101.3 1386.7,1102.1 1386.9,1103.2 1386.9,1104.6" fill="#ff9a66" opacity="0.28"/><path d="M1358,1090 L1384,1090 L1380,1108 L1362,1108 Z" fill="#f08a3a"/><circle cx="1375" cy="1046" r="47" fill="url(#gFanW)" stroke="#dcdce4" stroke-width="1.5"/><line x1="1389" y1="1046" x2="1418" y2="1046" stroke="#d2d2dc" stroke-width="1.3"/><line x1="1388.5" y1="1049.6" x2="1416.5" y2="1057.1" stroke="#d2d2dc" stroke-width="1.3"/><line x1="1387.1" y1="1053" x2="1412.2" y2="1067.5" stroke="#d2d2dc" stroke-width="1.3"/><line x1="1384.9" y1="1055.9" x2="1405.4" y2="1076.4" stroke="#d2d2dc" stroke-width="1.3"/><line x1="1382" y1="1058.1" x2="1396.5" y2="1083.2" stroke="#d2d2dc" stroke-width="1.3"/><line x1="1378.6" y1="1059.5" x2="1386.1" y2="1087.5" stroke="#d2d2dc" stroke-width="1.3"/><line x1="1375" y1="1060" x2="1375" y2="1089" stroke="#d2d2dc" stroke-width="1.3"/><line x1="1371.4" y1="1059.5" x2="1363.9" y2="1087.5" stroke="#d2d2dc" stroke-width="1.3"/><line x1="1368" y1="1058.1" x2="1353.5" y2="1083.2" stroke="#d2d2dc" stroke-width="1.3"/><line x1="1365.1" y1="1055.9" x2="1344.6" y2="1076.4" stroke="#d2d2dc" stroke-width="1.3"/><line x1="1362.9" y1="1053" x2="1337.8" y2="1067.5" stroke="#d2d2dc" stroke-width="1.3"/><line x1="1361.5" y1="1049.6" x2="1333.5" y2="1057.1" stroke="#d2d2dc" stroke-width="1.3"/><line x1="1361" y1="1046" x2="1332" y2="1046" stroke="#d2d2dc" stroke-width="1.3"/><line x1="1361.5" y1="1042.4" x2="1333.5" y2="1034.9" stroke="#d2d2dc" stroke-width="1.3"/><line x1="1362.9" y1="1039" x2="1337.8" y2="1024.5" stroke="#d2d2dc" stroke-width="1.3"/><line x1="1365.1" y1="1036.1" x2="1344.6" y2="1015.6" stroke="#d2d2dc" stroke-width="1.3"/><line x1="1368" y1="1033.9" x2="1353.5" y2="1008.8" stroke="#d2d2dc" stroke-width="1.3"/><line x1="1371.4" y1="1032.5" x2="1363.9" y2="1004.5" stroke="#d2d2dc" stroke-width="1.3"/><line x1="1375" y1="1032" x2="1375" y2="1003" stroke="#d2d2dc" stroke-width="1.3"/><line x1="1378.6" y1="1032.5" x2="1386.1" y2="1004.5" stroke="#d2d2dc" stroke-width="1.3"/><line x1="1382" y1="1033.9" x2="1396.5" y2="1008.8" stroke="#d2d2dc" stroke-width="1.3"/><line x1="1384.9" y1="1036.1" x2="1405.4" y2="1015.6" stroke="#d2d2dc" stroke-width="1.3"/><line x1="1387.1" y1="1039" x2="1412.2" y2="1024.5" stroke="#d2d2dc" stroke-width="1.3"/><line x1="1388.5" y1="1042.4" x2="1416.5" y2="1034.9" stroke="#d2d2dc" stroke-width="1.3"/><circle cx="1375" cy="1046" r="13" fill="#f6f6f9" stroke="#d8d8e0" stroke-width="1"/><polygon points="1252,1165 1252.4,1163.1 1253.5,1161.2 1255.3,1159.5 1257.8,1157.9 1260.9,1156.6 1264.5,1155.5 1268.5,1154.7 1272.7,1154.2 1277,1154 1281.3,1154.2 1285.5,1154.7 1289.5,1155.5 1293.1,1156.6 1296.2,1157.9 1298.7,1159.5 1300.5,1161.2 1301.6,1163.1 1302,1165 1301.6,1166.9 1300.5,1168.8 1298.7,1170.5 1296.2,1172.1 1293.1,1173.4 1289.5,1174.5 1285.5,1175.3 1281.3,1175.8 1277,1176 1272.7,1175.8 1268.5,1175.3 1264.5,1174.5 1260.9,1173.4 1257.8,1172.1 1255.3,1170.5 1253.5,1168.8 1252.4,1166.9" fill="#8a8a96" opacity="0.22" filter="url(#blur3)"/><polygon points="1249,1140 1249.4,1138.1 1250.5,1136.2 1252.3,1134.5 1254.8,1132.9 1257.9,1131.6 1261.5,1130.5 1265.5,1129.7 1269.7,1129.2 1274,1129 1278.3,1129.2 1282.5,1129.7 1286.5,1130.5 1290.1,1131.6 1293.2,1132.9 1295.7,1134.5 1297.5,1136.2 1298.6,1138.1 1299,1140 1299,1162 1298.6,1163.9 1297.5,1165.8 1295.7,1167.5 1293.2,1169.1 1290.1,1170.4 1286.5,1171.5 1282.5,1172.3 1278.3,1172.8 1274,1173 1269.7,1172.8 1265.5,1172.3 1261.5,1171.5 1257.9,1170.4 1254.8,1169.1 1252.3,1167.5 1250.5,1165.8 1249.4,1163.9 1249,1162" fill="url(#gOrS)" /><polygon points="1299,1140 1298.6,1141.9 1297.5,1143.8 1295.7,1145.5 1293.2,1147.1 1290.1,1148.4 1286.5,1149.5 1282.6,1150.3 1278.3,1150.8 1274,1151 1269.7,1150.8 1265.4,1150.3 1261.5,1149.5 1257.9,1148.4 1254.8,1147.1 1252.3,1145.5 1250.5,1143.8 1249.4,1141.9 1249,1140 1249.4,1138.1 1250.5,1136.2 1252.3,1134.5 1254.8,1132.9 1257.9,1131.6 1261.5,1130.5 1265.4,1129.7 1269.7,1129.2 1274,1129 1278.3,1129.2 1282.6,1129.7 1286.5,1130.5 1290.1,1131.6 1293.2,1132.9 1295.7,1134.5 1297.5,1136.2 1298.6,1138.1" fill="url(#gOrT)" /><ellipse cx="1274" cy="1140" rx="20.5" ry="8.5" fill="#ff8f52"/><line x1="1266" y1="1176" x2="1270" y2="1158" stroke="#c9bcc6" stroke-width="7.4" stroke-linecap="round"/><line x1="1266" y1="1176" x2="1270" y2="1158" stroke="#f1ebf0" stroke-width="5" stroke-linecap="round"/><polygon points="1338,1186.6 1338.7,1181.3 1339.6,1176.1 1340.3,1174.5 1341.1,1173.4 1342.2,1172.7 1343.6,1172.1 1345.3,1171.8 1347.4,1171.6 1350.2,1171.6 1354.2,1171.8 1366.7,1173.1 1379.2,1174.5 1383.1,1175.1 1385.8,1175.7 1387.8,1176.3 1389.4,1177 1390.5,1177.8 1391.4,1178.8 1391.8,1180 1392,1181.7 1391.3,1187 1390.4,1192.2 1389.7,1193.8 1388.9,1194.8 1387.8,1195.6 1386.4,1196.2 1384.7,1196.5 1382.6,1196.7 1379.8,1196.7 1375.8,1196.4 1363.3,1195.1 1350.8,1193.7 1346.9,1193.2 1344.2,1192.6 1342.2,1192 1340.6,1191.2 1339.5,1190.4 1338.6,1189.5 1338.2,1188.2" fill="#8a8a96" opacity="0.28" filter="url(#blur3)"/><polygon points="1335,1164.5 1335.7,1159.2 1336.6,1154 1337.3,1152.4 1338.1,1151.3 1339.2,1150.6 1340.6,1150 1342.3,1149.7 1344.4,1149.5 1347.2,1149.5 1351.2,1149.8 1363.7,1151 1376.2,1152.5 1380.1,1153 1382.8,1153.6 1384.8,1154.2 1386.4,1154.9 1387.5,1155.8 1388.4,1156.7 1388.8,1157.9 1389,1159.6 1389,1178.7 1388.3,1184 1387.4,1189.2 1386.7,1190.8 1385.9,1191.8 1384.8,1192.6 1383.4,1193.2 1381.7,1193.5 1379.6,1193.7 1376.8,1193.7 1372.8,1193.4 1360.3,1192.1 1347.8,1190.7 1343.9,1190.2 1341.2,1189.6 1339.2,1189 1337.6,1188.2 1336.5,1187.4 1335.6,1186.5 1335.2,1185.2 1335,1183.6" fill="url(#gBrown)" stroke="#3d2330" stroke-width="0.9" stroke-opacity="0.55"/><polygon points="1333.3,1160.6 1334,1155 1335,1149.4 1335.7,1147.8 1336.6,1146.6 1337.7,1145.8 1339.2,1145.2 1341,1144.8 1343.3,1144.6 1346.3,1144.7 1350.5,1144.9 1363.8,1146.3 1377.1,1147.8 1381.3,1148.4 1384.1,1149 1386.3,1149.7 1387.9,1150.4 1389.2,1151.3 1390,1152.3 1390.6,1153.6 1390.7,1155.4 1390.7,1162.2 1390,1167.8 1389,1173.3 1388.3,1175 1387.4,1176.2 1386.3,1177 1384.8,1177.5 1383,1177.9 1380.7,1178.1 1377.7,1178.1 1373.5,1177.8 1360.2,1176.5 1346.9,1175 1342.7,1174.3 1339.9,1173.7 1337.7,1173.1 1336.1,1172.3 1334.8,1171.5 1334,1170.4 1333.4,1169.1 1333.3,1167.3" fill="url(#gPurS)" /><polygon points="1390,1161 1389,1166.6 1388.3,1168.3 1387.4,1169.4 1386.3,1170.2 1384.8,1170.8 1383,1171.2 1380.7,1171.4 1377.7,1171.3 1373.5,1171.1 1360.2,1169.7 1346.9,1168.2 1342.7,1167.6 1339.9,1167 1337.7,1166.3 1336.1,1165.6 1334.8,1164.7 1334,1163.7 1333.4,1162.4 1333.3,1160.6 1334,1155 1335,1149.4 1335.7,1147.7 1336.6,1146.6 1337.7,1145.8 1339.2,1145.2 1341,1144.8 1343.3,1144.6 1346.3,1144.7 1350.5,1144.9 1363.8,1146.3 1377.1,1147.8 1381.3,1148.4 1384.1,1149 1386.3,1149.7 1387.9,1150.4 1389.2,1151.3 1390,1152.3 1390.6,1153.6 1390.7,1155.4" fill="url(#gPurT)" /><polygon points="1379.4,1159.9 1378.4,1165.3 1377.9,1167 1377.3,1168.1 1376.5,1169 1375.6,1169.6 1374.4,1170 1373,1170.3 1371.1,1170.4 1368.5,1170.3 1360.2,1169.5 1352,1168.5 1349.4,1168.1 1347.7,1167.6 1346.3,1167 1345.4,1166.4 1344.6,1165.6 1344.1,1164.6 1343.9,1163.3 1343.9,1161.6 1344.6,1156.1 1345.6,1150.7 1346.1,1149 1346.7,1147.9 1347.5,1147 1348.4,1146.4 1349.6,1146 1351,1145.7 1352.9,1145.6 1355.5,1145.7 1363.8,1146.5 1372,1147.5 1374.6,1147.9 1376.3,1148.4 1377.7,1149 1378.6,1149.6 1379.4,1150.4 1379.9,1151.4 1380.1,1152.7 1380.1,1154.4" fill="#cfa0e4" opacity="0.28"/><ellipse cx="1360" cy="1150" rx="9" ry="6.5" fill="#5a3a70"/><ellipse cx="1359" cy="1148.5" rx="4.5" ry="3" fill="#c7a6d8"/><polygon points="1165,1208 1165.4,1206.1 1166.5,1204.2 1168.3,1202.5 1170.8,1200.9 1173.9,1199.6 1177.5,1198.5 1181.5,1197.7 1185.7,1197.2 1190,1197 1194.3,1197.2 1198.5,1197.7 1202.5,1198.5 1206.1,1199.6 1209.2,1200.9 1211.7,1202.5 1213.5,1204.2 1214.6,1206.1 1215,1208 1214.6,1209.9 1213.5,1211.8 1211.7,1213.5 1209.2,1215.1 1206.1,1216.4 1202.5,1217.5 1198.5,1218.3 1194.3,1218.8 1190,1219 1185.7,1218.8 1181.5,1218.3 1177.5,1217.5 1173.9,1216.4 1170.8,1215.1 1168.3,1213.5 1166.5,1211.8 1165.4,1209.9" fill="#8a8a96" opacity="0.22" filter="url(#blur3)"/><polygon points="1162,1175 1162.4,1173.1 1163.5,1171.2 1165.3,1169.5 1167.8,1167.9 1170.9,1166.6 1174.5,1165.5 1178.5,1164.7 1182.7,1164.2 1187,1164 1191.3,1164.2 1195.5,1164.7 1199.5,1165.5 1203.1,1166.6 1206.2,1167.9 1208.7,1169.5 1210.5,1171.2 1211.6,1173.1 1212,1175 1212,1205 1211.6,1206.9 1210.5,1208.8 1208.7,1210.5 1206.2,1212.1 1203.1,1213.4 1199.5,1214.5 1195.5,1215.3 1191.3,1215.8 1187,1216 1182.7,1215.8 1178.5,1215.3 1174.5,1214.5 1170.9,1213.4 1167.8,1212.1 1165.3,1210.5 1163.5,1208.8 1162.4,1206.9 1162,1205" fill="url(#gOrS)" /><polygon points="1212,1175 1211.6,1176.9 1210.5,1178.8 1208.7,1180.5 1206.2,1182.1 1203.1,1183.4 1199.5,1184.5 1195.6,1185.3 1191.3,1185.8 1187,1186 1182.7,1185.8 1178.4,1185.3 1174.5,1184.5 1170.9,1183.4 1167.8,1182.1 1165.3,1180.5 1163.5,1178.8 1162.4,1176.9 1162,1175 1162.4,1173.1 1163.5,1171.2 1165.3,1169.5 1167.8,1167.9 1170.9,1166.6 1174.5,1165.5 1178.4,1164.7 1182.7,1164.2 1187,1164 1191.3,1164.2 1195.6,1164.7 1199.5,1165.5 1203.1,1166.6 1206.2,1167.9 1208.7,1169.5 1210.5,1171.2 1211.6,1173.1" fill="url(#gOrT)" /><line x1="1187.5" y1="1174" x2="1183.5" y2="1074" stroke="#d6ccd6" stroke-width="7.4" stroke-linecap="round"/><line x1="1187.5" y1="1174" x2="1183.5" y2="1074" stroke="#f8f5f8" stroke-width="5" stroke-linecap="round"/><rect x="1161" y="1020" width="45" height="57" rx="17" fill="url(#gMic)"/><rect x="1175" y="1034" width="17" height="32" rx="8" fill="none" stroke="#7c5a6c" stroke-width="1.6"/><polygon points="1094.4,1267.1 1095,1260.7 1096.2,1254.3 1097.2,1252.8 1098.7,1251.9 1100.7,1251.3 1103.4,1251 1106.8,1250.9 1111.2,1251 1117.1,1251.5 1125.8,1252.4 1159.7,1256.4 1193.6,1260.5 1202.2,1261.7 1208,1262.6 1212.3,1263.5 1215.6,1264.4 1218.1,1265.3 1219.9,1266.3 1221.1,1267.6 1221.6,1269.3 1221,1275.7 1219.8,1282.1 1218.8,1283.6 1217.3,1284.6 1215.3,1285.2 1212.6,1285.5 1209.2,1285.5 1204.8,1285.4 1198.9,1285 1190.2,1284.1 1156.3,1280.1 1122.4,1276 1113.8,1274.8 1108,1273.8 1103.7,1273 1100.4,1272.1 1097.9,1271.1 1096.1,1270.1 1094.9,1268.8" fill="#8a8a96" opacity="0.28" filter="url(#blur3)"/><polygon points="1091.4,1230.4 1092,1224 1093.2,1217.6 1094.2,1216.1 1095.7,1215.2 1097.7,1214.6 1100.4,1214.2 1103.8,1214.2 1108.2,1214.3 1114.1,1214.8 1122.8,1215.7 1156.7,1219.7 1190.6,1223.8 1199.2,1224.9 1205,1225.9 1209.3,1226.8 1212.6,1227.7 1215.1,1228.6 1216.9,1229.6 1218.1,1230.9 1218.6,1232.6 1218.6,1266.3 1218,1272.7 1216.8,1279.1 1215.8,1280.6 1214.3,1281.6 1212.3,1282.2 1209.6,1282.5 1206.2,1282.5 1201.8,1282.4 1195.9,1282 1187.2,1281.1 1153.3,1277.1 1119.4,1273 1110.8,1271.8 1105,1270.8 1100.7,1270 1097.4,1269.1 1094.9,1268.1 1093.1,1267.1 1091.9,1265.8 1091.4,1264.1" fill="url(#gBrownD)" stroke="#3d2330" stroke-width="0.9" stroke-opacity="0.55"/><polygon points="1087.3,1225.8 1088,1219 1089.2,1212.2 1090.3,1210.6 1091.9,1209.6 1094.1,1209 1096.9,1208.7 1100.5,1208.6 1105.2,1208.7 1111.5,1209.2 1120.7,1210.1 1156.8,1214.4 1192.9,1218.8 1202.1,1220 1208.2,1221 1212.8,1222 1216.3,1222.9 1218.9,1223.9 1220.9,1225 1222.1,1226.3 1222.7,1228.2 1222.7,1235.7 1222,1242.5 1220.8,1249.3 1219.7,1250.9 1218.1,1251.9 1215.9,1252.5 1213.1,1252.8 1209.5,1252.9 1204.8,1252.8 1198.5,1252.3 1189.3,1251.4 1153.2,1247.1 1117.1,1242.7 1107.9,1241.5 1101.8,1240.5 1097.2,1239.5 1093.7,1238.6 1091.1,1237.6 1089.1,1236.5 1087.9,1235.2 1087.3,1233.3" fill="url(#gTealS)" /><polygon points="1222,1235 1220.8,1241.8 1219.7,1243.4 1218.1,1244.4 1215.9,1245 1213.1,1245.4 1209.4,1245.4 1204.8,1245.3 1198.5,1244.8 1189.3,1243.9 1153.2,1239.6 1117.1,1235.2 1107.9,1234 1101.8,1233 1097.2,1232 1093.7,1231.1 1091.1,1230.1 1089.1,1229 1087.9,1227.7 1087.3,1225.8 1088,1219 1089.2,1212.2 1090.3,1210.6 1091.9,1209.6 1094.1,1209 1096.9,1208.6 1100.6,1208.6 1105.2,1208.7 1111.5,1209.2 1120.7,1210.1 1156.8,1214.4 1192.9,1218.8 1202.1,1220 1208.2,1221 1212.8,1222 1216.3,1222.9 1218.9,1223.9 1220.9,1225 1222.1,1226.3 1222.7,1228.2" fill="url(#gTealT)" /><polygon points="1196.5,1232 1195.4,1238.6 1194.7,1240.2 1193.6,1241.3 1192.2,1242 1190.4,1242.4 1188.2,1242.7 1185.2,1242.7 1181.3,1242.5 1175.6,1242 1153.2,1239.3 1130.9,1236.6 1125.2,1235.8 1121.4,1235.1 1118.6,1234.4 1116.4,1233.6 1114.8,1232.7 1113.7,1231.7 1113,1230.5 1112.7,1228.7 1113.5,1222 1114.6,1215.4 1115.3,1213.8 1116.4,1212.7 1117.8,1212 1119.6,1211.6 1121.8,1211.3 1124.8,1211.3 1128.7,1211.5 1134.4,1212 1156.8,1214.7 1179.1,1217.4 1184.8,1218.2 1188.6,1218.9 1191.4,1219.6 1193.6,1220.4 1195.2,1221.3 1196.3,1222.3 1197,1223.5 1197.3,1225.3" fill="#8fe4df" opacity="0.28"/><text x="1128" y="1231.5" font-family="Liberation Sans,sans-serif" font-size="5.6" font-weight="bold" fill="#d8fbf8" textLength="40" lengthAdjust="spacingAndGlyphs" transform="rotate(7 1128 1231.5)">POWER SUPPLY</text><path d="M1166,1209 L1157,1216 L1162,1217 L1158,1223 L1169,1215 L1164,1214 Z" fill="#d8fbf8"/><polygon points="1293.5,1233 1294.1,1230 1295.8,1227 1298.5,1224.2 1302.3,1221.8 1306.9,1219.6 1312.2,1217.8 1318.2,1216.6 1324.5,1215.8 1331,1215.5 1337.5,1215.8 1343.8,1216.6 1349.8,1217.8 1355.1,1219.6 1359.7,1221.8 1363.5,1224.2 1366.2,1227 1367.9,1230 1368.5,1233 1367.9,1236 1366.2,1239 1363.5,1241.8 1359.7,1244.2 1355.1,1246.4 1349.8,1248.2 1343.8,1249.4 1337.5,1250.2 1331,1250.5 1324.5,1250.2 1318.2,1249.4 1312.2,1248.2 1306.9,1246.4 1302.3,1244.2 1298.5,1241.8 1295.8,1239 1294.1,1236" fill="#8a8a96" opacity="0.22" filter="url(#blur3)"/><polygon points="1290.5,1180 1291.1,1177 1292.8,1174 1295.5,1171.2 1299.3,1168.8 1303.9,1166.6 1309.2,1164.8 1315.2,1163.6 1321.5,1162.8 1328,1162.5 1334.5,1162.8 1340.8,1163.6 1346.8,1164.8 1352.1,1166.6 1356.7,1168.8 1360.5,1171.2 1363.2,1174 1364.9,1177 1365.5,1180 1365.5,1230 1364.9,1233 1363.2,1236 1360.5,1238.8 1356.7,1241.2 1352.1,1243.4 1346.8,1245.2 1340.8,1246.4 1334.5,1247.2 1328,1247.5 1321.5,1247.2 1315.2,1246.4 1309.2,1245.2 1303.9,1243.4 1299.3,1241.2 1295.5,1238.8 1292.8,1236 1291.1,1233 1290.5,1230" fill="url(#gTealS)" /><polygon points="1365.5,1180 1364.9,1183 1363.2,1186 1360.5,1188.8 1356.7,1191.2 1352.1,1193.4 1346.8,1195.2 1340.8,1196.4 1334.5,1197.2 1328,1197.5 1321.5,1197.2 1315.2,1196.4 1309.2,1195.2 1303.9,1193.4 1299.3,1191.2 1295.5,1188.8 1292.8,1186 1291.1,1183 1290.5,1180 1291.1,1177 1292.8,1174 1295.5,1171.2 1299.3,1168.8 1303.9,1166.6 1309.2,1164.8 1315.2,1163.6 1321.5,1162.8 1328,1162.5 1334.5,1162.8 1340.8,1163.6 1346.8,1164.8 1352.1,1166.6 1356.7,1168.8 1360.5,1171.2 1363.2,1174 1364.9,1177" fill="url(#gTealT)" /><ellipse cx="1328" cy="1180" rx="37.5" ry="17.5" fill="#7a5563"/><ellipse cx="1328" cy="1180" rx="31" ry="14" fill="#4fc9c5"/><ellipse cx="1328" cy="1181" rx="9" ry="4.5" fill="#bfeeea"/><path d="M1328,1182 C1324,1160 1338,1140 1336,1112" stroke="#ffffff" stroke-width="11" fill="none" opacity="0.9" filter="url(#blur3)" stroke-linecap="round"/><polygon points="1359.6,1307 1360.7,1299.7 1362,1292.4 1362.8,1290.2 1363.7,1288.7 1364.9,1287.5 1366.3,1286.7 1368,1286.1 1370.2,1285.7 1373,1285.5 1377,1285.5 1389.5,1286.3 1402.1,1287.3 1405.9,1287.8 1408.6,1288.4 1410.6,1289.1 1412.1,1290 1413.2,1291 1414,1292.3 1414.4,1293.9 1414.4,1296.2 1413.3,1303.5 1412,1310.7 1411.2,1312.9 1410.3,1314.5 1409.1,1315.6 1407.7,1316.5 1406,1317.1 1403.8,1317.5 1401,1317.7 1397,1317.6 1384.5,1316.8 1371.9,1315.8 1368.1,1315.3 1365.4,1314.7 1363.4,1314 1361.9,1313.2 1360.8,1312.2 1360,1310.9 1359.6,1309.2" fill="#8a8a96" opacity="0.28" filter="url(#blur3)"/><polygon points="1356.6,1273.8 1357.7,1266.5 1359,1259.3 1359.8,1257 1360.7,1255.5 1361.9,1254.4 1363.3,1253.5 1365,1252.9 1367.2,1252.5 1370,1252.3 1374,1252.3 1386.5,1253.2 1399.1,1254.1 1402.9,1254.7 1405.6,1255.2 1407.6,1255.9 1409.1,1256.8 1410.2,1257.8 1411,1259.1 1411.4,1260.7 1411.4,1263 1411.4,1293.2 1410.3,1300.5 1409,1307.7 1408.2,1309.9 1407.3,1311.5 1406.1,1312.6 1404.7,1313.5 1403,1314.1 1400.8,1314.5 1398,1314.7 1394,1314.6 1381.5,1313.8 1368.9,1312.8 1365.1,1312.3 1362.4,1311.7 1360.4,1311 1358.9,1310.2 1357.8,1309.2 1357,1307.9 1356.6,1306.2 1356.6,1304" fill="url(#gBrown)" stroke="#3d2330" stroke-width="0.9" stroke-opacity="0.55"/><polygon points="1354.8,1268.7 1356,1261 1357.4,1253.3 1358.2,1250.9 1359.2,1249.3 1360.5,1248.1 1362,1247.2 1363.8,1246.5 1366.2,1246.1 1369.1,1245.9 1373.3,1245.9 1386.7,1246.8 1400,1247.8 1404.2,1248.4 1407,1249 1409.1,1249.7 1410.7,1250.6 1411.9,1251.7 1412.7,1253.1 1413.1,1254.8 1413.2,1257.3 1413.2,1266.3 1412,1274 1410.6,1281.7 1409.8,1284.1 1408.8,1285.7 1407.5,1286.9 1406,1287.8 1404.2,1288.5 1401.8,1288.9 1398.9,1289.1 1394.7,1289.1 1381.3,1288.2 1368,1287.2 1363.8,1286.6 1361,1286 1358.9,1285.3 1357.3,1284.4 1356.1,1283.3 1355.3,1281.9 1354.9,1280.2 1354.8,1277.7" fill="url(#gPurS)" /><polygon points="1412,1265 1410.6,1272.7 1409.8,1275.1 1408.8,1276.7 1407.5,1277.9 1406,1278.8 1404.2,1279.5 1401.8,1279.9 1398.9,1280.1 1394.6,1280.1 1381.3,1279.2 1368,1278.2 1363.8,1277.6 1361,1277 1358.9,1276.3 1357.3,1275.4 1356.1,1274.3 1355.3,1272.9 1354.9,1271.2 1354.9,1268.7 1356,1261 1357.4,1253.3 1358.2,1250.9 1359.2,1249.3 1360.5,1248.1 1362,1247.2 1363.8,1246.5 1366.2,1246.1 1369.1,1245.9 1373.4,1245.9 1386.7,1246.8 1400,1247.8 1404.2,1248.4 1407,1249 1409.1,1249.7 1410.7,1250.6 1411.9,1251.7 1412.7,1253.1 1413.1,1254.8 1413.1,1257.3" fill="url(#gPurT)" /><polygon points="1401.4,1264.2 1400,1271.8 1399.4,1274.1 1398.6,1275.8 1397.8,1277 1396.8,1277.9 1395.6,1278.6 1394.1,1279.1 1392.3,1279.3 1389.6,1279.4 1381.4,1278.9 1373.1,1278.2 1370.6,1277.8 1368.8,1277.3 1367.5,1276.6 1366.6,1275.7 1365.9,1274.7 1365.5,1273.4 1365.3,1271.7 1365.5,1269.3 1366.6,1261.8 1368,1254.2 1368.6,1251.9 1369.4,1250.2 1370.2,1249 1371.2,1248.1 1372.4,1247.4 1373.9,1246.9 1375.7,1246.7 1378.4,1246.6 1386.6,1247.1 1394.9,1247.8 1397.4,1248.2 1399.2,1248.7 1400.5,1249.4 1401.4,1250.3 1402.1,1251.3 1402.5,1252.6 1402.7,1254.3 1402.5,1256.7" fill="#cfa0e4" opacity="0.28"/><ellipse cx="1384" cy="1258" rx="9" ry="6.5" fill="#2f9fb0"/><ellipse cx="1384" cy="1256.5" rx="8.4" ry="5.8" fill="#55c9d0"/><polygon points="1458.9,1188.5 1459.1,1183.2 1459.7,1178 1460.3,1176.4 1461.2,1175.3 1462.5,1174.5 1464.1,1173.9 1466.2,1173.5 1468.8,1173.3 1472.3,1173.2 1477.2,1173.3 1492.8,1174.1 1508.5,1175.1 1513.4,1175.5 1516.8,1176 1519.4,1176.5 1521.4,1177.2 1522.9,1178 1524,1178.9 1524.8,1180.1 1525.1,1181.8 1524.9,1187 1524.3,1192.2 1523.7,1193.8 1522.8,1195 1521.5,1195.8 1519.9,1196.3 1517.8,1196.8 1515.2,1197 1511.7,1197.1 1506.8,1197 1491.2,1196.1 1475.5,1195.2 1470.6,1194.7 1467.2,1194.3 1464.6,1193.7 1462.6,1193.1 1461.1,1192.3 1460,1191.4 1459.2,1190.2" fill="#8a8a96" opacity="0.28" filter="url(#blur3)"/><polygon points="1455.9,1165.4 1456.1,1160.2 1456.7,1154.9 1457.3,1153.3 1458.2,1152.2 1459.5,1151.4 1461.1,1150.8 1463.2,1150.4 1465.8,1150.2 1469.3,1150.1 1474.2,1150.2 1489.8,1151 1505.5,1152 1510.4,1152.5 1513.8,1152.9 1516.4,1153.5 1518.4,1154.1 1519.9,1154.9 1521,1155.8 1521.8,1157 1522.1,1158.7 1522.1,1178.8 1521.9,1184 1521.3,1189.2 1520.7,1190.8 1519.8,1192 1518.5,1192.8 1516.9,1193.3 1514.8,1193.8 1512.2,1194 1508.7,1194.1 1503.8,1194 1488.2,1193.1 1472.5,1192.2 1467.6,1191.7 1464.2,1191.3 1461.6,1190.7 1459.6,1190.1 1458.1,1189.3 1457,1188.4 1456.2,1187.2 1455.9,1185.5" fill="url(#gBrown)" stroke="#3d2330" stroke-width="0.9" stroke-opacity="0.55"/><polygon points="1453.7,1161.6 1454,1156 1454.6,1150.4 1455.3,1148.7 1456.2,1147.6 1457.6,1146.7 1459.3,1146.1 1461.5,1145.6 1464.3,1145.4 1468,1145.3 1473.2,1145.4 1489.9,1146.3 1506.6,1147.3 1511.8,1147.8 1515.4,1148.3 1518.1,1148.9 1520.2,1149.6 1521.9,1150.4 1523.1,1151.4 1523.9,1152.7 1524.3,1154.4 1524.3,1161.2 1524,1166.8 1523.4,1172.3 1522.7,1174 1521.8,1175.2 1520.4,1176 1518.7,1176.7 1516.5,1177.1 1513.7,1177.4 1510,1177.5 1504.8,1177.3 1488.1,1176.5 1471.4,1175.4 1466.2,1175 1462.6,1174.5 1459.9,1173.9 1457.8,1173.2 1456.1,1172.4 1454.9,1171.4 1454.1,1170.1 1453.7,1168.3" fill="url(#gPurS)" /><polygon points="1524,1160 1523.4,1165.6 1522.7,1167.3 1521.8,1168.4 1520.4,1169.3 1518.7,1169.9 1516.5,1170.4 1513.7,1170.6 1510,1170.7 1504.8,1170.6 1488.1,1169.7 1471.4,1168.7 1466.2,1168.2 1462.6,1167.7 1459.9,1167.1 1457.7,1166.4 1456.1,1165.6 1454.9,1164.6 1454.1,1163.4 1453.7,1161.6 1454,1156 1454.6,1150.4 1455.3,1148.7 1456.2,1147.6 1457.6,1146.7 1459.3,1146.1 1461.5,1145.6 1464.3,1145.4 1468,1145.3 1473.2,1145.4 1489.9,1146.3 1506.6,1147.3 1511.8,1147.8 1515.4,1148.3 1518.1,1148.9 1520.3,1149.6 1521.9,1150.4 1523.1,1151.4 1523.9,1152.6 1524.3,1154.4" fill="url(#gPurT)" /><polygon points="1510.7,1159.2 1510.2,1164.7 1509.7,1166.4 1509.1,1167.5 1508.2,1168.4 1507.1,1169.1 1505.7,1169.5 1504,1169.9 1501.7,1170 1498.5,1170 1488.1,1169.5 1477.8,1168.8 1474.6,1168.5 1472.3,1168 1470.6,1167.5 1469.3,1166.9 1468.4,1166.1 1467.6,1165.2 1467.2,1164 1467,1162.2 1467.3,1156.8 1467.8,1151.3 1468.3,1149.6 1468.9,1148.5 1469.8,1147.6 1470.9,1146.9 1472.3,1146.5 1474,1146.1 1476.3,1146 1479.5,1146 1489.9,1146.5 1500.2,1147.2 1503.4,1147.5 1505.7,1148 1507.4,1148.5 1508.7,1149.1 1509.6,1149.9 1510.4,1150.8 1510.8,1152 1511,1153.8" fill="#cfa0e4" opacity="0.28"/><path d="M1475,1154 C1477,1130.9 1484.2,1126.7 1484.2,1112 L1486.8,1049.2 L1486.7,1012.1 L1500.9,1012.1 L1497.8,1049.2 L1495.2,1112 C1495.2,1126.7 1499,1130.9 1501,1154 Z" fill="url(#gLampStem)"/><g transform="rotate(2 1494.5 995)"><path d="M1480.2,941.2 A14.2,14.2 0 0 1 1508.8,941.2 L1508.8,982.2 C1508.8,997.9 1501.6,999.3 1501.6,1013.1 L1487.4,1013.1 C1487.4,999.3 1480.2,997.9 1480.2,982.2 Z" fill="#ecd6f6" opacity="0.6" filter="url(#blur3)" transform="translate(0 -2)"/><path d="M1480.2,941.2 A14.2,14.2 0 0 1 1508.8,941.2 L1508.8,982.2 C1508.8,997.9 1501.6,999.3 1501.6,1013.1 L1487.4,1013.1 C1487.4,999.3 1480.2,997.9 1480.2,982.2 Z" fill="url(#gLampHead)"/><path d="M1480.2,941.2 A14.2,14.2 0 0 1 1508.8,941.2 L1508.8,982.2 C1508.8,997.9 1501.6,999.3 1501.6,1013.1 L1487.4,1013.1 C1487.4,999.3 1480.2,997.9 1480.2,982.2 Z" fill="url(#gLampHeadX)"/><rect x="1484.2" y="934.7" width="19.9" height="50.9" rx="10" fill="#ffffff" filter="url(#blur1)"/></g><polygon points="1448.6,1275.5 1449.2,1268.6 1450.2,1261.8 1451,1259.7 1452,1258.2 1453.4,1257.1 1455.2,1256.3 1457.4,1255.8 1460.3,1255.4 1463.9,1255.2 1469.1,1255.3 1485.7,1256.1 1502.2,1257.1 1507.4,1257.6 1511,1258.1 1513.7,1258.8 1515.8,1259.6 1517.3,1260.6 1518.4,1261.8 1519.2,1263.3 1519.4,1265.5 1518.8,1272.4 1517.8,1279.2 1517,1281.3 1516,1282.8 1514.6,1283.8 1512.8,1284.6 1510.6,1285.2 1507.7,1285.6 1504.1,1285.8 1498.9,1285.7 1482.3,1284.9 1465.8,1283.9 1460.6,1283.4 1457,1282.8 1454.3,1282.2 1452.2,1281.4 1450.7,1280.4 1449.6,1279.2 1448.8,1277.6" fill="#8a8a96" opacity="0.28" filter="url(#blur3)"/><polygon points="1445.6,1241.5 1446.2,1234.6 1447.2,1227.8 1448,1225.7 1449,1224.2 1450.4,1223.1 1452.2,1222.3 1454.4,1221.8 1457.3,1221.4 1460.9,1221.2 1466.1,1221.3 1482.7,1222.1 1499.2,1223.1 1504.4,1223.6 1508,1224.1 1510.7,1224.8 1512.8,1225.6 1514.3,1226.6 1515.4,1227.8 1516.2,1229.3 1516.4,1231.5 1516.4,1262.5 1515.8,1269.4 1514.8,1276.2 1514,1278.3 1513,1279.8 1511.6,1280.8 1509.8,1281.6 1507.6,1282.2 1504.7,1282.6 1501.1,1282.8 1495.9,1282.7 1479.3,1281.9 1462.8,1280.9 1457.6,1280.4 1454,1279.8 1451.3,1279.2 1449.2,1278.4 1447.7,1277.4 1446.6,1276.2 1445.8,1274.6 1445.6,1272.5" fill="url(#gMauve)" stroke="#3d2330" stroke-width="0.9" stroke-opacity="0.55"/><polygon points="1443.3,1237.3 1444,1230 1445,1222.7 1445.9,1220.5 1447,1218.9 1448.5,1217.8 1450.4,1216.9 1452.7,1216.3 1455.7,1215.9 1459.6,1215.8 1465.2,1215.8 1482.8,1216.7 1500.4,1217.7 1505.9,1218.2 1509.7,1218.8 1512.6,1219.6 1514.8,1220.4 1516.5,1221.5 1517.6,1222.8 1518.4,1224.4 1518.7,1226.7 1518.7,1234.2 1518,1241.5 1517,1248.8 1516.1,1251 1515,1252.6 1513.5,1253.7 1511.6,1254.6 1509.3,1255.2 1506.3,1255.6 1502.4,1255.8 1496.8,1255.7 1479.2,1254.8 1461.6,1253.8 1456.1,1253.2 1452.3,1252.7 1449.4,1251.9 1447.2,1251.1 1445.5,1250 1444.4,1248.8 1443.6,1247.1 1443.3,1244.8" fill="url(#gOrS)" /><polygon points="1518,1234 1517,1241.3 1516.1,1243.5 1515,1245.1 1513.5,1246.2 1511.6,1247.1 1509.3,1247.7 1506.3,1248.1 1502.4,1248.2 1496.8,1248.2 1479.2,1247.3 1461.6,1246.3 1456.1,1245.7 1452.3,1245.2 1449.4,1244.4 1447.2,1243.6 1445.6,1242.5 1444.4,1241.2 1443.6,1239.6 1443.3,1237.3 1444,1230 1445,1222.7 1445.9,1220.5 1447,1218.9 1448.5,1217.8 1450.4,1216.9 1452.7,1216.3 1455.7,1215.9 1459.6,1215.8 1465.2,1215.8 1482.8,1216.7 1500.4,1217.7 1505.9,1218.3 1509.7,1218.8 1512.6,1219.6 1514.8,1220.4 1516.4,1221.5 1517.6,1222.8 1518.4,1224.4 1518.7,1226.7" fill="url(#gOrT)" /><polygon points="1503.9,1233.2 1503,1240.4 1502.4,1242.6 1501.6,1244.1 1500.6,1245.3 1499.4,1246.1 1497.9,1246.8 1496,1247.2 1493.6,1247.5 1490.2,1247.5 1479.2,1247 1468.3,1246.3 1464.9,1245.9 1462.6,1245.4 1460.8,1244.8 1459.5,1244 1458.5,1243 1457.8,1241.7 1457.4,1240.2 1457.3,1237.9 1458.1,1230.8 1459,1223.6 1459.6,1221.4 1460.4,1219.9 1461.4,1218.7 1462.6,1217.9 1464.1,1217.2 1466,1216.8 1468.4,1216.5 1471.8,1216.5 1482.8,1217 1493.7,1217.7 1497.1,1218.1 1499.4,1218.6 1501.2,1219.2 1502.5,1220 1503.5,1221 1504.2,1222.3 1504.6,1223.8 1504.7,1226.1" fill="#ff9a66" opacity="0.28"/><ellipse cx="1479" cy="1226" rx="24" ry="9" fill="#c8321e"/><path d="M1440,1203 L1452,1200 L1458,1190 L1466,1192 L1474,1176 L1482,1160 L1489,1176 L1496,1192 L1506,1188 L1510,1200 L1522,1203 L1522,1217 L1440,1217 Z" fill="#a5a3ad"/><path d="M1440,1210 L1522,1210 L1522,1217 L1440,1217 Z" fill="#8e8c98"/><polygon points="1440,1372.6 1441.1,1367.3 1442.5,1362.1 1443.3,1360.5 1444.4,1359.4 1445.8,1358.7 1447.6,1358.1 1449.7,1357.8 1452.4,1357.6 1455.9,1357.6 1460.9,1357.8 1476.5,1359.1 1492.2,1360.5 1497.1,1361.1 1500.4,1361.7 1502.9,1362.3 1504.8,1363 1506.3,1363.8 1507.3,1364.8 1507.8,1366 1508,1367.7 1506.9,1373 1505.5,1378.2 1504.7,1379.8 1503.6,1380.8 1502.2,1381.6 1500.4,1382.2 1498.3,1382.5 1495.6,1382.7 1492.1,1382.7 1487.1,1382.4 1471.5,1381.1 1455.8,1379.7 1450.9,1379.2 1447.6,1378.6 1445.1,1378 1443.2,1377.2 1441.7,1376.4 1440.7,1375.5 1440.2,1374.2" fill="#8a8a96" opacity="0.28" filter="url(#blur3)"/><polygon points="1437,1324 1438.1,1318.8 1439.5,1313.6 1440.3,1312 1441.4,1310.9 1442.8,1310.1 1444.6,1309.6 1446.7,1309.2 1449.4,1309 1452.9,1309.1 1457.9,1309.3 1473.5,1310.6 1489.2,1312 1494.1,1312.6 1497.4,1313.2 1499.9,1313.8 1501.8,1314.5 1503.3,1315.3 1504.3,1316.3 1504.8,1317.5 1505,1319.2 1505,1364.7 1503.9,1370 1502.5,1375.2 1501.7,1376.8 1500.6,1377.8 1499.2,1378.6 1497.4,1379.2 1495.3,1379.5 1492.6,1379.7 1489.1,1379.7 1484.1,1379.4 1468.5,1378.1 1452.8,1376.7 1447.9,1376.2 1444.6,1375.6 1442.1,1375 1440.2,1374.2 1438.7,1373.4 1437.7,1372.5 1437.2,1371.2 1437,1369.6" fill="url(#gOrS)" stroke="#3d2330" stroke-width="0.9" stroke-opacity="0.55"/><polygon points="1434.9,1320.6 1436,1315 1437.5,1309.4 1438.4,1307.8 1439.5,1306.6 1441,1305.8 1442.9,1305.2 1445.2,1304.8 1448.1,1304.6 1451.8,1304.7 1457,1304.9 1473.7,1306.3 1490.3,1307.8 1495.5,1308.4 1499.1,1309 1501.8,1309.7 1503.8,1310.4 1505.3,1311.3 1506.4,1312.3 1507,1313.6 1507.1,1315.4 1507.1,1321.4 1506,1327 1504.5,1332.6 1503.6,1334.2 1502.5,1335.4 1501,1336.2 1499.1,1336.8 1496.8,1337.2 1493.9,1337.4 1490.2,1337.3 1485,1337.1 1468.3,1335.7 1451.7,1334.2 1446.5,1333.6 1442.9,1333 1440.2,1332.3 1438.2,1331.6 1436.7,1330.7 1435.6,1329.7 1435,1328.4 1434.9,1326.6" fill="url(#gOrS)" /><polygon points="1506,1321 1504.5,1326.6 1503.6,1328.3 1502.5,1329.4 1501,1330.2 1499.1,1330.8 1496.8,1331.2 1493.9,1331.4 1490.2,1331.3 1485,1331.1 1468.3,1329.7 1451.6,1328.2 1446.5,1327.6 1442.9,1327 1440.2,1326.3 1438.2,1325.6 1436.7,1324.7 1435.6,1323.7 1435,1322.4 1434.9,1320.6 1436,1315 1437.5,1309.4 1438.4,1307.7 1439.5,1306.6 1441,1305.8 1442.9,1305.2 1445.2,1304.8 1448.1,1304.6 1451.8,1304.7 1457,1304.9 1473.7,1306.3 1490.4,1307.8 1495.5,1308.4 1499.1,1309 1501.8,1309.7 1503.8,1310.4 1505.3,1311.3 1506.4,1312.3 1507,1313.6 1507.1,1315.4" fill="url(#gOrT)" /><polygon points="1492.7,1319.9 1491.3,1325.3 1490.6,1327 1489.8,1328.1 1488.8,1329 1487.6,1329.6 1486.1,1330 1484.3,1330.3 1482,1330.4 1478.7,1330.3 1468.4,1329.5 1458,1328.5 1454.8,1328.1 1452.7,1327.6 1451,1327 1449.8,1326.4 1448.9,1325.6 1448.3,1324.6 1448.1,1323.3 1448.1,1321.6 1449.3,1316.1 1450.7,1310.7 1451.4,1309 1452.2,1307.9 1453.2,1307 1454.4,1306.4 1455.9,1306 1457.7,1305.7 1460,1305.6 1463.3,1305.7 1473.6,1306.5 1484,1307.5 1487.2,1307.9 1489.3,1308.4 1491,1309 1492.2,1309.6 1493.1,1310.4 1493.7,1311.4 1493.9,1312.7 1493.9,1314.4" fill="#ff9a66" opacity="0.28"/><rect x="1451" y="1270" width="37" height="50" rx="12" fill="url(#gOrT)"/><rect x="1451" y="1266" width="37" height="24" rx="12" fill="#f7743a"/><rect x="1458" y="1269" width="3" height="12" rx="1.5" fill="#c9481a"/><rect x="1465" y="1269" width="3" height="12" rx="1.5" fill="#c9481a"/><rect x="1472" y="1269" width="3" height="12" rx="1.5" fill="#c9481a"/><rect x="1479" y="1269" width="3" height="12" rx="1.5" fill="#c9481a"/><polygon points="884,1336 910,1318 990,1318 990,1352 968,1386 884,1372" fill="#df551e"/><polygon points="884,1336 968,1344 968,1386 884,1372" fill="#f2672b"/><polygon points="884,1336 910,1318 990,1318 968,1344" fill="#ff8448"/><line x1="912" y1="1328" x2="978" y2="1326" stroke="#f26428" stroke-width="26" stroke-linecap="round"/><line x1="912" y1="1322" x2="976" y2="1320" stroke="#ff8a50" stroke-width="9" stroke-linecap="round" opacity="0.7"/><ellipse cx="986" cy="1327" rx="7" ry="13" fill="#d94f1c"/><polygon points="940,1296 976,1296 966,1318 950,1318" fill="#f26428"/><rect x="949" y="1312" width="18" height="16" fill="#ee5f24"/><circle cx="916" cy="1362" r="3.5" fill="#c9481a"/><circle cx="957.5" cy="1290" r="17" fill="url(#gBall)"/><polygon points="1010.4,1390 1011.1,1382.7 1012.3,1375.4 1013.3,1373.6 1014.8,1372.5 1016.9,1371.7 1019.6,1371.2 1023,1370.8 1027.5,1370.8 1033.5,1370.9 1042.2,1371.4 1076.7,1373.9 1111.1,1376.4 1119.9,1377.3 1125.8,1378 1130.1,1378.7 1133.5,1379.5 1136,1380.4 1137.8,1381.5 1139,1382.9 1139.6,1384.8 1138.9,1392.1 1137.7,1399.4 1136.7,1401.2 1135.2,1402.3 1133.1,1403.1 1130.4,1403.6 1127,1403.9 1122.5,1404 1116.5,1403.9 1107.8,1403.4 1073.3,1400.9 1038.9,1398.3 1030.1,1397.5 1024.2,1396.8 1019.9,1396.1 1016.5,1395.3 1014,1394.3 1012.2,1393.3 1011,1391.9" fill="#8a8a96" opacity="0.28" filter="url(#blur3)"/><polygon points="1007.4,1345 1008.1,1337.7 1009.3,1330.4 1010.3,1328.6 1011.8,1327.5 1013.9,1326.7 1016.6,1326.2 1020,1325.8 1024.5,1325.8 1030.5,1325.9 1039.2,1326.4 1073.7,1328.9 1108.1,1331.5 1116.9,1332.3 1122.8,1333 1127.1,1333.7 1130.5,1334.5 1133,1335.4 1134.8,1336.5 1136,1337.9 1136.6,1339.8 1136.6,1381.8 1135.9,1389.1 1134.7,1396.4 1133.7,1398.2 1132.2,1399.3 1130.1,1400.1 1127.4,1400.6 1124,1400.9 1119.5,1401 1113.5,1400.9 1104.8,1400.4 1070.3,1397.9 1035.9,1395.3 1027.1,1394.5 1021.2,1393.8 1016.9,1393.1 1013.5,1392.3 1011,1391.3 1009.2,1390.3 1008,1388.9 1007.4,1387" fill="url(#gBrownD)" stroke="#3d2330" stroke-width="0.9" stroke-opacity="0.55"/><polygon points="1003.3,1339.8 1004,1332 1005.2,1324.3 1006.3,1322.3 1008,1321.1 1010.1,1320.3 1013,1319.7 1016.7,1319.4 1021.5,1319.3 1027.8,1319.5 1037.2,1320 1073.8,1322.6 1110.4,1325.3 1119.7,1326.2 1126,1327 1130.6,1327.8 1134.2,1328.6 1136.9,1329.6 1138.8,1330.7 1140.1,1332.2 1140.7,1334.2 1140.7,1343.2 1140,1351 1138.8,1358.7 1137.7,1360.7 1136,1361.9 1133.8,1362.7 1131,1363.3 1127.3,1363.6 1122.5,1363.7 1116.2,1363.5 1106.8,1363 1070.2,1360.4 1033.6,1357.7 1024.3,1356.8 1018,1356 1013.4,1355.2 1009.8,1354.4 1007.1,1353.4 1005.2,1352.3 1003.9,1350.8 1003.3,1348.8" fill="url(#gTealS)" /><polygon points="1140,1342 1138.7,1349.7 1137.7,1351.7 1136.1,1352.9 1133.9,1353.7 1131,1354.3 1127.3,1354.6 1122.5,1354.7 1116.2,1354.5 1106.8,1354 1070.2,1351.4 1033.6,1348.6 1024.3,1347.8 1018,1347 1013.4,1346.2 1009.8,1345.4 1007.1,1344.4 1005.2,1343.3 1003.9,1341.8 1003.3,1339.8 1004,1332 1005.3,1324.3 1006.3,1322.3 1007.9,1321.1 1010.1,1320.3 1013,1319.7 1016.7,1319.4 1021.5,1319.3 1027.8,1319.5 1037.2,1320 1073.8,1322.6 1110.4,1325.4 1119.7,1326.2 1126,1327 1130.6,1327.8 1134.2,1328.6 1136.9,1329.6 1138.8,1330.7 1140.1,1332.2 1140.7,1334.2" fill="url(#gTealT)" /><polygon points="1114.2,1340.1 1113,1347.7 1112.3,1349.6 1111.2,1350.8 1109.8,1351.7 1108,1352.3 1105.7,1352.7 1102.7,1353 1098.8,1353 1093,1352.7 1070.2,1351.1 1047.5,1349.4 1041.8,1348.8 1037.9,1348.2 1035,1347.6 1032.9,1346.8 1031.2,1345.9 1030.1,1344.9 1029.3,1343.5 1029.1,1341.5 1029.8,1333.9 1031,1326.3 1031.7,1324.4 1032.8,1323.2 1034.2,1322.3 1036,1321.7 1038.3,1321.3 1041.3,1321 1045.2,1321 1051,1321.3 1073.8,1322.9 1096.5,1324.6 1102.2,1325.2 1106.1,1325.8 1109,1326.4 1111.1,1327.2 1112.8,1328.1 1113.9,1329.1 1114.7,1330.5 1114.9,1332.5" fill="#8fe4df" opacity="0.28"/><path d="M1046,1368 L1120,1372 L1120,1382 L1046,1378 Z" fill="#8a3ab0" opacity="0.8"/><path d="M1030,1300 L1044,1294 L1090,1322 L1080,1336 Z" fill="#b277d0"/><ellipse cx="1082" cy="1328" rx="13" ry="8" fill="#a964c8"/><rect x="1030" y="1286" width="12" height="22" rx="6" fill="#a964c8" transform="rotate(-14 1036 1297)"/><rect x="1044" y="1284" width="11" height="20" rx="5.5" fill="#b880d4" transform="rotate(-14 1049 1294)"/><polygon points="1178.4,1386 1179.5,1380.2 1181.1,1374.4 1182.1,1372.6 1183.4,1371.4 1185,1370.5 1187.1,1369.9 1189.7,1369.5 1192.9,1369.3 1197.1,1369.3 1203,1369.5 1221.8,1370.8 1240.6,1372.2 1246.5,1372.8 1250.5,1373.4 1253.5,1374 1255.8,1374.8 1257.5,1375.7 1258.8,1376.8 1259.5,1378.1 1259.6,1380 1258.5,1385.8 1256.9,1391.6 1255.9,1393.4 1254.6,1394.6 1253,1395.5 1250.9,1396.1 1248.3,1396.5 1245.1,1396.7 1240.9,1396.7 1235,1396.5 1216.2,1395.2 1197.4,1393.8 1191.5,1393.2 1187.5,1392.6 1184.5,1392 1182.2,1391.2 1180.5,1390.3 1179.2,1389.2 1178.5,1387.9" fill="#8a8a96" opacity="0.28" filter="url(#blur3)"/><polygon points="1172.8,1353.2 1174,1347 1175.6,1340.8 1176.7,1338.9 1178.1,1337.7 1179.8,1336.7 1182,1336.1 1184.8,1335.6 1188.2,1335.4 1192.7,1335.4 1199,1335.6 1219,1337 1239,1338.5 1245.2,1339.1 1249.5,1339.8 1252.7,1340.5 1255.2,1341.3 1257,1342.2 1258.3,1343.4 1259,1344.8 1259.2,1346.8 1259.2,1376.8 1258,1383 1256.4,1389.2 1255.3,1391.1 1253.9,1392.3 1252.2,1393.3 1250,1393.9 1247.2,1394.4 1243.8,1394.6 1239.3,1394.6 1233,1394.4 1213,1393 1193,1391.5 1186.8,1390.9 1182.5,1390.2 1179.3,1389.5 1176.8,1388.7 1175,1387.8 1173.7,1386.6 1173,1385.2 1172.8,1383.2" fill="url(#gTealS)" /><polygon points="1258,1353 1256.4,1359.2 1255.3,1361.1 1253.9,1362.3 1252.2,1363.3 1250,1363.9 1247.2,1364.4 1243.8,1364.6 1239.3,1364.6 1233,1364.4 1213,1363 1193,1361.5 1186.8,1360.9 1182.5,1360.2 1179.3,1359.5 1176.8,1358.7 1175,1357.8 1173.7,1356.6 1173,1355.2 1172.8,1353.2 1174,1347 1175.6,1340.8 1176.7,1338.9 1178.1,1337.7 1179.8,1336.7 1182,1336.1 1184.8,1335.6 1188.2,1335.4 1192.7,1335.4 1199,1335.6 1219,1337 1239,1338.5 1245.2,1339.1 1249.5,1339.8 1252.7,1340.5 1255.2,1341.3 1257,1342.2 1258.3,1343.4 1259,1344.8 1259.2,1346.8" fill="url(#gTealT)" /><polygon points="1242,1351.9 1240.5,1357.9 1239.7,1359.8 1238.7,1361.1 1237.5,1362 1236.1,1362.7 1234.4,1363.2 1232.2,1363.5 1229.4,1363.6 1225.5,1363.6 1213.1,1362.7 1200.7,1361.8 1196.8,1361.3 1194.2,1360.8 1192.2,1360.2 1190.8,1359.5 1189.7,1358.6 1189,1357.5 1188.6,1356.1 1188.7,1354.2 1190,1348.1 1191.5,1342.1 1192.3,1340.2 1193.3,1338.9 1194.5,1338 1195.9,1337.3 1197.6,1336.8 1199.8,1336.5 1202.6,1336.4 1206.5,1336.4 1218.9,1337.3 1231.3,1338.2 1235.2,1338.7 1237.8,1339.2 1239.8,1339.8 1241.2,1340.5 1242.3,1341.4 1243,1342.5 1243.4,1343.9 1243.3,1345.8" fill="#8fe4df" opacity="0.28"/><g opacity="0.9"><ellipse cx="1196" cy="1338" rx="20" ry="10" fill="#f4f2f8"/><ellipse cx="1240" cy="1340" rx="16" ry="8" fill="#f4f2f8"/></g><polygon points="1203,1316 1203.2,1314.9 1203.9,1313.8 1205,1312.8 1206.5,1311.8 1208.4,1311 1210.5,1310.4 1212.9,1309.9 1215.4,1309.6 1218,1309.5 1220.6,1309.6 1223.1,1309.9 1225.5,1310.4 1227.6,1311 1229.5,1311.8 1231,1312.8 1232.1,1313.8 1232.8,1314.9 1233,1316 1233,1340 1232.8,1341.1 1232.1,1342.2 1231,1343.2 1229.5,1344.2 1227.6,1345 1225.5,1345.6 1223.1,1346.1 1220.6,1346.4 1218,1346.5 1215.4,1346.4 1212.9,1346.1 1210.5,1345.6 1208.4,1345 1206.5,1344.2 1205,1343.2 1203.9,1342.2 1203.2,1341.1 1203,1340" fill="url(#gPurS)" /><polygon points="1233,1316 1232.8,1317.1 1232.1,1318.2 1231,1319.2 1229.5,1320.2 1227.6,1321 1225.5,1321.6 1223.1,1322.1 1220.6,1322.4 1218,1322.5 1215.4,1322.4 1212.9,1322.1 1210.5,1321.6 1208.4,1321 1206.5,1320.2 1205,1319.2 1203.9,1318.2 1203.2,1317.1 1203,1316 1203.2,1314.9 1203.9,1313.8 1205,1312.8 1206.5,1311.8 1208.4,1311 1210.5,1310.4 1212.9,1309.9 1215.4,1309.6 1218,1309.5 1220.6,1309.6 1223.1,1309.9 1225.5,1310.4 1227.6,1311 1229.5,1311.8 1231,1312.8 1232.1,1313.8 1232.8,1314.9" fill="url(#gPurT)" /><ellipse cx="1218" cy="1316" rx="15" ry="6.5" fill="#b98ad6"/><polygon points="1288.8,1401 1289.5,1395.4 1290.5,1389.8 1291.3,1388 1292.4,1386.9 1294,1386 1295.9,1385.5 1298.4,1385.1 1301.5,1384.8 1305.6,1384.8 1311.3,1385.1 1329.7,1386.4 1348,1387.8 1353.8,1388.4 1357.7,1389 1360.7,1389.6 1363,1390.4 1364.8,1391.2 1366,1392.3 1366.8,1393.6 1367.2,1395.4 1366.5,1401 1365.5,1406.7 1364.7,1408.4 1363.6,1409.5 1362,1410.4 1360.1,1411 1357.6,1411.4 1354.5,1411.6 1350.4,1411.6 1344.7,1411.3 1326.3,1410.1 1308,1408.7 1302.2,1408.1 1298.3,1407.5 1295.3,1406.8 1293,1406.1 1291.2,1405.2 1290,1404.2 1289.2,1402.9" fill="#8a8a96" opacity="0.28" filter="url(#blur3)"/><polygon points="1285.8,1363.3 1286.5,1357.7 1287.5,1352 1288.3,1350.3 1289.4,1349.2 1291,1348.3 1292.9,1347.7 1295.4,1347.3 1298.5,1347.1 1302.6,1347.1 1308.3,1347.4 1326.7,1348.7 1345,1350.1 1350.8,1350.7 1354.7,1351.2 1357.7,1351.9 1360,1352.6 1361.8,1353.5 1363,1354.6 1363.8,1355.9 1364.2,1357.7 1364.2,1392.4 1363.5,1398 1362.5,1403.7 1361.7,1405.4 1360.6,1406.5 1359,1407.4 1357.1,1408 1354.6,1408.4 1351.5,1408.6 1347.4,1408.6 1341.7,1408.3 1323.3,1407.1 1305,1405.7 1299.2,1405.1 1295.3,1404.5 1292.3,1403.8 1290,1403.1 1288.2,1402.2 1287,1401.2 1286.2,1399.9 1285.8,1398" fill="url(#gBrown)" stroke="#3d2330" stroke-width="0.9" stroke-opacity="0.55"/><polygon points="1283.3,1359 1284,1353 1285.1,1347 1285.9,1345.2 1287.2,1344 1288.8,1343.1 1290.9,1342.4 1293.5,1342 1296.8,1341.8 1301.1,1341.8 1307.3,1342 1326.8,1343.4 1346.3,1344.9 1352.4,1345.5 1356.6,1346.2 1359.8,1346.8 1362.3,1347.6 1364.1,1348.6 1365.5,1349.7 1366.3,1351.1 1366.7,1353 1366.7,1360.5 1366,1366.5 1364.9,1372.5 1364.1,1374.3 1362.8,1375.5 1361.2,1376.4 1359.1,1377.1 1356.5,1377.5 1353.2,1377.7 1348.9,1377.7 1342.7,1377.5 1323.2,1376.1 1303.7,1374.6 1297.6,1374 1293.4,1373.3 1290.2,1372.7 1287.7,1371.9 1285.9,1370.9 1284.5,1369.8 1283.7,1368.4 1283.3,1366.5" fill="url(#gPurS)" /><polygon points="1366,1359 1364.9,1365 1364.1,1366.8 1362.8,1368.1 1361.2,1368.9 1359.1,1369.6 1356.5,1370 1353.2,1370.2 1348.9,1370.2 1342.7,1370 1323.2,1368.6 1303.7,1367.1 1297.6,1366.5 1293.4,1365.8 1290.2,1365.2 1287.7,1364.4 1285.9,1363.4 1284.5,1362.3 1283.7,1360.9 1283.3,1359 1284,1353 1285.1,1347 1285.9,1345.2 1287.2,1343.9 1288.8,1343.1 1290.9,1342.4 1293.5,1342 1296.8,1341.8 1301.1,1341.8 1307.3,1342 1326.8,1343.4 1346.3,1344.9 1352.4,1345.5 1356.6,1346.2 1359.8,1346.8 1362.3,1347.6 1364.1,1348.6 1365.5,1349.7 1366.3,1351.1 1366.7,1353" fill="url(#gPurT)" /><polygon points="1350.4,1357.9 1349.5,1363.7 1348.8,1365.5 1348,1366.8 1346.9,1367.7 1345.6,1368.4 1343.9,1368.8 1341.9,1369.1 1339.2,1369.3 1335.3,1369.2 1323.2,1368.3 1311.1,1367.4 1307.4,1366.9 1304.8,1366.4 1302.8,1365.8 1301.3,1365.1 1300.2,1364.3 1299.4,1363.2 1299,1361.9 1298.9,1360 1299.6,1354.1 1300.5,1348.3 1301.2,1346.5 1302,1345.2 1303.1,1344.3 1304.4,1343.6 1306.1,1343.2 1308.1,1342.9 1310.8,1342.7 1314.7,1342.8 1326.8,1343.7 1338.9,1344.6 1342.6,1345.1 1345.2,1345.6 1347.2,1346.2 1348.7,1346.9 1349.8,1347.7 1350.6,1348.8 1351,1350.1 1351.1,1352" fill="#cfa0e4" opacity="0.28"/><ellipse cx="1325" cy="1350" rx="9" ry="6" fill="none" stroke="#4fc9d0" stroke-width="2.2"/><ellipse cx="1325" cy="1350" rx="3.5" ry="2.4" fill="#4fc9d0"/></svg>
<!-- titles -->
<g filter="url(#ts)" class="t" font-size="56.3" stroke="#fff" stroke-width="1.7" stroke-linejoin="round">
<text x="337.8" y="67.9" textLength="114.3" lengthAdjust="spacingAndGlyphs">150+</text>
<text x="465.8" y="67.9" textLength="208.3" lengthAdjust="spacingAndGlyphs">CIRCUIT</text>
<text x="691.3" y="67.9" textLength="370.3" lengthAdjust="spacingAndGlyphs">EXPERIMENTS</text>
<text x="1075.8" y="67.9" textLength="186.4" lengthAdjust="spacingAndGlyphs">GAMES</text>
<text x="150.8" y="135.2" font-size="55.2" textLength="373.75" lengthAdjust="spacingAndGlyphs">CHALLENGING</text>
<text x="537.8" y="135.2" font-size="55.2" textLength="291.3" lengthAdjust="spacingAndGlyphs">DIFFERENT</text>
<text x="844.8" y="135.2" font-size="55.2" textLength="187.3" lengthAdjust="spacingAndGlyphs">LEVELS</text>
<text x="1050.8" y="135.2" font-size="55.2" textLength="76.3" lengthAdjust="spacingAndGlyphs">OF</text>
<text x="1139.8" y="135.2" font-size="55.2" textLength="305.85" lengthAdjust="spacingAndGlyphs">DIFFICULTY</text>
</g>
<g filter="url(#ts)" class="lbl" font-size="53.5" stroke="#fff" stroke-width="2.4" stroke-linejoin="round">
<text x="301.3" y="812.3" textLength="231.2" lengthAdjust="spacingAndGlyphs">Primary</text>
<text x="997.2" y="812.3" textLength="369.6" lengthAdjust="spacingAndGlyphs">Intermediate</text>
<text x="278.5" y="1551.3" textLength="282.4" lengthAdjust="spacingAndGlyphs">Advanced</text>
<text x="1084.6" y="1551.8" textLength="196.4" lengthAdjust="spacingAndGlyphs">Master</text>
</g>
</svg>
</body></html>
